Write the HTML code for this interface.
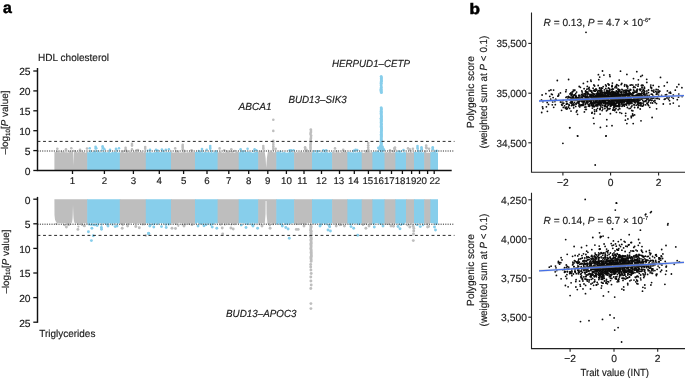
<!DOCTYPE html>
<html><head><meta charset="utf-8"><title>Figure</title>
<style>
html,body{margin:0;padding:0;background:#fff;}
svg{display:block;text-rendering:geometricPrecision;font-family:"Liberation Sans",sans-serif;font-size:10.3px;fill:#1a1a1a;}
text{stroke:#1a1a1a;stroke-width:0.16px;}
</style></head>
<body>
<svg width="685" height="378" viewBox="0 0 685 378">
<rect width="685" height="378" fill="#fff"/>
<g id="man-top">
<path d="M54.4,170.3 L54.4,151.6 L55.1,152.1 L55.8,152.2 L56.5,151.4 L57.2,151.6 L57.9,152.7 L58.6,151.5 L59.3,151.6 L60.0,152.7 L60.7,152.3 L61.4,151.9 L62.1,152.1 L62.8,152.3 L63.5,151.8 L64.2,151.6 L64.9,152.5 L65.6,152.3 L66.3,152.1 L67.0,152.5 L67.7,152.2 L68.4,152.8 L69.1,151.7 L69.8,152.2 L70.5,152.1 L71.2,151.9 L71.9,152.2 L72.6,151.7 L73.3,152.5 L74.0,152.6 L74.7,151.6 L75.4,152.1 L76.1,151.8 L76.8,151.5 L77.5,152.7 L78.2,152.0 L78.9,151.6 L79.6,152.3 L80.3,151.7 L81.0,152.7 L81.7,151.7 L82.4,151.4 L83.1,151.7 L83.8,151.9 L84.5,152.1 L85.2,152.7 L85.9,152.4 L86.6,151.9 L87.3,151.4 L87.8,152.1 L87.8,170.3Z" fill="#bebebe"/>
<path d="M87.2,170.3 L87.2,151.6 L87.9,152.8 L88.6,152.0 L89.3,152.4 L90.0,151.5 L90.7,151.4 L91.4,152.6 L92.1,152.2 L92.8,151.8 L93.5,151.8 L94.2,151.5 L94.9,151.6 L95.6,151.4 L96.3,152.6 L97.0,152.1 L97.7,151.6 L98.4,152.4 L99.1,151.7 L99.8,151.5 L100.5,152.2 L101.2,152.7 L101.9,151.4 L102.6,152.5 L103.3,151.7 L104.0,151.5 L104.7,151.4 L105.4,151.8 L106.1,152.4 L106.8,152.1 L107.5,152.6 L108.2,151.7 L108.9,151.8 L109.6,151.8 L110.3,152.8 L111.0,152.7 L111.7,151.9 L112.4,152.0 L113.1,151.8 L113.8,152.4 L114.5,151.5 L115.2,151.5 L115.9,152.0 L116.6,151.7 L117.3,152.6 L118.0,152.4 L118.7,152.2 L119.4,152.3 L120.1,152.4 L120.4,152.1 L120.4,170.3Z" fill="#87ceeb"/>
<path d="M119.8,170.3 L119.8,152.5 L120.5,152.7 L121.2,151.6 L121.9,152.3 L122.6,151.6 L123.3,152.0 L124.0,152.5 L124.7,152.7 L125.4,152.5 L126.1,151.4 L126.8,151.9 L127.5,151.6 L128.2,152.8 L128.9,151.6 L129.6,151.7 L130.3,151.9 L131.0,151.5 L131.7,152.6 L132.4,152.3 L133.1,151.6 L133.8,152.1 L134.5,151.5 L135.2,152.3 L135.9,151.7 L136.6,151.5 L137.3,151.6 L138.0,152.2 L138.7,152.3 L139.4,151.9 L140.1,152.3 L140.8,151.9 L141.5,151.6 L142.2,151.8 L142.9,152.0 L143.6,152.7 L144.3,151.6 L145.0,151.5 L145.7,152.2 L146.4,152.7 L146.4,152.1 L146.4,170.3Z" fill="#bebebe"/>
<path d="M145.8,170.3 L145.8,152.7 L146.5,152.4 L147.2,151.5 L147.9,152.5 L148.6,152.4 L149.3,151.6 L150.0,152.1 L150.7,151.5 L151.4,152.5 L152.1,152.4 L152.8,152.5 L153.5,152.5 L154.2,151.8 L154.9,152.5 L155.6,151.7 L156.3,151.6 L157.0,151.9 L157.7,152.1 L158.4,151.8 L159.1,152.2 L159.8,152.2 L160.5,151.7 L161.2,152.3 L161.9,151.9 L162.6,152.4 L163.3,151.8 L164.0,152.5 L164.7,152.0 L165.4,152.2 L166.1,152.3 L166.8,152.1 L167.5,151.8 L168.2,152.8 L168.9,151.5 L169.6,151.9 L170.3,152.2 L171.0,151.4 L171.6,152.1 L171.6,170.3Z" fill="#87ceeb"/>
<path d="M171.0,170.3 L171.0,151.6 L171.7,152.5 L172.4,152.5 L173.1,152.3 L173.8,152.7 L174.5,152.5 L175.2,151.8 L175.9,152.3 L176.6,151.9 L177.3,152.4 L178.0,151.9 L178.7,151.6 L179.4,152.6 L180.1,152.4 L180.8,152.4 L181.5,152.2 L182.2,152.5 L182.9,152.0 L183.6,152.2 L184.3,151.5 L185.0,152.2 L185.7,152.5 L186.4,152.4 L187.1,152.5 L187.8,152.1 L188.5,152.6 L189.2,151.6 L189.9,152.6 L190.6,151.9 L191.3,151.5 L192.0,152.3 L192.7,152.0 L193.4,152.0 L194.1,152.6 L194.8,151.6 L195.5,152.3 L195.6,152.1 L195.6,170.3Z" fill="#bebebe"/>
<path d="M195.0,170.3 L195.0,152.0 L195.7,152.1 L196.4,152.1 L197.1,151.6 L197.8,152.1 L198.5,152.6 L199.2,151.6 L199.9,151.4 L200.6,151.5 L201.3,152.0 L202.0,152.8 L202.7,151.5 L203.4,152.8 L204.1,152.2 L204.8,151.6 L205.5,152.0 L206.2,151.7 L206.9,152.4 L207.6,152.2 L208.3,151.8 L209.0,151.8 L209.7,152.6 L210.4,152.5 L211.1,152.0 L211.8,152.0 L212.5,152.4 L213.2,152.8 L213.9,151.5 L214.6,151.6 L215.3,151.9 L216.0,152.1 L216.7,151.5 L217.4,151.5 L218.1,151.7 L218.2,152.1 L218.2,170.3Z" fill="#87ceeb"/>
<path d="M217.6,170.3 L217.6,151.9 L218.3,152.4 L219.0,152.3 L219.7,151.4 L220.4,151.5 L221.1,152.0 L221.8,152.6 L222.5,152.7 L223.2,151.9 L223.9,152.6 L224.6,152.7 L225.3,152.0 L226.0,152.4 L226.7,151.9 L227.4,151.6 L228.1,152.2 L228.8,151.5 L229.5,152.3 L230.2,152.5 L230.9,152.7 L231.6,152.0 L232.3,151.6 L233.0,152.7 L233.7,152.6 L234.4,152.8 L235.1,152.2 L235.8,152.3 L236.5,151.9 L237.2,151.7 L237.9,151.8 L238.6,152.4 L239.3,152.1 L239.3,170.3Z" fill="#bebebe"/>
<path d="M238.7,170.3 L238.7,151.9 L239.4,152.4 L240.1,152.1 L240.8,152.0 L241.5,152.8 L242.2,151.6 L242.9,152.1 L243.6,151.6 L244.3,152.7 L245.0,152.1 L245.7,151.9 L246.4,151.6 L247.1,152.2 L247.8,152.0 L248.5,151.6 L249.2,151.4 L249.9,151.9 L250.6,152.2 L251.3,152.1 L252.0,152.7 L252.7,152.7 L253.4,152.7 L254.1,152.5 L254.8,152.1 L255.5,152.1 L256.2,152.0 L256.9,152.0 L257.6,151.5 L258.3,152.5 L258.8,152.1 L258.8,170.3Z" fill="#87ceeb"/>
<path d="M258.2,170.3 L258.2,151.7 L258.9,151.4 L259.6,152.1 L260.3,152.4 L261.0,152.0 L261.7,151.9 L262.4,152.3 L263.1,151.6 L263.8,151.4 L264.5,152.2 L265.2,152.1 L265.9,152.6 L266.6,152.0 L267.3,152.5 L268.0,151.4 L268.7,151.4 L269.4,152.2 L270.1,151.7 L270.8,151.5 L271.5,151.6 L272.2,151.9 L272.9,151.9 L273.6,152.2 L274.3,152.6 L275.0,151.9 L275.7,151.7 L276.4,152.2 L276.9,152.1 L276.9,170.3Z" fill="#bebebe"/>
<path d="M276.3,170.3 L276.3,151.4 L277.0,151.9 L277.7,151.8 L278.4,151.9 L279.1,151.5 L279.8,152.2 L280.5,152.3 L281.2,152.4 L281.9,152.7 L282.6,151.9 L283.3,152.3 L284.0,152.0 L284.7,151.7 L285.4,152.6 L286.1,152.4 L286.8,152.7 L287.5,152.6 L288.2,152.7 L288.9,151.6 L289.6,151.4 L290.3,151.7 L291.0,152.0 L291.7,152.4 L292.4,152.0 L293.1,152.1 L293.8,152.5 L294.5,151.5 L294.7,152.1 L294.7,170.3Z" fill="#87ceeb"/>
<path d="M294.1,170.3 L294.1,152.3 L294.8,151.5 L295.5,151.7 L296.2,152.4 L296.9,152.4 L297.6,152.0 L298.3,151.8 L299.0,152.6 L299.7,151.8 L300.4,151.4 L301.1,151.7 L301.8,151.4 L302.5,152.5 L303.2,151.6 L303.9,152.8 L304.6,151.7 L305.3,151.8 L306.0,152.2 L306.7,151.8 L307.4,151.9 L308.1,151.5 L308.8,151.9 L309.5,151.4 L310.2,151.7 L310.9,152.7 L311.6,151.8 L312.3,151.8 L312.6,152.1 L312.6,170.3Z" fill="#bebebe"/>
<path d="M312.0,170.3 L312.0,152.4 L312.7,152.6 L313.4,151.8 L314.1,151.9 L314.8,152.4 L315.5,152.5 L316.2,152.3 L316.9,151.7 L317.6,151.7 L318.3,152.5 L319.0,152.4 L319.7,152.7 L320.4,152.5 L321.1,152.0 L321.8,151.6 L322.5,152.6 L323.2,152.4 L323.9,152.2 L324.6,152.4 L325.3,151.9 L326.0,151.9 L326.7,152.2 L327.4,152.1 L328.1,152.4 L328.8,152.7 L329.5,152.6 L330.2,151.9 L330.9,151.9 L331.6,152.7 L332.3,152.0 L332.7,152.1 L332.7,170.3Z" fill="#87ceeb"/>
<path d="M332.1,170.3 L332.1,152.5 L332.8,151.5 L333.5,152.0 L334.2,152.1 L334.9,152.5 L335.6,152.6 L336.3,151.6 L337.0,152.3 L337.7,152.3 L338.4,151.6 L339.1,152.6 L339.8,152.2 L340.5,152.7 L341.2,151.7 L341.9,152.1 L342.6,151.9 L343.3,152.3 L344.0,152.3 L344.7,152.1 L345.4,151.9 L346.1,152.1 L346.8,151.9 L347.5,152.6 L348.0,152.1 L348.0,170.3Z" fill="#bebebe"/>
<path d="M347.4,170.3 L347.4,152.0 L348.1,152.1 L348.8,151.8 L349.5,151.8 L350.2,152.7 L350.9,151.8 L351.6,152.6 L352.3,152.2 L353.0,152.8 L353.7,151.6 L354.4,152.7 L355.1,152.5 L355.8,152.2 L356.5,152.4 L357.2,152.4 L357.9,152.0 L358.6,152.3 L359.3,151.7 L360.0,151.4 L360.7,152.3 L361.4,152.1 L362.1,152.7 L362.3,152.1 L362.3,170.3Z" fill="#87ceeb"/>
<path d="M361.7,170.3 L361.7,151.8 L362.4,152.5 L363.1,152.8 L363.8,152.7 L364.5,152.8 L365.2,151.6 L365.9,151.6 L366.6,151.7 L367.3,151.9 L368.0,151.6 L368.7,151.6 L369.4,151.4 L370.1,152.7 L370.8,151.9 L371.5,152.3 L372.2,152.0 L372.9,152.4 L373.0,152.1 L373.0,170.3Z" fill="#bebebe"/>
<path d="M372.4,170.3 L372.4,152.5 L373.1,151.9 L373.8,152.1 L374.5,151.5 L375.2,151.8 L375.9,151.7 L376.6,151.8 L377.3,151.9 L378.0,152.2 L378.7,151.9 L379.4,151.9 L380.1,152.6 L380.8,151.4 L381.5,151.4 L382.2,151.5 L382.9,152.6 L383.6,152.3 L384.3,152.4 L385.0,152.7 L385.1,152.1 L385.1,170.3Z" fill="#87ceeb"/>
<path d="M384.5,170.3 L384.5,151.7 L385.2,152.7 L385.9,151.7 L386.6,152.1 L387.3,152.4 L388.0,152.5 L388.7,151.7 L389.4,152.1 L390.1,151.5 L390.8,151.8 L391.5,152.8 L392.2,152.7 L392.9,152.2 L393.6,152.5 L394.3,152.7 L395.0,151.9 L395.7,152.8 L396.0,152.1 L396.0,170.3Z" fill="#bebebe"/>
<path d="M395.4,170.3 L395.4,152.0 L396.1,151.6 L396.8,152.1 L397.5,152.2 L398.2,152.4 L398.9,152.3 L399.6,151.5 L400.3,152.3 L401.0,152.7 L401.7,152.3 L402.4,152.8 L403.1,152.1 L403.8,152.5 L404.5,151.6 L405.2,152.7 L405.9,152.0 L406.6,152.6 L406.6,152.1 L406.6,170.3Z" fill="#87ceeb"/>
<path d="M406.0,170.3 L406.0,151.8 L406.7,152.3 L407.4,152.6 L408.1,152.4 L408.8,152.3 L409.5,152.8 L410.2,151.5 L410.9,151.5 L411.6,152.2 L412.3,152.7 L413.0,152.4 L413.7,151.8 L414.4,151.6 L414.6,152.1 L414.6,170.3Z" fill="#bebebe"/>
<path d="M414.0,170.3 L414.0,152.0 L414.7,152.1 L415.4,152.1 L416.1,152.3 L416.8,151.8 L417.5,152.6 L418.2,151.8 L418.9,151.5 L419.6,151.9 L420.3,152.7 L421.0,151.6 L421.7,151.8 L422.4,152.7 L423.1,151.9 L423.8,152.6 L424.5,151.5 L424.8,152.1 L424.8,170.3Z" fill="#87ceeb"/>
<path d="M424.2,170.3 L424.2,152.6 L424.9,151.7 L425.6,151.7 L426.3,152.4 L427.0,152.8 L427.7,152.7 L428.4,152.5 L429.1,152.7 L429.8,152.8 L430.5,152.2 L431.0,152.1 L431.0,170.3Z" fill="#bebebe"/>
<path d="M430.4,170.3 L430.4,151.6 L431.1,152.6 L431.8,152.0 L432.5,151.8 L433.2,152.1 L433.9,151.4 L434.6,151.4 L435.3,151.8 L436.0,152.2 L436.7,152.4 L437.4,152.7 L438.0,152.1 L438.0,170.3Z" fill="#87ceeb"/>
<circle cx="80.6" cy="151.1" r="1.1" fill="#bebebe"/>
<circle cx="75.0" cy="151.0" r="1.1" fill="#bebebe"/>
<circle cx="73.5" cy="150.9" r="1.1" fill="#bebebe"/>
<circle cx="57.3" cy="151.5" r="1.1" fill="#bebebe"/>
<circle cx="61.6" cy="151.5" r="1.1" fill="#bebebe"/>
<circle cx="69.7" cy="151.5" r="1.1" fill="#bebebe"/>
<circle cx="72.7" cy="151.4" r="1.1" fill="#bebebe"/>
<circle cx="90.5" cy="151.4" r="1.1" fill="#87ceeb"/>
<circle cx="97.6" cy="151.1" r="1.1" fill="#87ceeb"/>
<circle cx="109.8" cy="150.8" r="1.1" fill="#87ceeb"/>
<circle cx="101.8" cy="150.4" r="1.1" fill="#87ceeb"/>
<circle cx="117.2" cy="150.7" r="1.1" fill="#87ceeb"/>
<circle cx="90.6" cy="151.0" r="1.1" fill="#87ceeb"/>
<circle cx="94.9" cy="151.4" r="1.1" fill="#87ceeb"/>
<circle cx="122.6" cy="151.3" r="1.1" fill="#bebebe"/>
<circle cx="126.2" cy="150.0" r="1.1" fill="#bebebe"/>
<circle cx="136.3" cy="150.2" r="1.1" fill="#bebebe"/>
<circle cx="124.8" cy="151.1" r="1.1" fill="#bebebe"/>
<circle cx="127.1" cy="151.4" r="1.1" fill="#bebebe"/>
<circle cx="158.0" cy="150.6" r="1.1" fill="#87ceeb"/>
<circle cx="163.4" cy="151.3" r="1.1" fill="#87ceeb"/>
<circle cx="147.6" cy="150.7" r="1.1" fill="#87ceeb"/>
<circle cx="156.9" cy="150.4" r="1.1" fill="#87ceeb"/>
<circle cx="162.6" cy="150.6" r="1.1" fill="#87ceeb"/>
<circle cx="177.6" cy="151.5" r="1.1" fill="#bebebe"/>
<circle cx="184.5" cy="151.5" r="1.1" fill="#bebebe"/>
<circle cx="191.8" cy="150.7" r="1.1" fill="#bebebe"/>
<circle cx="176.3" cy="151.1" r="1.1" fill="#bebebe"/>
<circle cx="184.4" cy="150.7" r="1.1" fill="#bebebe"/>
<circle cx="216.1" cy="151.0" r="1.1" fill="#87ceeb"/>
<circle cx="211.6" cy="151.0" r="1.1" fill="#87ceeb"/>
<circle cx="198.7" cy="150.8" r="1.1" fill="#87ceeb"/>
<circle cx="202.3" cy="151.0" r="1.1" fill="#87ceeb"/>
<circle cx="199.2" cy="151.5" r="1.1" fill="#87ceeb"/>
<circle cx="234.9" cy="150.8" r="1.1" fill="#bebebe"/>
<circle cx="233.0" cy="151.5" r="1.1" fill="#bebebe"/>
<circle cx="226.6" cy="151.3" r="1.1" fill="#bebebe"/>
<circle cx="230.1" cy="151.5" r="1.1" fill="#bebebe"/>
<circle cx="253.3" cy="151.3" r="1.1" fill="#87ceeb"/>
<circle cx="244.3" cy="151.2" r="1.1" fill="#87ceeb"/>
<circle cx="241.9" cy="151.4" r="1.1" fill="#87ceeb"/>
<circle cx="241.6" cy="151.3" r="1.1" fill="#87ceeb"/>
<circle cx="267.9" cy="150.7" r="1.1" fill="#bebebe"/>
<circle cx="264.8" cy="150.6" r="1.1" fill="#bebebe"/>
<circle cx="266.9" cy="151.5" r="1.1" fill="#bebebe"/>
<circle cx="261.0" cy="151.4" r="1.1" fill="#bebebe"/>
<circle cx="290.7" cy="151.5" r="1.1" fill="#87ceeb"/>
<circle cx="291.1" cy="150.2" r="1.1" fill="#87ceeb"/>
<circle cx="280.7" cy="151.5" r="1.1" fill="#87ceeb"/>
<circle cx="306.2" cy="150.9" r="1.1" fill="#bebebe"/>
<circle cx="310.3" cy="150.9" r="1.1" fill="#bebebe"/>
<circle cx="306.7" cy="151.1" r="1.1" fill="#bebebe"/>
<circle cx="316.9" cy="151.1" r="1.1" fill="#87ceeb"/>
<circle cx="318.9" cy="151.1" r="1.1" fill="#87ceeb"/>
<circle cx="313.9" cy="151.1" r="1.1" fill="#87ceeb"/>
<circle cx="324.5" cy="151.3" r="1.1" fill="#87ceeb"/>
<circle cx="344.3" cy="151.5" r="1.1" fill="#bebebe"/>
<circle cx="344.4" cy="151.4" r="1.1" fill="#bebebe"/>
<circle cx="336.6" cy="151.2" r="1.1" fill="#bebebe"/>
<circle cx="353.9" cy="150.6" r="1.1" fill="#87ceeb"/>
<circle cx="353.3" cy="150.9" r="1.1" fill="#87ceeb"/>
<circle cx="355.5" cy="150.6" r="1.1" fill="#87ceeb"/>
<circle cx="366.1" cy="151.1" r="1.1" fill="#bebebe"/>
<circle cx="367.1" cy="151.2" r="1.1" fill="#bebebe"/>
<circle cx="382.6" cy="150.7" r="1.1" fill="#87ceeb"/>
<circle cx="377.8" cy="151.5" r="1.1" fill="#87ceeb"/>
<circle cx="393.6" cy="151.6" r="1.1" fill="#bebebe"/>
<circle cx="392.6" cy="151.1" r="1.1" fill="#bebebe"/>
<circle cx="400.2" cy="151.5" r="1.1" fill="#87ceeb"/>
<circle cx="398.5" cy="151.3" r="1.1" fill="#87ceeb"/>
<circle cx="410.2" cy="150.4" r="1.1" fill="#bebebe"/>
<circle cx="418.1" cy="150.9" r="1.1" fill="#87ceeb"/>
<circle cx="420.5" cy="151.1" r="1.1" fill="#87ceeb"/>
<circle cx="425.3" cy="151.4" r="1.1" fill="#bebebe"/>
<circle cx="435.7" cy="151.1" r="1.1" fill="#87ceeb"/>
<path d="M72.9,150 L73.4,166 L74.0,150Z" fill="#fff" opacity="0.8"/>
<path d="M264.4,149.5 L265.6,158 L266.2,167.8 L266.9,158 L268.2,149.5Z" fill="#fff"/>
<circle cx="57.3" cy="148.7" r="1.3" fill="#bebebe"/>
<circle cx="66.0" cy="149.3" r="1.3" fill="#bebebe"/>
<circle cx="71.3" cy="148.3" r="1.3" fill="#bebebe"/>
<circle cx="80.0" cy="149.7" r="1.3" fill="#bebebe"/>
<circle cx="87.0" cy="148.5" r="1.3" fill="#bebebe"/>
<circle cx="89.7" cy="148.3" r="1.3" fill="#87ceeb"/>
<circle cx="95.6" cy="146.7" r="1.3" fill="#87ceeb"/>
<circle cx="95.6" cy="148.4" r="1.3" fill="#87ceeb"/>
<circle cx="96.3" cy="148.3" r="1.3" fill="#87ceeb"/>
<circle cx="102.6" cy="146.3" r="1.3" fill="#87ceeb"/>
<circle cx="102.6" cy="148.0" r="1.3" fill="#87ceeb"/>
<circle cx="103.3" cy="148.0" r="1.3" fill="#87ceeb"/>
<circle cx="104.4" cy="149.3" r="1.3" fill="#87ceeb"/>
<circle cx="110.0" cy="149.9" r="1.3" fill="#87ceeb"/>
<circle cx="116.0" cy="148.9" r="1.3" fill="#87ceeb"/>
<circle cx="119.0" cy="148.3" r="1.3" fill="#87ceeb"/>
<circle cx="125.6" cy="147.7" r="1.3" fill="#bebebe"/>
<circle cx="125.6" cy="149.4" r="1.3" fill="#bebebe"/>
<circle cx="132.0" cy="143.9" r="1.3" fill="#bebebe"/>
<circle cx="132.0" cy="145.6" r="1.3" fill="#bebebe"/>
<circle cx="132.0" cy="149.4" r="1.3" fill="#bebebe"/>
<circle cx="138.0" cy="150.1" r="1.3" fill="#bebebe"/>
<circle cx="145.2" cy="147.1" r="1.3" fill="#bebebe"/>
<circle cx="145.2" cy="148.8" r="1.3" fill="#bebebe"/>
<circle cx="150.0" cy="149.9" r="1.3" fill="#87ceeb"/>
<circle cx="156.0" cy="149.7" r="1.3" fill="#87ceeb"/>
<circle cx="161.9" cy="149.6" r="1.3" fill="#87ceeb"/>
<circle cx="165.8" cy="149.7" r="1.3" fill="#87ceeb"/>
<circle cx="168.9" cy="149.2" r="1.3" fill="#87ceeb"/>
<circle cx="175.2" cy="148.4" r="1.3" fill="#bebebe"/>
<circle cx="182.7" cy="144.9" r="1.3" fill="#bebebe"/>
<circle cx="182.7" cy="146.6" r="1.3" fill="#bebebe"/>
<circle cx="182.7" cy="147.7" r="1.3" fill="#bebebe"/>
<circle cx="182.7" cy="149.4" r="1.3" fill="#bebebe"/>
<circle cx="191.5" cy="150.2" r="1.3" fill="#bebebe"/>
<circle cx="202.0" cy="149.1" r="1.3" fill="#87ceeb"/>
<circle cx="206.7" cy="149.7" r="1.3" fill="#87ceeb"/>
<circle cx="210.2" cy="146.1" r="1.3" fill="#87ceeb"/>
<circle cx="210.2" cy="147.8" r="1.3" fill="#87ceeb"/>
<circle cx="210.2" cy="148.7" r="1.3" fill="#87ceeb"/>
<circle cx="219.6" cy="148.4" r="1.3" fill="#bebebe"/>
<circle cx="224.3" cy="150.2" r="1.3" fill="#bebebe"/>
<circle cx="231.3" cy="149.2" r="1.3" fill="#bebebe"/>
<circle cx="240.6" cy="149.2" r="1.3" fill="#87ceeb"/>
<circle cx="247.6" cy="148.7" r="1.3" fill="#87ceeb"/>
<circle cx="254.6" cy="149.2" r="1.3" fill="#87ceeb"/>
<circle cx="256.3" cy="150.2" r="1.3" fill="#87ceeb"/>
<circle cx="263.3" cy="146.1" r="1.3" fill="#bebebe"/>
<circle cx="263.3" cy="147.8" r="1.3" fill="#bebebe"/>
<circle cx="263.3" cy="148.7" r="1.3" fill="#bebebe"/>
<circle cx="275.7" cy="148.7" r="1.3" fill="#bebebe"/>
<circle cx="289.7" cy="150.2" r="1.3" fill="#87ceeb"/>
<circle cx="293.5" cy="150.2" r="1.3" fill="#87ceeb"/>
<circle cx="305.1" cy="147.2" r="1.3" fill="#bebebe"/>
<circle cx="305.1" cy="148.9" r="1.3" fill="#bebebe"/>
<circle cx="306.5" cy="149.7" r="1.3" fill="#bebebe"/>
<circle cx="323.4" cy="150.2" r="1.3" fill="#87ceeb"/>
<circle cx="326.2" cy="150.2" r="1.3" fill="#87ceeb"/>
<circle cx="335.0" cy="148.4" r="1.3" fill="#bebebe"/>
<circle cx="343.2" cy="149.7" r="1.3" fill="#bebebe"/>
<circle cx="355.6" cy="149.7" r="1.3" fill="#87ceeb"/>
<circle cx="357.2" cy="150.0" r="1.3" fill="#87ceeb"/>
<circle cx="378.3" cy="147.9" r="1.3" fill="#87ceeb"/>
<circle cx="379.6" cy="149.3" r="1.3" fill="#87ceeb"/>
<circle cx="383.0" cy="148.7" r="1.3" fill="#87ceeb"/>
<circle cx="384.0" cy="150.1" r="1.3" fill="#87ceeb"/>
<circle cx="390.0" cy="150.2" r="1.3" fill="#bebebe"/>
<circle cx="394.3" cy="148.4" r="1.3" fill="#bebebe"/>
<circle cx="395.0" cy="147.5" r="1.3" fill="#bebebe"/>
<circle cx="395.0" cy="149.2" r="1.3" fill="#bebebe"/>
<circle cx="403.5" cy="150.0" r="1.3" fill="#87ceeb"/>
<circle cx="408.0" cy="148.4" r="1.3" fill="#bebebe"/>
<circle cx="409.8" cy="149.2" r="1.3" fill="#bebebe"/>
<circle cx="412.9" cy="148.7" r="1.3" fill="#bebebe"/>
<circle cx="417.5" cy="146.1" r="1.3" fill="#87ceeb"/>
<circle cx="417.5" cy="147.8" r="1.3" fill="#87ceeb"/>
<circle cx="417.7" cy="148.7" r="1.3" fill="#87ceeb"/>
<circle cx="421.5" cy="147.2" r="1.3" fill="#87ceeb"/>
<circle cx="421.5" cy="148.9" r="1.3" fill="#87ceeb"/>
<circle cx="421.8" cy="149.2" r="1.3" fill="#87ceeb"/>
<circle cx="426.2" cy="145.6" r="1.3" fill="#bebebe"/>
<circle cx="426.2" cy="147.3" r="1.3" fill="#bebebe"/>
<circle cx="426.5" cy="148.2" r="1.3" fill="#bebebe"/>
<circle cx="429.0" cy="148.7" r="1.3" fill="#bebebe"/>
<circle cx="432.7" cy="147.2" r="1.3" fill="#87ceeb"/>
<circle cx="432.7" cy="148.9" r="1.3" fill="#87ceeb"/>
<circle cx="432.9" cy="149.2" r="1.3" fill="#87ceeb"/>
<circle cx="436.7" cy="150.7" r="1.3" fill="#87ceeb"/>
<circle cx="273.3" cy="119.7" r="1.3" fill="#bebebe"/>
<circle cx="273.3" cy="130.9" r="1.3" fill="#bebebe"/>
<circle cx="273.3" cy="140.7" r="1.3" fill="#bebebe"/>
<circle cx="273.3" cy="142.6" r="1.3" fill="#bebebe"/>
<circle cx="273.3" cy="144.4" r="1.3" fill="#bebebe"/>
<circle cx="273.3" cy="146.2" r="1.3" fill="#bebebe"/>
<circle cx="273.3" cy="148.0" r="1.3" fill="#bebebe"/>
<circle cx="273.3" cy="149.6" r="1.3" fill="#bebebe"/>
<circle cx="310.8" cy="129.6" r="1.35" fill="#bebebe"/>
<circle cx="311.0" cy="131.1" r="1.35" fill="#bebebe"/>
<circle cx="310.8" cy="132.6" r="1.35" fill="#bebebe"/>
<circle cx="310.5" cy="134.1" r="1.35" fill="#bebebe"/>
<circle cx="311.1" cy="135.6" r="1.35" fill="#bebebe"/>
<circle cx="311.0" cy="137.1" r="1.35" fill="#bebebe"/>
<circle cx="310.8" cy="138.6" r="1.35" fill="#bebebe"/>
<circle cx="310.7" cy="140.1" r="1.35" fill="#bebebe"/>
<circle cx="310.9" cy="141.6" r="1.35" fill="#bebebe"/>
<circle cx="310.7" cy="143.1" r="1.35" fill="#bebebe"/>
<circle cx="310.5" cy="144.6" r="1.35" fill="#bebebe"/>
<circle cx="310.5" cy="146.1" r="1.35" fill="#bebebe"/>
<circle cx="310.5" cy="147.6" r="1.35" fill="#bebebe"/>
<circle cx="310.6" cy="149.1" r="1.35" fill="#bebebe"/>
<circle cx="368.2" cy="143.0" r="1.3" fill="#bebebe"/>
<circle cx="368.2" cy="145.3" r="1.3" fill="#bebebe"/>
<circle cx="368.2" cy="147.4" r="1.3" fill="#bebebe"/>
<circle cx="368.2" cy="149.3" r="1.3" fill="#bebebe"/>
<circle cx="381.2" cy="76.6" r="1.5" fill="#87ceeb"/>
<circle cx="381.4" cy="77.7" r="1.5" fill="#87ceeb"/>
<circle cx="381.3" cy="78.8" r="1.5" fill="#87ceeb"/>
<circle cx="381.3" cy="79.9" r="1.5" fill="#87ceeb"/>
<circle cx="381.5" cy="81.0" r="1.5" fill="#87ceeb"/>
<circle cx="381.1" cy="82.1" r="1.5" fill="#87ceeb"/>
<circle cx="381.2" cy="83.2" r="1.5" fill="#87ceeb"/>
<circle cx="381.1" cy="84.9" r="1.5" fill="#87ceeb"/>
<circle cx="381.3" cy="87.0" r="1.5" fill="#87ceeb"/>
<circle cx="381.1" cy="88.1" r="1.5" fill="#87ceeb"/>
<circle cx="381.1" cy="89.2" r="1.5" fill="#87ceeb"/>
<circle cx="381.1" cy="90.3" r="1.5" fill="#87ceeb"/>
<circle cx="381.2" cy="91.4" r="1.5" fill="#87ceeb"/>
<circle cx="381.4" cy="92.5" r="1.5" fill="#87ceeb"/>
<circle cx="381.2" cy="107.8" r="1.5" fill="#87ceeb"/>
<circle cx="381.4" cy="109.0" r="1.5" fill="#87ceeb"/>
<circle cx="381.2" cy="110.1" r="1.5" fill="#87ceeb"/>
<circle cx="381.2" cy="111.3" r="1.5" fill="#87ceeb"/>
<circle cx="381.3" cy="112.4" r="1.5" fill="#87ceeb"/>
<circle cx="381.1" cy="113.6" r="1.5" fill="#87ceeb"/>
<circle cx="381.3" cy="114.7" r="1.5" fill="#87ceeb"/>
<circle cx="381.3" cy="115.9" r="1.5" fill="#87ceeb"/>
<circle cx="381.5" cy="117.0" r="1.5" fill="#87ceeb"/>
<circle cx="381.1" cy="118.2" r="1.5" fill="#87ceeb"/>
<circle cx="381.4" cy="119.3" r="1.5" fill="#87ceeb"/>
<circle cx="381.3" cy="120.5" r="1.5" fill="#87ceeb"/>
<circle cx="381.3" cy="121.6" r="1.5" fill="#87ceeb"/>
<circle cx="381.1" cy="122.8" r="1.5" fill="#87ceeb"/>
<circle cx="381.5" cy="123.9" r="1.5" fill="#87ceeb"/>
<circle cx="381.2" cy="125.1" r="1.5" fill="#87ceeb"/>
<circle cx="381.3" cy="126.2" r="1.5" fill="#87ceeb"/>
<circle cx="381.3" cy="127.4" r="1.5" fill="#87ceeb"/>
<circle cx="381.5" cy="128.5" r="1.5" fill="#87ceeb"/>
<circle cx="381.4" cy="129.7" r="1.5" fill="#87ceeb"/>
<circle cx="381.5" cy="130.8" r="1.5" fill="#87ceeb"/>
<circle cx="381.2" cy="132.0" r="1.5" fill="#87ceeb"/>
<circle cx="381.4" cy="133.1" r="1.5" fill="#87ceeb"/>
<circle cx="381.3" cy="134.3" r="1.5" fill="#87ceeb"/>
<circle cx="381.3" cy="135.4" r="1.5" fill="#87ceeb"/>
<circle cx="381.4" cy="136.6" r="1.5" fill="#87ceeb"/>
<circle cx="381.3" cy="137.7" r="1.5" fill="#87ceeb"/>
<circle cx="381.2" cy="138.9" r="1.5" fill="#87ceeb"/>
<circle cx="381.4" cy="140.0" r="1.5" fill="#87ceeb"/>
<circle cx="381.1" cy="141.2" r="1.5" fill="#87ceeb"/>
<circle cx="381.3" cy="142.3" r="1.5" fill="#87ceeb"/>
<circle cx="381.3" cy="143.5" r="1.5" fill="#87ceeb"/>
<circle cx="381.2" cy="144.6" r="1.5" fill="#87ceeb"/>
<circle cx="381.3" cy="145.8" r="1.5" fill="#87ceeb"/>
<circle cx="381.4" cy="146.9" r="1.5" fill="#87ceeb"/>
<circle cx="381.1" cy="148.1" r="1.5" fill="#87ceeb"/>
<circle cx="381.2" cy="149.2" r="1.5" fill="#87ceeb"/>
<circle cx="381.1" cy="150.4" r="1.5" fill="#87ceeb"/>
<circle cx="380.2" cy="146.5" r="1.4" fill="#87ceeb"/>
<circle cx="382.5" cy="147.0" r="1.4" fill="#87ceeb"/>
<circle cx="379.4" cy="148.4" r="1.4" fill="#87ceeb"/>
<circle cx="383.2" cy="148.8" r="1.4" fill="#87ceeb"/>
</g>
<line x1="37.5" x2="454.5" y1="141.4" y2="141.4" stroke="#2a2a2a" stroke-width="1.0" stroke-dasharray="2.9 2.65"/>
<line x1="37.5" x2="454.5" y1="151.0" y2="151.0" stroke="#2a2a2a" stroke-width="1.0" stroke-dasharray="1.1 1.23"/>
<path d="M37.5,68 V170.5 H451.7" fill="none" stroke="#111" stroke-width="1.45"/>
<line x1="33.3" x2="37.5" y1="170.5" y2="170.5" stroke="#111" stroke-width="1.3"/>
<text x="30.6" y="174.8" text-anchor="end">0</text>
<line x1="33.3" x2="37.5" y1="150.6" y2="150.6" stroke="#111" stroke-width="1.3"/>
<text x="30.6" y="154.9" text-anchor="end">5</text>
<line x1="33.3" x2="37.5" y1="130.7" y2="130.7" stroke="#111" stroke-width="1.3"/>
<text x="30.6" y="135.0" text-anchor="end">10</text>
<line x1="33.3" x2="37.5" y1="110.8" y2="110.8" stroke="#111" stroke-width="1.3"/>
<text x="30.6" y="115.1" text-anchor="end">15</text>
<line x1="33.3" x2="37.5" y1="90.9" y2="90.9" stroke="#111" stroke-width="1.3"/>
<text x="30.6" y="95.2" text-anchor="end">20</text>
<line x1="33.3" x2="37.5" y1="71.0" y2="71.0" stroke="#111" stroke-width="1.3"/>
<text x="30.6" y="75.3" text-anchor="end">25</text>
<line x1="72.5" x2="72.5" y1="170.5" y2="174" stroke="#111" stroke-width="1.3"/>
<text x="72.5" y="184.1" text-anchor="middle" font-size="9.7">1</text>
<line x1="104.4" x2="104.4" y1="170.5" y2="174" stroke="#111" stroke-width="1.3"/>
<text x="104.4" y="184.1" text-anchor="middle" font-size="9.7">2</text>
<line x1="133.4" x2="133.4" y1="170.5" y2="174" stroke="#111" stroke-width="1.3"/>
<text x="133.4" y="184.1" text-anchor="middle" font-size="9.7">3</text>
<line x1="159.3" x2="159.3" y1="170.5" y2="174" stroke="#111" stroke-width="1.3"/>
<text x="159.3" y="184.1" text-anchor="middle" font-size="9.7">4</text>
<line x1="183.6" x2="183.6" y1="170.5" y2="174" stroke="#111" stroke-width="1.3"/>
<text x="183.6" y="184.1" text-anchor="middle" font-size="9.7">5</text>
<line x1="207.0" x2="207.0" y1="170.5" y2="174" stroke="#111" stroke-width="1.3"/>
<text x="207.0" y="184.1" text-anchor="middle" font-size="9.7">6</text>
<line x1="228.8" x2="228.8" y1="170.5" y2="174" stroke="#111" stroke-width="1.3"/>
<text x="228.8" y="184.1" text-anchor="middle" font-size="9.7">7</text>
<line x1="248.7" x2="248.7" y1="170.5" y2="174" stroke="#111" stroke-width="1.3"/>
<text x="248.7" y="184.1" text-anchor="middle" font-size="9.7">8</text>
<line x1="267.8" x2="267.8" y1="170.5" y2="174" stroke="#111" stroke-width="1.3"/>
<text x="267.8" y="184.1" text-anchor="middle" font-size="9.7">9</text>
<line x1="286.4" x2="286.4" y1="170.5" y2="174" stroke="#111" stroke-width="1.3"/>
<text x="286.4" y="184.1" text-anchor="middle" font-size="9.7">10</text>
<line x1="304.0" x2="304.0" y1="170.5" y2="174" stroke="#111" stroke-width="1.3"/>
<text x="302.4" y="184.1" text-anchor="middle" font-size="9.7">11</text>
<line x1="321.5" x2="321.5" y1="170.5" y2="174" stroke="#111" stroke-width="1.3"/>
<text x="321.5" y="184.1" text-anchor="middle" font-size="9.7">12</text>
<line x1="339.5" x2="339.5" y1="170.5" y2="174" stroke="#111" stroke-width="1.3"/>
<text x="338.8" y="184.1" text-anchor="middle" font-size="9.7">13</text>
<line x1="354.3" x2="354.3" y1="170.5" y2="174" stroke="#111" stroke-width="1.3"/>
<text x="353.4" y="184.1" text-anchor="middle" font-size="9.7">14</text>
<line x1="368.4" x2="368.4" y1="170.5" y2="174" stroke="#111" stroke-width="1.3"/>
<text x="367.8" y="184.1" text-anchor="middle" font-size="9.7">15</text>
<line x1="380.0" x2="380.0" y1="170.5" y2="174" stroke="#111" stroke-width="1.3"/>
<text x="378.6" y="184.1" text-anchor="middle" font-size="9.7">16</text>
<line x1="391.5" x2="391.5" y1="170.5" y2="174" stroke="#111" stroke-width="1.3"/>
<text x="389.3" y="184.1" text-anchor="middle" font-size="9.7">17</text>
<line x1="402.4" x2="402.4" y1="170.5" y2="174" stroke="#111" stroke-width="1.3"/>
<text x="400.1" y="184.1" text-anchor="middle" font-size="9.7">18</text>
<line x1="411.6" x2="411.6" y1="170.5" y2="174" stroke="#111" stroke-width="1.3"/>
<text x="410.9" y="184.1" text-anchor="middle" font-size="9.7">19</text>
<line x1="419.5" x2="419.5" y1="170.5" y2="174" stroke="#111" stroke-width="1.3"/>
<text x="421.6" y="184.1" text-anchor="middle" font-size="9.7">20</text>
<line x1="427.6" x2="427.6" y1="170.5" y2="174" stroke="#111" stroke-width="1.3"/>
<line x1="434.2" x2="434.2" y1="170.5" y2="174" stroke="#111" stroke-width="1.3"/>
<text x="434.8" y="184.1" text-anchor="middle" font-size="9.7">22</text>
<g id="man-bot">
<path d="M54.4,199.2 L54.5,215.2 L55.0,219.7 L56.2,222.2 L57.8,223.4 L57.9,223.5 L58.6,222.8 L59.3,223.0 L60.0,223.3 L60.7,223.3 L61.4,222.7 L62.1,224.0 L62.8,223.0 L63.5,223.6 L64.2,223.0 L64.9,223.5 L65.6,223.2 L66.3,223.1 L67.0,223.4 L67.7,223.5 L68.4,223.5 L69.1,223.7 L69.8,223.1 L70.5,222.8 L71.2,223.1 L71.9,223.2 L72.6,223.6 L73.3,223.3 L74.0,223.1 L74.7,222.8 L75.4,223.5 L76.1,222.9 L76.8,223.4 L77.5,223.7 L78.2,223.6 L78.9,222.9 L79.6,223.2 L80.3,224.0 L81.0,222.8 L81.7,223.7 L82.4,223.3 L83.1,223.6 L83.8,223.3 L84.5,222.9 L85.2,223.5 L85.9,222.7 L86.6,223.9 L87.3,223.8 L87.8,223.4 L87.8,199.2Z" fill="#bebebe"/>
<path d="M87.2,199.2 L87.2,223.2 L87.9,223.5 L88.6,223.4 L89.3,224.1 L90.0,222.8 L90.7,223.1 L91.4,223.3 L92.1,223.8 L92.8,223.7 L93.5,223.3 L94.2,222.7 L94.9,223.6 L95.6,223.3 L96.3,222.9 L97.0,223.6 L97.7,223.3 L98.4,223.1 L99.1,223.1 L99.8,223.4 L100.5,223.0 L101.2,223.3 L101.9,224.0 L102.6,223.4 L103.3,223.1 L104.0,223.4 L104.7,224.0 L105.4,223.9 L106.1,223.6 L106.8,224.0 L107.5,223.8 L108.2,223.7 L108.9,223.3 L109.6,222.9 L110.3,223.7 L111.0,223.6 L111.7,224.1 L112.4,223.1 L113.1,223.9 L113.8,223.0 L114.5,224.0 L115.2,224.1 L115.9,222.8 L116.6,223.2 L117.3,224.1 L118.0,224.1 L118.7,223.6 L119.4,222.9 L120.1,222.7 L120.4,223.4 L120.4,199.2Z" fill="#87ceeb"/>
<path d="M119.8,199.2 L119.8,223.0 L120.5,224.0 L121.2,223.8 L121.9,223.3 L122.6,223.8 L123.3,224.0 L124.0,223.1 L124.7,223.9 L125.4,223.1 L126.1,223.2 L126.8,222.8 L127.5,222.9 L128.2,223.5 L128.9,222.7 L129.6,223.5 L130.3,222.9 L131.0,223.7 L131.7,222.9 L132.4,223.0 L133.1,223.1 L133.8,223.5 L134.5,223.8 L135.2,223.8 L135.9,223.7 L136.6,223.7 L137.3,223.5 L138.0,223.2 L138.7,223.0 L139.4,223.9 L140.1,223.3 L140.8,223.6 L141.5,222.8 L142.2,223.2 L142.9,222.8 L143.6,223.2 L144.3,223.7 L145.0,223.2 L145.7,223.7 L146.4,222.9 L146.4,223.4 L146.4,199.2Z" fill="#bebebe"/>
<path d="M145.8,199.2 L145.8,223.2 L146.5,223.3 L147.2,223.4 L147.9,223.0 L148.6,223.7 L149.3,223.9 L150.0,223.8 L150.7,222.7 L151.4,223.4 L152.1,223.2 L152.8,223.5 L153.5,222.8 L154.2,223.7 L154.9,223.3 L155.6,224.0 L156.3,222.7 L157.0,223.3 L157.7,223.4 L158.4,223.9 L159.1,223.8 L159.8,223.0 L160.5,223.1 L161.2,223.7 L161.9,223.3 L162.6,223.1 L163.3,224.0 L164.0,223.9 L164.7,223.2 L165.4,223.5 L166.1,224.0 L166.8,223.0 L167.5,224.0 L168.2,223.9 L168.9,223.7 L169.6,223.7 L170.3,223.7 L171.0,223.5 L171.6,223.4 L171.6,199.2Z" fill="#87ceeb"/>
<path d="M171.0,199.2 L171.0,223.5 L171.7,223.0 L172.4,223.5 L173.1,223.6 L173.8,223.4 L174.5,223.7 L175.2,223.3 L175.9,223.8 L176.6,223.7 L177.3,222.8 L178.0,223.8 L178.7,223.1 L179.4,222.8 L180.1,222.9 L180.8,223.2 L181.5,223.4 L182.2,223.2 L182.9,223.0 L183.6,223.8 L184.3,223.2 L185.0,223.9 L185.7,223.0 L186.4,223.7 L187.1,223.2 L187.8,223.9 L188.5,223.6 L189.2,223.7 L189.9,222.8 L190.6,223.8 L191.3,223.2 L192.0,223.7 L192.7,223.9 L193.4,222.9 L194.1,222.7 L194.8,223.8 L195.5,224.1 L195.6,223.4 L195.6,199.2Z" fill="#bebebe"/>
<path d="M195.0,199.2 L195.0,224.0 L195.7,223.3 L196.4,223.9 L197.1,222.7 L197.8,222.8 L198.5,223.5 L199.2,223.4 L199.9,223.9 L200.6,223.0 L201.3,223.3 L202.0,224.1 L202.7,223.1 L203.4,223.3 L204.1,223.6 L204.8,224.1 L205.5,223.0 L206.2,223.7 L206.9,223.3 L207.6,223.3 L208.3,223.1 L209.0,223.4 L209.7,223.5 L210.4,223.2 L211.1,223.4 L211.8,223.6 L212.5,223.9 L213.2,223.5 L213.9,223.2 L214.6,224.0 L215.3,222.9 L216.0,222.8 L216.7,224.0 L217.4,223.1 L218.1,222.9 L218.2,223.4 L218.2,199.2Z" fill="#87ceeb"/>
<path d="M217.6,199.2 L217.6,223.2 L218.3,223.2 L219.0,223.2 L219.7,223.9 L220.4,223.1 L221.1,222.9 L221.8,223.0 L222.5,224.0 L223.2,223.3 L223.9,223.2 L224.6,223.8 L225.3,224.0 L226.0,223.4 L226.7,223.8 L227.4,223.1 L228.1,223.2 L228.8,223.5 L229.5,223.0 L230.2,223.1 L230.9,223.0 L231.6,223.1 L232.3,223.9 L233.0,223.8 L233.7,222.9 L234.4,223.2 L235.1,223.7 L235.8,223.9 L236.5,223.5 L237.2,223.7 L237.9,223.0 L238.6,223.8 L239.3,223.4 L239.3,199.2Z" fill="#bebebe"/>
<path d="M238.7,199.2 L238.7,223.8 L239.4,223.3 L240.1,223.0 L240.8,222.7 L241.5,223.6 L242.2,223.6 L242.9,222.7 L243.6,223.4 L244.3,224.0 L245.0,222.7 L245.7,222.9 L246.4,222.8 L247.1,223.3 L247.8,223.2 L248.5,223.9 L249.2,222.8 L249.9,223.0 L250.6,224.0 L251.3,222.7 L252.0,223.1 L252.7,223.3 L253.4,222.7 L254.1,223.1 L254.8,223.5 L255.5,223.6 L256.2,223.6 L256.9,223.6 L257.6,223.6 L258.3,222.7 L258.8,223.4 L258.8,199.2Z" fill="#87ceeb"/>
<path d="M258.2,199.2 L258.2,223.6 L258.9,223.5 L259.6,223.0 L260.3,223.3 L261.0,223.0 L261.7,223.9 L262.4,223.1 L263.1,222.9 L263.8,223.8 L264.5,223.8 L265.2,223.9 L265.9,223.6 L266.6,223.3 L267.3,223.4 L268.0,223.5 L268.7,223.5 L269.4,224.0 L270.1,223.1 L270.8,223.8 L271.5,222.7 L272.2,223.0 L272.9,224.0 L273.6,223.1 L274.3,223.4 L275.0,224.0 L275.7,223.6 L276.4,223.4 L276.9,223.4 L276.9,199.2Z" fill="#bebebe"/>
<path d="M276.3,199.2 L276.3,223.7 L277.0,224.1 L277.7,224.0 L278.4,223.0 L279.1,222.9 L279.8,223.1 L280.5,222.9 L281.2,223.8 L281.9,223.9 L282.6,222.9 L283.3,222.8 L284.0,223.2 L284.7,223.7 L285.4,223.8 L286.1,223.3 L286.8,223.6 L287.5,224.0 L288.2,223.9 L288.9,222.9 L289.6,223.7 L290.3,223.8 L291.0,224.0 L291.7,223.3 L292.4,222.9 L293.1,223.4 L293.8,223.2 L294.5,223.3 L294.7,223.4 L294.7,199.2Z" fill="#87ceeb"/>
<path d="M294.1,199.2 L294.1,223.8 L294.8,223.6 L295.5,223.7 L296.2,223.6 L296.9,222.9 L297.6,222.8 L298.3,223.3 L299.0,223.9 L299.7,223.6 L300.4,223.8 L301.1,223.6 L301.8,223.8 L302.5,224.1 L303.2,223.7 L303.9,223.9 L304.6,224.1 L305.3,223.7 L306.0,223.8 L306.7,222.8 L307.4,222.8 L308.1,224.0 L308.8,223.0 L309.5,223.1 L310.2,222.9 L310.9,223.6 L311.6,222.7 L312.3,223.8 L312.6,223.4 L312.6,199.2Z" fill="#bebebe"/>
<path d="M312.0,199.2 L312.0,223.1 L312.7,223.7 L313.4,224.0 L314.1,223.7 L314.8,223.3 L315.5,223.6 L316.2,223.9 L316.9,223.7 L317.6,223.1 L318.3,222.7 L319.0,223.9 L319.7,223.6 L320.4,222.8 L321.1,223.5 L321.8,223.5 L322.5,223.1 L323.2,223.9 L323.9,223.0 L324.6,222.9 L325.3,223.1 L326.0,223.2 L326.7,223.9 L327.4,223.6 L328.1,222.9 L328.8,223.3 L329.5,222.8 L330.2,223.7 L330.9,223.9 L331.6,222.8 L332.3,223.4 L332.7,223.4 L332.7,199.2Z" fill="#87ceeb"/>
<path d="M332.1,199.2 L332.1,223.0 L332.8,223.1 L333.5,223.7 L334.2,224.1 L334.9,223.1 L335.6,223.5 L336.3,223.1 L337.0,222.8 L337.7,223.5 L338.4,222.9 L339.1,223.7 L339.8,223.7 L340.5,222.9 L341.2,223.5 L341.9,223.0 L342.6,223.8 L343.3,223.1 L344.0,223.7 L344.7,223.6 L345.4,223.5 L346.1,223.0 L346.8,223.9 L347.5,223.2 L348.0,223.4 L348.0,199.2Z" fill="#bebebe"/>
<path d="M347.4,199.2 L347.4,223.8 L348.1,223.4 L348.8,223.3 L349.5,223.7 L350.2,223.2 L350.9,223.8 L351.6,223.3 L352.3,223.7 L353.0,223.7 L353.7,224.0 L354.4,223.3 L355.1,223.2 L355.8,224.1 L356.5,223.4 L357.2,223.3 L357.9,223.7 L358.6,223.1 L359.3,224.0 L360.0,223.8 L360.7,223.6 L361.4,223.1 L362.1,223.8 L362.3,223.4 L362.3,199.2Z" fill="#87ceeb"/>
<path d="M361.7,199.2 L361.7,224.0 L362.4,223.8 L363.1,224.0 L363.8,222.8 L364.5,223.7 L365.2,223.9 L365.9,223.4 L366.6,222.8 L367.3,223.5 L368.0,223.0 L368.7,222.7 L369.4,224.0 L370.1,223.9 L370.8,223.6 L371.5,223.7 L372.2,223.6 L372.9,223.3 L373.0,223.4 L373.0,199.2Z" fill="#bebebe"/>
<path d="M372.4,199.2 L372.4,222.9 L373.1,223.1 L373.8,223.4 L374.5,223.5 L375.2,223.1 L375.9,222.9 L376.6,223.2 L377.3,223.0 L378.0,224.0 L378.7,223.0 L379.4,223.3 L380.1,223.5 L380.8,223.1 L381.5,223.4 L382.2,223.5 L382.9,222.8 L383.6,224.0 L384.3,223.5 L385.0,222.9 L385.1,223.4 L385.1,199.2Z" fill="#87ceeb"/>
<path d="M384.5,199.2 L384.5,224.1 L385.2,222.9 L385.9,223.7 L386.6,223.4 L387.3,223.1 L388.0,223.2 L388.7,223.4 L389.4,223.2 L390.1,223.0 L390.8,223.3 L391.5,223.3 L392.2,223.7 L392.9,223.0 L393.6,222.8 L394.3,223.9 L395.0,222.8 L395.7,223.6 L396.0,223.4 L396.0,199.2Z" fill="#bebebe"/>
<path d="M395.4,199.2 L395.4,223.5 L396.1,224.1 L396.8,223.0 L397.5,223.9 L398.2,222.9 L398.9,222.9 L399.6,223.6 L400.3,222.9 L401.0,223.5 L401.7,223.6 L402.4,222.9 L403.1,223.8 L403.8,223.3 L404.5,224.1 L405.2,222.7 L405.9,222.8 L406.6,223.6 L406.6,223.4 L406.6,199.2Z" fill="#87ceeb"/>
<path d="M406.0,199.2 L406.0,223.1 L406.7,223.3 L407.4,224.0 L408.1,223.2 L408.8,222.8 L409.5,222.9 L410.2,223.5 L410.9,223.8 L411.6,223.8 L412.3,223.4 L413.0,223.0 L413.7,222.9 L414.4,223.0 L414.6,223.4 L414.6,199.2Z" fill="#bebebe"/>
<path d="M414.0,199.2 L414.0,223.0 L414.7,224.0 L415.4,223.3 L416.1,222.9 L416.8,223.6 L417.5,223.3 L418.2,222.7 L418.9,224.1 L419.6,224.0 L420.3,223.1 L421.0,223.9 L421.7,223.3 L422.4,223.6 L423.1,223.6 L423.8,223.7 L424.5,223.3 L424.8,223.4 L424.8,199.2Z" fill="#87ceeb"/>
<path d="M424.2,199.2 L424.2,222.9 L424.9,223.8 L425.6,223.3 L426.3,223.3 L427.0,223.8 L427.7,223.7 L428.4,224.1 L429.1,223.2 L429.8,223.6 L430.5,222.8 L431.0,223.4 L431.0,199.2Z" fill="#bebebe"/>
<path d="M430.4,199.2 L430.4,222.9 L431.1,223.1 L431.8,223.1 L432.5,223.3 L433.2,223.0 L433.9,224.0 L434.6,223.3 L435.3,223.2 L436.0,224.0 L436.7,223.8 L437.4,223.8 L438.0,223.4 L438.0,199.2Z" fill="#87ceeb"/>
<circle cx="83.6" cy="225.5" r="1.1" fill="#bebebe"/>
<circle cx="64.8" cy="225.0" r="1.1" fill="#bebebe"/>
<circle cx="56.2" cy="223.8" r="1.1" fill="#bebebe"/>
<circle cx="68.3" cy="225.1" r="1.1" fill="#bebebe"/>
<circle cx="70.0" cy="224.1" r="1.1" fill="#bebebe"/>
<circle cx="81.9" cy="224.7" r="1.1" fill="#bebebe"/>
<circle cx="78.4" cy="226.6" r="1.1" fill="#bebebe"/>
<circle cx="68.9" cy="224.8" r="1.1" fill="#bebebe"/>
<circle cx="78.3" cy="224.0" r="1.1" fill="#bebebe"/>
<circle cx="67.6" cy="223.8" r="1.1" fill="#bebebe"/>
<circle cx="81.6" cy="224.2" r="1.1" fill="#bebebe"/>
<circle cx="64.3" cy="225.1" r="1.1" fill="#bebebe"/>
<circle cx="93.6" cy="225.0" r="1.1" fill="#87ceeb"/>
<circle cx="95.9" cy="225.2" r="1.1" fill="#87ceeb"/>
<circle cx="106.9" cy="224.5" r="1.1" fill="#87ceeb"/>
<circle cx="94.3" cy="225.2" r="1.1" fill="#87ceeb"/>
<circle cx="112.5" cy="224.7" r="1.1" fill="#87ceeb"/>
<circle cx="98.1" cy="223.6" r="1.1" fill="#87ceeb"/>
<circle cx="90.5" cy="224.6" r="1.1" fill="#87ceeb"/>
<circle cx="89.0" cy="224.4" r="1.1" fill="#87ceeb"/>
<circle cx="108.0" cy="224.1" r="1.1" fill="#87ceeb"/>
<circle cx="95.2" cy="224.7" r="1.1" fill="#87ceeb"/>
<circle cx="101.5" cy="224.7" r="1.1" fill="#87ceeb"/>
<circle cx="91.8" cy="224.7" r="1.1" fill="#87ceeb"/>
<circle cx="142.5" cy="223.6" r="1.1" fill="#bebebe"/>
<circle cx="122.7" cy="225.1" r="1.1" fill="#bebebe"/>
<circle cx="128.4" cy="223.5" r="1.1" fill="#bebebe"/>
<circle cx="144.5" cy="224.3" r="1.1" fill="#bebebe"/>
<circle cx="142.9" cy="224.2" r="1.1" fill="#bebebe"/>
<circle cx="121.5" cy="223.6" r="1.1" fill="#bebebe"/>
<circle cx="122.6" cy="223.8" r="1.1" fill="#bebebe"/>
<circle cx="142.6" cy="224.5" r="1.1" fill="#bebebe"/>
<circle cx="121.5" cy="223.6" r="1.1" fill="#bebebe"/>
<circle cx="127.4" cy="224.0" r="1.1" fill="#bebebe"/>
<circle cx="169.3" cy="223.8" r="1.1" fill="#87ceeb"/>
<circle cx="168.6" cy="224.5" r="1.1" fill="#87ceeb"/>
<circle cx="165.8" cy="224.7" r="1.1" fill="#87ceeb"/>
<circle cx="153.6" cy="224.0" r="1.1" fill="#87ceeb"/>
<circle cx="153.5" cy="224.0" r="1.1" fill="#87ceeb"/>
<circle cx="165.9" cy="224.5" r="1.1" fill="#87ceeb"/>
<circle cx="150.9" cy="224.7" r="1.1" fill="#87ceeb"/>
<circle cx="157.5" cy="224.0" r="1.1" fill="#87ceeb"/>
<circle cx="154.2" cy="223.9" r="1.1" fill="#87ceeb"/>
<circle cx="191.7" cy="224.9" r="1.1" fill="#bebebe"/>
<circle cx="192.2" cy="224.9" r="1.1" fill="#bebebe"/>
<circle cx="192.7" cy="223.9" r="1.1" fill="#bebebe"/>
<circle cx="184.5" cy="224.3" r="1.1" fill="#bebebe"/>
<circle cx="178.3" cy="225.8" r="1.1" fill="#bebebe"/>
<circle cx="185.3" cy="224.3" r="1.1" fill="#bebebe"/>
<circle cx="182.3" cy="224.5" r="1.1" fill="#bebebe"/>
<circle cx="188.9" cy="223.8" r="1.1" fill="#bebebe"/>
<circle cx="176.5" cy="224.1" r="1.1" fill="#bebebe"/>
<circle cx="206.2" cy="224.9" r="1.1" fill="#87ceeb"/>
<circle cx="205.5" cy="224.3" r="1.1" fill="#87ceeb"/>
<circle cx="202.2" cy="223.8" r="1.1" fill="#87ceeb"/>
<circle cx="213.1" cy="223.7" r="1.1" fill="#87ceeb"/>
<circle cx="210.8" cy="224.9" r="1.1" fill="#87ceeb"/>
<circle cx="200.2" cy="223.5" r="1.1" fill="#87ceeb"/>
<circle cx="211.4" cy="224.0" r="1.1" fill="#87ceeb"/>
<circle cx="208.3" cy="223.7" r="1.1" fill="#87ceeb"/>
<circle cx="221.4" cy="223.9" r="1.1" fill="#bebebe"/>
<circle cx="224.9" cy="224.6" r="1.1" fill="#bebebe"/>
<circle cx="228.5" cy="223.9" r="1.1" fill="#bebebe"/>
<circle cx="231.9" cy="224.0" r="1.1" fill="#bebebe"/>
<circle cx="235.0" cy="224.0" r="1.1" fill="#bebebe"/>
<circle cx="231.4" cy="224.5" r="1.1" fill="#bebebe"/>
<circle cx="220.5" cy="224.7" r="1.1" fill="#bebebe"/>
<circle cx="234.7" cy="224.2" r="1.1" fill="#bebebe"/>
<circle cx="241.6" cy="225.0" r="1.1" fill="#87ceeb"/>
<circle cx="251.9" cy="224.3" r="1.1" fill="#87ceeb"/>
<circle cx="241.1" cy="225.3" r="1.1" fill="#87ceeb"/>
<circle cx="251.9" cy="224.6" r="1.1" fill="#87ceeb"/>
<circle cx="253.9" cy="224.3" r="1.1" fill="#87ceeb"/>
<circle cx="248.3" cy="223.9" r="1.1" fill="#87ceeb"/>
<circle cx="246.4" cy="223.8" r="1.1" fill="#87ceeb"/>
<circle cx="259.7" cy="224.2" r="1.1" fill="#bebebe"/>
<circle cx="266.4" cy="223.5" r="1.1" fill="#bebebe"/>
<circle cx="269.8" cy="225.3" r="1.1" fill="#bebebe"/>
<circle cx="273.1" cy="224.2" r="1.1" fill="#bebebe"/>
<circle cx="269.0" cy="223.7" r="1.1" fill="#bebebe"/>
<circle cx="272.7" cy="223.9" r="1.1" fill="#bebebe"/>
<circle cx="287.8" cy="224.0" r="1.1" fill="#87ceeb"/>
<circle cx="285.4" cy="224.0" r="1.1" fill="#87ceeb"/>
<circle cx="279.9" cy="223.8" r="1.1" fill="#87ceeb"/>
<circle cx="281.9" cy="224.3" r="1.1" fill="#87ceeb"/>
<circle cx="277.3" cy="223.6" r="1.1" fill="#87ceeb"/>
<circle cx="287.0" cy="223.5" r="1.1" fill="#87ceeb"/>
<circle cx="304.1" cy="223.6" r="1.1" fill="#bebebe"/>
<circle cx="305.5" cy="223.9" r="1.1" fill="#bebebe"/>
<circle cx="304.5" cy="223.5" r="1.1" fill="#bebebe"/>
<circle cx="297.5" cy="223.9" r="1.1" fill="#bebebe"/>
<circle cx="295.9" cy="223.6" r="1.1" fill="#bebebe"/>
<circle cx="300.7" cy="223.8" r="1.1" fill="#bebebe"/>
<circle cx="321.2" cy="224.1" r="1.1" fill="#87ceeb"/>
<circle cx="329.0" cy="226.1" r="1.1" fill="#87ceeb"/>
<circle cx="327.9" cy="224.5" r="1.1" fill="#87ceeb"/>
<circle cx="330.0" cy="224.3" r="1.1" fill="#87ceeb"/>
<circle cx="321.4" cy="224.3" r="1.1" fill="#87ceeb"/>
<circle cx="320.7" cy="224.3" r="1.1" fill="#87ceeb"/>
<circle cx="325.0" cy="223.7" r="1.1" fill="#87ceeb"/>
<circle cx="340.2" cy="223.7" r="1.1" fill="#bebebe"/>
<circle cx="341.2" cy="224.9" r="1.1" fill="#bebebe"/>
<circle cx="339.9" cy="225.2" r="1.1" fill="#bebebe"/>
<circle cx="339.0" cy="224.2" r="1.1" fill="#bebebe"/>
<circle cx="336.1" cy="223.7" r="1.1" fill="#bebebe"/>
<circle cx="358.3" cy="223.6" r="1.1" fill="#87ceeb"/>
<circle cx="350.8" cy="224.2" r="1.1" fill="#87ceeb"/>
<circle cx="349.9" cy="224.1" r="1.1" fill="#87ceeb"/>
<circle cx="359.6" cy="224.0" r="1.1" fill="#87ceeb"/>
<circle cx="358.5" cy="223.7" r="1.1" fill="#87ceeb"/>
<circle cx="362.9" cy="225.0" r="1.1" fill="#bebebe"/>
<circle cx="370.6" cy="223.9" r="1.1" fill="#bebebe"/>
<circle cx="366.2" cy="223.8" r="1.1" fill="#bebebe"/>
<circle cx="363.7" cy="224.2" r="1.1" fill="#bebebe"/>
<circle cx="379.9" cy="223.5" r="1.1" fill="#87ceeb"/>
<circle cx="373.4" cy="223.5" r="1.1" fill="#87ceeb"/>
<circle cx="381.7" cy="223.8" r="1.1" fill="#87ceeb"/>
<circle cx="374.1" cy="223.6" r="1.1" fill="#87ceeb"/>
<circle cx="386.2" cy="223.9" r="1.1" fill="#bebebe"/>
<circle cx="392.8" cy="223.8" r="1.1" fill="#bebebe"/>
<circle cx="389.1" cy="224.0" r="1.1" fill="#bebebe"/>
<circle cx="389.0" cy="223.9" r="1.1" fill="#bebebe"/>
<circle cx="401.0" cy="224.9" r="1.1" fill="#87ceeb"/>
<circle cx="403.2" cy="223.9" r="1.1" fill="#87ceeb"/>
<circle cx="399.4" cy="224.1" r="1.1" fill="#87ceeb"/>
<circle cx="402.5" cy="223.9" r="1.1" fill="#87ceeb"/>
<circle cx="412.8" cy="225.4" r="1.1" fill="#bebebe"/>
<circle cx="409.0" cy="224.6" r="1.1" fill="#bebebe"/>
<circle cx="407.4" cy="225.3" r="1.1" fill="#bebebe"/>
<circle cx="417.4" cy="224.9" r="1.1" fill="#87ceeb"/>
<circle cx="423.1" cy="225.2" r="1.1" fill="#87ceeb"/>
<circle cx="416.6" cy="224.7" r="1.1" fill="#87ceeb"/>
<circle cx="427.0" cy="224.2" r="1.1" fill="#bebebe"/>
<circle cx="427.2" cy="223.6" r="1.1" fill="#bebebe"/>
<circle cx="436.5" cy="223.9" r="1.1" fill="#87ceeb"/>
<circle cx="435.3" cy="224.1" r="1.1" fill="#87ceeb"/>
<path d="M71.0,224.8 Q72.5,222 72.7,215 L73,205 L73.4,215 Q73.7,222 75.2,224.8 Z" fill="#fff" opacity="0.9"/>
<path d="M264.6,225 L265.5,214 L265.6,201 L266.5,201 L266.6,214 L267.6,225Z" fill="#fff" opacity="0.9"/>
<circle cx="66.4" cy="227.0" r="1.45" fill="#bebebe"/>
<circle cx="77.9" cy="229.4" r="1.45" fill="#bebebe"/>
<circle cx="84.4" cy="225.9" r="1.45" fill="#bebebe"/>
<circle cx="88.4" cy="231.7" r="1.45" fill="#87ceeb"/>
<circle cx="91.9" cy="228.2" r="1.45" fill="#87ceeb"/>
<circle cx="93.3" cy="235.7" r="1.45" fill="#87ceeb"/>
<circle cx="91.4" cy="240.6" r="1.45" fill="#87ceeb"/>
<circle cx="97.2" cy="225.6" r="1.45" fill="#87ceeb"/>
<circle cx="101.4" cy="227.5" r="1.45" fill="#87ceeb"/>
<circle cx="101.5" cy="229.2" r="1.45" fill="#87ceeb"/>
<circle cx="108.0" cy="226.0" r="1.45" fill="#87ceeb"/>
<circle cx="115.2" cy="226.6" r="1.45" fill="#87ceeb"/>
<circle cx="117.0" cy="226.0" r="1.45" fill="#87ceeb"/>
<circle cx="122.2" cy="228.2" r="1.45" fill="#bebebe"/>
<circle cx="127.6" cy="226.0" r="1.45" fill="#bebebe"/>
<circle cx="135.8" cy="226.5" r="1.45" fill="#bebebe"/>
<circle cx="139.3" cy="227.7" r="1.45" fill="#bebebe"/>
<circle cx="148.6" cy="233.4" r="1.45" fill="#87ceeb"/>
<circle cx="149.8" cy="226.0" r="1.45" fill="#87ceeb"/>
<circle cx="153.8" cy="227.0" r="1.45" fill="#87ceeb"/>
<circle cx="161.5" cy="226.6" r="1.45" fill="#87ceeb"/>
<circle cx="166.2" cy="227.5" r="1.45" fill="#87ceeb"/>
<circle cx="172.0" cy="228.2" r="1.45" fill="#bebebe"/>
<circle cx="175.5" cy="228.5" r="1.45" fill="#bebebe"/>
<circle cx="184.0" cy="226.0" r="1.45" fill="#bebebe"/>
<circle cx="198.0" cy="226.0" r="1.45" fill="#87ceeb"/>
<circle cx="204.0" cy="225.8" r="1.45" fill="#87ceeb"/>
<circle cx="212.2" cy="227.0" r="1.45" fill="#87ceeb"/>
<circle cx="216.8" cy="228.2" r="1.45" fill="#87ceeb"/>
<circle cx="222.2" cy="228.0" r="1.45" fill="#bebebe"/>
<circle cx="222.7" cy="234.0" r="1.45" fill="#bebebe"/>
<circle cx="230.9" cy="228.0" r="1.45" fill="#bebebe"/>
<circle cx="233.2" cy="229.0" r="1.45" fill="#bebebe"/>
<circle cx="246.0" cy="227.5" r="1.45" fill="#87ceeb"/>
<circle cx="253.0" cy="226.0" r="1.45" fill="#87ceeb"/>
<circle cx="257.6" cy="228.2" r="1.45" fill="#87ceeb"/>
<circle cx="270.1" cy="228.2" r="1.45" fill="#bebebe"/>
<circle cx="262.0" cy="226.0" r="1.45" fill="#bebebe"/>
<circle cx="282.3" cy="226.0" r="1.45" fill="#87ceeb"/>
<circle cx="285.8" cy="227.5" r="1.45" fill="#87ceeb"/>
<circle cx="288.1" cy="229.0" r="1.45" fill="#87ceeb"/>
<circle cx="289.3" cy="238.3" r="1.45" fill="#87ceeb"/>
<circle cx="296.3" cy="229.4" r="1.45" fill="#bebebe"/>
<circle cx="298.2" cy="229.4" r="1.45" fill="#bebebe"/>
<circle cx="304.0" cy="226.0" r="1.45" fill="#bebebe"/>
<circle cx="328.0" cy="230.0" r="1.45" fill="#87ceeb"/>
<circle cx="330.4" cy="231.0" r="1.45" fill="#87ceeb"/>
<circle cx="329.7" cy="226.8" r="1.45" fill="#87ceeb"/>
<circle cx="320.0" cy="226.0" r="1.45" fill="#87ceeb"/>
<circle cx="336.2" cy="226.0" r="1.45" fill="#bebebe"/>
<circle cx="344.4" cy="226.0" r="1.45" fill="#bebebe"/>
<circle cx="351.0" cy="226.6" r="1.45" fill="#87ceeb"/>
<circle cx="353.7" cy="228.2" r="1.45" fill="#87ceeb"/>
<circle cx="357.7" cy="235.2" r="1.45" fill="#87ceeb"/>
<circle cx="365.9" cy="228.2" r="1.45" fill="#bebebe"/>
<circle cx="369.0" cy="226.0" r="1.45" fill="#bebebe"/>
<circle cx="374.3" cy="227.0" r="1.45" fill="#87ceeb"/>
<circle cx="383.0" cy="226.0" r="1.45" fill="#87ceeb"/>
<circle cx="391.0" cy="226.0" r="1.45" fill="#bebebe"/>
<circle cx="393.5" cy="226.3" r="1.45" fill="#bebebe"/>
<circle cx="398.0" cy="226.5" r="1.45" fill="#87ceeb"/>
<circle cx="400.0" cy="228.7" r="1.45" fill="#87ceeb"/>
<circle cx="409.8" cy="227.0" r="1.45" fill="#bebebe"/>
<circle cx="413.3" cy="240.6" r="1.45" fill="#bebebe"/>
<circle cx="413.5" cy="234.0" r="1.45" fill="#bebebe"/>
<circle cx="413.7" cy="231.0" r="1.45" fill="#bebebe"/>
<circle cx="413.8" cy="228.5" r="1.45" fill="#bebebe"/>
<circle cx="413.2" cy="226.5" r="1.45" fill="#bebebe"/>
<circle cx="420.3" cy="226.6" r="1.45" fill="#87ceeb"/>
<circle cx="427.6" cy="227.0" r="1.45" fill="#bebebe"/>
<circle cx="428.6" cy="226.4" r="1.45" fill="#bebebe"/>
<circle cx="435.5" cy="230.0" r="1.45" fill="#87ceeb"/>
<circle cx="434.5" cy="227.0" r="1.45" fill="#87ceeb"/>
<circle cx="145.8" cy="235.5" r="1.25" fill="#bebebe"/>
<circle cx="148.6" cy="233.4" r="1.6" fill="#87ceeb"/>
<circle cx="310.8" cy="225.0" r="1.45" fill="#bebebe"/>
<circle cx="311.0" cy="226.3" r="1.45" fill="#bebebe"/>
<circle cx="311.0" cy="227.6" r="1.45" fill="#bebebe"/>
<circle cx="310.8" cy="228.9" r="1.45" fill="#bebebe"/>
<circle cx="310.7" cy="230.2" r="1.45" fill="#bebebe"/>
<circle cx="311.3" cy="231.5" r="1.45" fill="#bebebe"/>
<circle cx="310.8" cy="232.8" r="1.45" fill="#bebebe"/>
<circle cx="311.2" cy="234.1" r="1.45" fill="#bebebe"/>
<circle cx="310.9" cy="235.4" r="1.45" fill="#bebebe"/>
<circle cx="310.7" cy="236.7" r="1.45" fill="#bebebe"/>
<circle cx="311.3" cy="238.0" r="1.45" fill="#bebebe"/>
<circle cx="311.1" cy="239.3" r="1.45" fill="#bebebe"/>
<circle cx="310.9" cy="240.6" r="1.45" fill="#bebebe"/>
<circle cx="311.2" cy="241.9" r="1.45" fill="#bebebe"/>
<circle cx="311.1" cy="243.2" r="1.45" fill="#bebebe"/>
<circle cx="310.9" cy="244.5" r="1.45" fill="#bebebe"/>
<circle cx="311.1" cy="245.8" r="1.45" fill="#bebebe"/>
<circle cx="311.1" cy="247.1" r="1.45" fill="#bebebe"/>
<circle cx="310.8" cy="248.4" r="1.45" fill="#bebebe"/>
<circle cx="311.1" cy="249.7" r="1.45" fill="#bebebe"/>
<circle cx="311.2" cy="251.0" r="1.45" fill="#bebebe"/>
<circle cx="311.1" cy="252.3" r="1.45" fill="#bebebe"/>
<circle cx="311.2" cy="253.6" r="1.45" fill="#bebebe"/>
<circle cx="311.3" cy="254.9" r="1.45" fill="#bebebe"/>
<circle cx="311.2" cy="256.2" r="1.45" fill="#bebebe"/>
<circle cx="311.0" cy="257.5" r="1.45" fill="#bebebe"/>
<circle cx="311.0" cy="258.8" r="1.45" fill="#bebebe"/>
<circle cx="311.2" cy="260.1" r="1.45" fill="#bebebe"/>
<circle cx="311.1" cy="261.4" r="1.45" fill="#bebebe"/>
<circle cx="310.7" cy="264.5" r="1.45" fill="#bebebe"/>
<circle cx="310.7" cy="267.0" r="1.45" fill="#bebebe"/>
<circle cx="310.9" cy="270.0" r="1.45" fill="#bebebe"/>
<circle cx="311.2" cy="273.5" r="1.45" fill="#bebebe"/>
<circle cx="310.8" cy="277.0" r="1.45" fill="#bebebe"/>
<circle cx="310.9" cy="281.0" r="1.45" fill="#bebebe"/>
<circle cx="311.2" cy="285.0" r="1.45" fill="#bebebe"/>
<circle cx="310.8" cy="288.5" r="1.45" fill="#bebebe"/>
<circle cx="310.9" cy="303.6" r="1.45" fill="#bebebe"/>
<circle cx="310.9" cy="308.6" r="1.45" fill="#bebebe"/>
</g>
<line x1="37.5" x2="454.5" y1="235.4" y2="235.4" stroke="#2a2a2a" stroke-width="1.0" stroke-dasharray="2.9 2.65"/>
<line x1="37.5" x2="454.5" y1="224.2" y2="224.2" stroke="#2a2a2a" stroke-width="1.0" stroke-dasharray="1.1 1.23"/>
<path d="M37.5,196.9 V322.8" fill="none" stroke="#111" stroke-width="1.45"/>
<line x1="33.3" x2="37.5" y1="199.2" y2="199.2" stroke="#111" stroke-width="1.3"/>
<text x="30.6" y="203.5" text-anchor="end">0</text>
<line x1="33.3" x2="37.5" y1="223.8" y2="223.8" stroke="#111" stroke-width="1.3"/>
<text x="30.6" y="228.1" text-anchor="end">5</text>
<line x1="33.3" x2="37.5" y1="248.4" y2="248.4" stroke="#111" stroke-width="1.3"/>
<text x="30.6" y="252.7" text-anchor="end">10</text>
<line x1="33.3" x2="37.5" y1="273.0" y2="273.0" stroke="#111" stroke-width="1.3"/>
<text x="30.6" y="277.3" text-anchor="end">15</text>
<line x1="33.3" x2="37.5" y1="297.6" y2="297.6" stroke="#111" stroke-width="1.3"/>
<text x="30.6" y="301.9" text-anchor="end">20</text>
<line x1="33.3" x2="37.5" y1="322.2" y2="322.2" stroke="#111" stroke-width="1.3"/>
<text x="30.6" y="326.5" text-anchor="end">25</text>
<text transform="translate(3.1,13.3) scale(0.99,1)" font-weight="bold" font-size="16" style="stroke:#000;stroke-width:0.5px;fill:#000">a</text>
<text x="38.1" y="61.4" textLength="71" lengthAdjust="spacingAndGlyphs">HDL cholesterol</text>
<text x="39.2" y="337.4" textLength="56.2" lengthAdjust="spacingAndGlyphs">Triglycerides</text>
<text x="238.6" y="110.1" font-style="italic" textLength="33" lengthAdjust="spacingAndGlyphs">ABCA1</text>
<text x="288.4" y="103.2" font-style="italic" textLength="58.4" lengthAdjust="spacingAndGlyphs">BUD13–SIK3</text>
<text x="332" y="66.5" font-style="italic" textLength="78" lengthAdjust="spacingAndGlyphs">HERPUD1–CETP</text>
<text x="226" y="317.4" font-style="italic" textLength="70.6" lengthAdjust="spacingAndGlyphs">BUD13–APOC3</text>
<text transform="translate(8.1,122.6) rotate(-90)" text-anchor="middle" font-size="9.9">–log<tspan font-size="6.2" dy="1.8">10</tspan><tspan dy="-1.8">[</tspan><tspan font-style="italic">P</tspan> value]</text>
<text transform="translate(8.6,261.6) rotate(-90)" text-anchor="middle" font-size="9.9">–log<tspan font-size="6.2" dy="1.8">10</tspan><tspan dy="-1.8">[</tspan><tspan font-style="italic">P</tspan> value]</text>
<text transform="translate(469.5,13.6) scale(1.13,1)" font-weight="bold" font-size="15.2" style="stroke:#000;stroke-width:0.5px;fill:#000">b</text>
<g fill="#0c0c0c">
<circle cx="585.7" cy="94.3" r="0.9"/>
<circle cx="679.0" cy="106.1" r="0.9"/>
<circle cx="585.5" cy="96.1" r="0.9"/>
<circle cx="598.6" cy="99.8" r="0.9"/>
<circle cx="575.0" cy="98.6" r="0.9"/>
<circle cx="599.1" cy="103.6" r="0.9"/>
<circle cx="645.7" cy="104.8" r="0.9"/>
<circle cx="609.5" cy="103.6" r="0.9"/>
<circle cx="623.4" cy="101.9" r="0.9"/>
<circle cx="597.5" cy="108.3" r="0.9"/>
<circle cx="652.6" cy="103.0" r="0.9"/>
<circle cx="613.0" cy="102.7" r="0.9"/>
<circle cx="579.1" cy="98.5" r="0.9"/>
<circle cx="627.6" cy="90.4" r="0.9"/>
<circle cx="600.2" cy="108.5" r="0.9"/>
<circle cx="623.6" cy="98.6" r="0.9"/>
<circle cx="612.4" cy="83.1" r="0.9"/>
<circle cx="615.4" cy="95.3" r="0.9"/>
<circle cx="612.4" cy="92.9" r="0.9"/>
<circle cx="587.3" cy="101.3" r="0.9"/>
<circle cx="573.0" cy="91.6" r="0.9"/>
<circle cx="632.5" cy="97.2" r="0.9"/>
<circle cx="605.8" cy="88.5" r="0.9"/>
<circle cx="615.9" cy="100.8" r="0.9"/>
<circle cx="597.9" cy="105.8" r="0.9"/>
<circle cx="560.5" cy="102.0" r="0.9"/>
<circle cx="578.4" cy="102.8" r="0.9"/>
<circle cx="642.6" cy="97.4" r="0.9"/>
<circle cx="590.2" cy="103.7" r="0.9"/>
<circle cx="599.9" cy="99.3" r="0.9"/>
<circle cx="573.8" cy="99.4" r="0.9"/>
<circle cx="596.4" cy="100.2" r="0.9"/>
<circle cx="600.1" cy="101.1" r="0.9"/>
<circle cx="603.7" cy="97.8" r="0.9"/>
<circle cx="607.3" cy="96.0" r="0.9"/>
<circle cx="593.9" cy="85.0" r="0.9"/>
<circle cx="595.2" cy="100.8" r="0.9"/>
<circle cx="608.7" cy="96.3" r="0.9"/>
<circle cx="616.7" cy="97.4" r="0.9"/>
<circle cx="605.6" cy="84.9" r="0.9"/>
<circle cx="650.8" cy="97.3" r="0.9"/>
<circle cx="613.9" cy="107.3" r="0.9"/>
<circle cx="612.8" cy="99.2" r="0.9"/>
<circle cx="593.2" cy="98.3" r="0.9"/>
<circle cx="633.6" cy="93.0" r="0.9"/>
<circle cx="584.4" cy="101.6" r="0.9"/>
<circle cx="570.1" cy="97.5" r="0.9"/>
<circle cx="585.5" cy="91.2" r="0.9"/>
<circle cx="623.8" cy="105.1" r="0.9"/>
<circle cx="581.5" cy="100.4" r="0.9"/>
<circle cx="640.0" cy="98.8" r="0.9"/>
<circle cx="608.4" cy="97.4" r="0.9"/>
<circle cx="572.5" cy="102.7" r="0.9"/>
<circle cx="603.4" cy="96.9" r="0.9"/>
<circle cx="651.7" cy="90.3" r="0.9"/>
<circle cx="588.3" cy="88.7" r="0.9"/>
<circle cx="577.5" cy="100.9" r="0.9"/>
<circle cx="621.2" cy="84.5" r="0.9"/>
<circle cx="640.2" cy="109.0" r="0.9"/>
<circle cx="633.3" cy="99.6" r="0.9"/>
<circle cx="601.0" cy="101.8" r="0.9"/>
<circle cx="613.4" cy="89.1" r="0.9"/>
<circle cx="616.7" cy="98.5" r="0.9"/>
<circle cx="637.1" cy="99.4" r="0.9"/>
<circle cx="660.5" cy="77.4" r="0.9"/>
<circle cx="606.3" cy="97.1" r="0.9"/>
<circle cx="640.1" cy="96.8" r="0.9"/>
<circle cx="600.6" cy="95.3" r="0.9"/>
<circle cx="623.0" cy="91.9" r="0.9"/>
<circle cx="586.5" cy="98.2" r="0.9"/>
<circle cx="590.5" cy="90.7" r="0.9"/>
<circle cx="618.8" cy="97.6" r="0.9"/>
<circle cx="587.4" cy="92.4" r="0.9"/>
<circle cx="630.2" cy="85.2" r="0.9"/>
<circle cx="595.7" cy="96.9" r="0.9"/>
<circle cx="610.7" cy="101.9" r="0.9"/>
<circle cx="606.9" cy="97.2" r="0.9"/>
<circle cx="600.9" cy="106.9" r="0.9"/>
<circle cx="612.0" cy="98.9" r="0.9"/>
<circle cx="634.8" cy="96.7" r="0.9"/>
<circle cx="580.4" cy="105.6" r="0.9"/>
<circle cx="616.1" cy="101.9" r="0.9"/>
<circle cx="604.7" cy="105.6" r="0.9"/>
<circle cx="587.0" cy="101.0" r="0.9"/>
<circle cx="615.8" cy="95.3" r="0.9"/>
<circle cx="587.8" cy="98.4" r="0.9"/>
<circle cx="607.0" cy="92.0" r="0.9"/>
<circle cx="638.6" cy="105.6" r="0.9"/>
<circle cx="560.4" cy="92.9" r="0.9"/>
<circle cx="614.8" cy="99.2" r="0.9"/>
<circle cx="619.6" cy="91.3" r="0.9"/>
<circle cx="585.9" cy="98.5" r="0.9"/>
<circle cx="621.5" cy="92.7" r="0.9"/>
<circle cx="617.3" cy="97.2" r="0.9"/>
<circle cx="600.5" cy="95.3" r="0.9"/>
<circle cx="638.0" cy="107.2" r="0.9"/>
<circle cx="577.5" cy="114.3" r="0.9"/>
<circle cx="624.3" cy="97.9" r="0.9"/>
<circle cx="603.3" cy="100.9" r="0.9"/>
<circle cx="583.5" cy="96.5" r="0.9"/>
<circle cx="604.6" cy="97.1" r="0.9"/>
<circle cx="600.5" cy="92.5" r="0.9"/>
<circle cx="628.5" cy="90.8" r="0.9"/>
<circle cx="573.0" cy="97.2" r="0.9"/>
<circle cx="604.2" cy="93.3" r="0.9"/>
<circle cx="597.9" cy="93.4" r="0.9"/>
<circle cx="646.6" cy="98.3" r="0.9"/>
<circle cx="582.0" cy="101.6" r="0.9"/>
<circle cx="634.3" cy="97.8" r="0.9"/>
<circle cx="566.7" cy="101.7" r="0.9"/>
<circle cx="617.1" cy="95.6" r="0.9"/>
<circle cx="605.6" cy="93.0" r="0.9"/>
<circle cx="617.9" cy="96.4" r="0.9"/>
<circle cx="591.9" cy="92.7" r="0.9"/>
<circle cx="562.0" cy="102.1" r="0.9"/>
<circle cx="571.7" cy="100.4" r="0.9"/>
<circle cx="640.2" cy="90.6" r="0.9"/>
<circle cx="613.8" cy="95.5" r="0.9"/>
<circle cx="587.9" cy="97.0" r="0.9"/>
<circle cx="630.3" cy="93.2" r="0.9"/>
<circle cx="590.8" cy="100.9" r="0.9"/>
<circle cx="590.9" cy="97.0" r="0.9"/>
<circle cx="579.5" cy="101.0" r="0.9"/>
<circle cx="636.8" cy="91.7" r="0.9"/>
<circle cx="655.7" cy="91.5" r="0.9"/>
<circle cx="585.4" cy="103.1" r="0.9"/>
<circle cx="615.5" cy="96.1" r="0.9"/>
<circle cx="632.0" cy="103.6" r="0.9"/>
<circle cx="659.3" cy="99.1" r="0.9"/>
<circle cx="550.9" cy="90.0" r="0.9"/>
<circle cx="611.8" cy="99.1" r="0.9"/>
<circle cx="623.9" cy="97.7" r="0.9"/>
<circle cx="572.9" cy="99.2" r="0.9"/>
<circle cx="618.2" cy="109.7" r="0.9"/>
<circle cx="613.1" cy="99.6" r="0.9"/>
<circle cx="625.7" cy="104.5" r="0.9"/>
<circle cx="594.4" cy="94.6" r="0.9"/>
<circle cx="618.4" cy="103.2" r="0.9"/>
<circle cx="593.8" cy="101.6" r="0.9"/>
<circle cx="622.9" cy="105.2" r="0.9"/>
<circle cx="612.1" cy="103.5" r="0.9"/>
<circle cx="599.3" cy="96.5" r="0.9"/>
<circle cx="574.4" cy="99.8" r="0.9"/>
<circle cx="647.9" cy="98.8" r="0.9"/>
<circle cx="634.9" cy="91.0" r="0.9"/>
<circle cx="629.4" cy="103.3" r="0.9"/>
<circle cx="592.4" cy="98.5" r="0.9"/>
<circle cx="599.9" cy="90.8" r="0.9"/>
<circle cx="648.4" cy="102.0" r="0.9"/>
<circle cx="626.2" cy="93.7" r="0.9"/>
<circle cx="587.9" cy="97.7" r="0.9"/>
<circle cx="609.4" cy="91.8" r="0.9"/>
<circle cx="611.7" cy="100.6" r="0.9"/>
<circle cx="603.6" cy="102.8" r="0.9"/>
<circle cx="585.7" cy="98.1" r="0.9"/>
<circle cx="638.5" cy="101.0" r="0.9"/>
<circle cx="622.5" cy="95.0" r="0.9"/>
<circle cx="603.7" cy="99.1" r="0.9"/>
<circle cx="570.7" cy="93.5" r="0.9"/>
<circle cx="594.4" cy="90.9" r="0.9"/>
<circle cx="608.3" cy="103.7" r="0.9"/>
<circle cx="629.3" cy="93.2" r="0.9"/>
<circle cx="599.6" cy="94.2" r="0.9"/>
<circle cx="635.1" cy="96.0" r="0.9"/>
<circle cx="611.9" cy="86.5" r="0.9"/>
<circle cx="590.7" cy="101.2" r="0.9"/>
<circle cx="580.4" cy="87.3" r="0.9"/>
<circle cx="572.8" cy="104.9" r="0.9"/>
<circle cx="605.0" cy="93.5" r="0.9"/>
<circle cx="616.6" cy="97.7" r="0.9"/>
<circle cx="642.0" cy="91.6" r="0.9"/>
<circle cx="608.4" cy="88.2" r="0.9"/>
<circle cx="580.9" cy="98.0" r="0.9"/>
<circle cx="665.2" cy="98.9" r="0.9"/>
<circle cx="616.2" cy="103.6" r="0.9"/>
<circle cx="602.4" cy="107.3" r="0.9"/>
<circle cx="602.5" cy="98.0" r="0.9"/>
<circle cx="576.3" cy="100.1" r="0.9"/>
<circle cx="624.1" cy="102.4" r="0.9"/>
<circle cx="617.8" cy="101.7" r="0.9"/>
<circle cx="647.0" cy="103.2" r="0.9"/>
<circle cx="635.3" cy="96.5" r="0.9"/>
<circle cx="629.7" cy="99.3" r="0.9"/>
<circle cx="639.1" cy="95.2" r="0.9"/>
<circle cx="602.1" cy="100.7" r="0.9"/>
<circle cx="598.3" cy="95.2" r="0.9"/>
<circle cx="607.8" cy="96.3" r="0.9"/>
<circle cx="579.1" cy="96.9" r="0.9"/>
<circle cx="605.6" cy="96.4" r="0.9"/>
<circle cx="601.1" cy="104.0" r="0.9"/>
<circle cx="625.1" cy="95.2" r="0.9"/>
<circle cx="608.7" cy="100.7" r="0.9"/>
<circle cx="563.3" cy="107.4" r="0.9"/>
<circle cx="609.9" cy="94.4" r="0.9"/>
<circle cx="643.1" cy="85.4" r="0.9"/>
<circle cx="565.1" cy="107.8" r="0.9"/>
<circle cx="591.0" cy="95.4" r="0.9"/>
<circle cx="609.6" cy="88.9" r="0.9"/>
<circle cx="577.4" cy="99.6" r="0.9"/>
<circle cx="596.1" cy="98.6" r="0.9"/>
<circle cx="610.6" cy="99.5" r="0.9"/>
<circle cx="577.6" cy="98.0" r="0.9"/>
<circle cx="616.4" cy="96.6" r="0.9"/>
<circle cx="619.2" cy="80.1" r="0.9"/>
<circle cx="578.9" cy="105.9" r="0.9"/>
<circle cx="610.0" cy="101.5" r="0.9"/>
<circle cx="635.3" cy="100.0" r="0.9"/>
<circle cx="605.2" cy="102.4" r="0.9"/>
<circle cx="619.9" cy="99.0" r="0.9"/>
<circle cx="624.9" cy="93.0" r="0.9"/>
<circle cx="603.9" cy="103.4" r="0.9"/>
<circle cx="633.1" cy="101.0" r="0.9"/>
<circle cx="618.8" cy="97.3" r="0.9"/>
<circle cx="585.8" cy="94.8" r="0.9"/>
<circle cx="622.1" cy="99.7" r="0.9"/>
<circle cx="630.4" cy="108.3" r="0.9"/>
<circle cx="629.0" cy="104.8" r="0.9"/>
<circle cx="594.2" cy="96.9" r="0.9"/>
<circle cx="620.7" cy="94.6" r="0.9"/>
<circle cx="642.7" cy="95.8" r="0.9"/>
<circle cx="615.3" cy="104.2" r="0.9"/>
<circle cx="638.2" cy="103.0" r="0.9"/>
<circle cx="641.0" cy="96.2" r="0.9"/>
<circle cx="608.9" cy="96.7" r="0.9"/>
<circle cx="625.7" cy="96.3" r="0.9"/>
<circle cx="602.9" cy="102.0" r="0.9"/>
<circle cx="635.5" cy="92.1" r="0.9"/>
<circle cx="607.7" cy="98.5" r="0.9"/>
<circle cx="596.7" cy="90.0" r="0.9"/>
<circle cx="609.3" cy="100.7" r="0.9"/>
<circle cx="608.2" cy="93.9" r="0.9"/>
<circle cx="619.1" cy="99.0" r="0.9"/>
<circle cx="621.2" cy="94.7" r="0.9"/>
<circle cx="582.0" cy="97.0" r="0.9"/>
<circle cx="594.4" cy="106.6" r="0.9"/>
<circle cx="618.7" cy="95.7" r="0.9"/>
<circle cx="621.6" cy="113.3" r="0.9"/>
<circle cx="612.1" cy="96.1" r="0.9"/>
<circle cx="673.3" cy="98.3" r="0.9"/>
<circle cx="637.0" cy="90.2" r="0.9"/>
<circle cx="608.3" cy="93.8" r="0.9"/>
<circle cx="627.7" cy="101.9" r="0.9"/>
<circle cx="642.3" cy="75.4" r="0.9"/>
<circle cx="619.0" cy="103.2" r="0.9"/>
<circle cx="568.4" cy="107.0" r="0.9"/>
<circle cx="612.7" cy="104.6" r="0.9"/>
<circle cx="611.6" cy="102.5" r="0.9"/>
<circle cx="661.6" cy="95.5" r="0.9"/>
<circle cx="566.3" cy="107.1" r="0.9"/>
<circle cx="647.6" cy="95.5" r="0.9"/>
<circle cx="606.8" cy="119.7" r="0.9"/>
<circle cx="632.9" cy="99.7" r="0.9"/>
<circle cx="603.6" cy="99.3" r="0.9"/>
<circle cx="614.8" cy="104.3" r="0.9"/>
<circle cx="637.8" cy="101.0" r="0.9"/>
<circle cx="612.7" cy="101.5" r="0.9"/>
<circle cx="636.0" cy="98.1" r="0.9"/>
<circle cx="608.8" cy="102.2" r="0.9"/>
<circle cx="600.9" cy="90.1" r="0.9"/>
<circle cx="605.5" cy="96.8" r="0.9"/>
<circle cx="598.7" cy="98.6" r="0.9"/>
<circle cx="607.9" cy="95.2" r="0.9"/>
<circle cx="643.5" cy="101.8" r="0.9"/>
<circle cx="582.7" cy="95.1" r="0.9"/>
<circle cx="571.0" cy="102.5" r="0.9"/>
<circle cx="610.4" cy="95.9" r="0.9"/>
<circle cx="651.3" cy="97.7" r="0.9"/>
<circle cx="636.0" cy="84.9" r="0.9"/>
<circle cx="642.7" cy="100.4" r="0.9"/>
<circle cx="641.0" cy="120.8" r="0.9"/>
<circle cx="593.5" cy="95.5" r="0.9"/>
<circle cx="613.8" cy="99.7" r="0.9"/>
<circle cx="547.2" cy="102.5" r="0.9"/>
<circle cx="596.4" cy="97.7" r="0.9"/>
<circle cx="625.6" cy="115.8" r="0.9"/>
<circle cx="573.7" cy="97.9" r="0.9"/>
<circle cx="561.6" cy="110.3" r="0.9"/>
<circle cx="579.9" cy="104.8" r="0.9"/>
<circle cx="616.4" cy="97.1" r="0.9"/>
<circle cx="639.2" cy="100.3" r="0.9"/>
<circle cx="673.3" cy="103.1" r="0.9"/>
<circle cx="645.6" cy="100.6" r="0.9"/>
<circle cx="574.9" cy="90.1" r="0.9"/>
<circle cx="555.6" cy="99.5" r="0.9"/>
<circle cx="615.0" cy="87.7" r="0.9"/>
<circle cx="636.8" cy="96.4" r="0.9"/>
<circle cx="572.6" cy="99.1" r="0.9"/>
<circle cx="599.0" cy="98.0" r="0.9"/>
<circle cx="600.8" cy="98.3" r="0.9"/>
<circle cx="612.4" cy="89.8" r="0.9"/>
<circle cx="607.4" cy="106.3" r="0.9"/>
<circle cx="624.1" cy="95.5" r="0.9"/>
<circle cx="637.2" cy="89.2" r="0.9"/>
<circle cx="613.6" cy="95.0" r="0.9"/>
<circle cx="629.9" cy="92.8" r="0.9"/>
<circle cx="659.8" cy="91.2" r="0.9"/>
<circle cx="587.4" cy="100.1" r="0.9"/>
<circle cx="586.9" cy="89.2" r="0.9"/>
<circle cx="624.3" cy="104.4" r="0.9"/>
<circle cx="656.5" cy="103.6" r="0.9"/>
<circle cx="616.1" cy="96.0" r="0.9"/>
<circle cx="638.4" cy="79.8" r="0.9"/>
<circle cx="604.8" cy="101.7" r="0.9"/>
<circle cx="634.2" cy="100.4" r="0.9"/>
<circle cx="597.2" cy="99.6" r="0.9"/>
<circle cx="628.5" cy="103.0" r="0.9"/>
<circle cx="621.9" cy="89.3" r="0.9"/>
<circle cx="621.9" cy="103.0" r="0.9"/>
<circle cx="645.5" cy="95.3" r="0.9"/>
<circle cx="638.2" cy="97.7" r="0.9"/>
<circle cx="598.2" cy="94.1" r="0.9"/>
<circle cx="633.9" cy="95.6" r="0.9"/>
<circle cx="571.9" cy="101.5" r="0.9"/>
<circle cx="636.5" cy="92.4" r="0.9"/>
<circle cx="678.8" cy="94.1" r="0.9"/>
<circle cx="625.6" cy="94.3" r="0.9"/>
<circle cx="625.1" cy="100.0" r="0.9"/>
<circle cx="614.5" cy="92.3" r="0.9"/>
<circle cx="633.0" cy="97.1" r="0.9"/>
<circle cx="602.3" cy="92.3" r="0.9"/>
<circle cx="629.3" cy="101.2" r="0.9"/>
<circle cx="606.7" cy="92.5" r="0.9"/>
<circle cx="603.1" cy="98.7" r="0.9"/>
<circle cx="616.3" cy="106.0" r="0.9"/>
<circle cx="612.0" cy="102.0" r="0.9"/>
<circle cx="571.8" cy="95.8" r="0.9"/>
<circle cx="663.3" cy="104.0" r="0.9"/>
<circle cx="616.9" cy="101.4" r="0.9"/>
<circle cx="572.8" cy="97.2" r="0.9"/>
<circle cx="639.4" cy="103.5" r="0.9"/>
<circle cx="612.9" cy="97.7" r="0.9"/>
<circle cx="618.5" cy="97.3" r="0.9"/>
<circle cx="630.6" cy="89.9" r="0.9"/>
<circle cx="592.1" cy="112.3" r="0.9"/>
<circle cx="542.9" cy="108.5" r="0.9"/>
<circle cx="611.2" cy="100.2" r="0.9"/>
<circle cx="619.4" cy="100.9" r="0.9"/>
<circle cx="637.7" cy="95.1" r="0.9"/>
<circle cx="595.4" cy="105.5" r="0.9"/>
<circle cx="607.2" cy="95.1" r="0.9"/>
<circle cx="623.2" cy="94.0" r="0.9"/>
<circle cx="606.0" cy="96.0" r="0.9"/>
<circle cx="607.6" cy="99.7" r="0.9"/>
<circle cx="619.7" cy="106.1" r="0.9"/>
<circle cx="589.7" cy="100.8" r="0.9"/>
<circle cx="651.6" cy="88.0" r="0.9"/>
<circle cx="591.5" cy="102.1" r="0.9"/>
<circle cx="614.5" cy="101.0" r="0.9"/>
<circle cx="605.7" cy="101.3" r="0.9"/>
<circle cx="596.6" cy="105.9" r="0.9"/>
<circle cx="626.4" cy="94.9" r="0.9"/>
<circle cx="637.8" cy="98.0" r="0.9"/>
<circle cx="648.5" cy="90.0" r="0.9"/>
<circle cx="627.5" cy="98.6" r="0.9"/>
<circle cx="602.8" cy="105.2" r="0.9"/>
<circle cx="634.2" cy="101.5" r="0.9"/>
<circle cx="578.9" cy="103.8" r="0.9"/>
<circle cx="614.7" cy="103.7" r="0.9"/>
<circle cx="626.0" cy="95.4" r="0.9"/>
<circle cx="627.0" cy="101.9" r="0.9"/>
<circle cx="585.8" cy="96.8" r="0.9"/>
<circle cx="577.5" cy="99.6" r="0.9"/>
<circle cx="653.2" cy="91.3" r="0.9"/>
<circle cx="601.0" cy="96.7" r="0.9"/>
<circle cx="573.7" cy="107.8" r="0.9"/>
<circle cx="583.5" cy="103.9" r="0.9"/>
<circle cx="613.5" cy="100.1" r="0.9"/>
<circle cx="641.5" cy="97.4" r="0.9"/>
<circle cx="613.1" cy="96.9" r="0.9"/>
<circle cx="641.9" cy="93.9" r="0.9"/>
<circle cx="618.5" cy="85.7" r="0.9"/>
<circle cx="624.3" cy="95.2" r="0.9"/>
<circle cx="636.6" cy="95.7" r="0.9"/>
<circle cx="603.9" cy="96.0" r="0.9"/>
<circle cx="620.0" cy="95.0" r="0.9"/>
<circle cx="603.5" cy="101.9" r="0.9"/>
<circle cx="597.5" cy="105.2" r="0.9"/>
<circle cx="628.5" cy="102.2" r="0.9"/>
<circle cx="593.0" cy="102.4" r="0.9"/>
<circle cx="614.6" cy="92.9" r="0.9"/>
<circle cx="593.7" cy="99.2" r="0.9"/>
<circle cx="610.5" cy="98.4" r="0.9"/>
<circle cx="600.0" cy="95.6" r="0.9"/>
<circle cx="638.8" cy="95.4" r="0.9"/>
<circle cx="614.4" cy="106.4" r="0.9"/>
<circle cx="614.3" cy="102.9" r="0.9"/>
<circle cx="652.0" cy="100.2" r="0.9"/>
<circle cx="542.9" cy="101.7" r="0.9"/>
<circle cx="585.5" cy="94.9" r="0.9"/>
<circle cx="546.4" cy="106.8" r="0.9"/>
<circle cx="611.9" cy="100.9" r="0.9"/>
<circle cx="622.5" cy="100.3" r="0.9"/>
<circle cx="627.4" cy="100.4" r="0.9"/>
<circle cx="618.3" cy="98.2" r="0.9"/>
<circle cx="590.9" cy="94.3" r="0.9"/>
<circle cx="653.9" cy="92.2" r="0.9"/>
<circle cx="619.1" cy="94.9" r="0.9"/>
<circle cx="605.4" cy="101.9" r="0.9"/>
<circle cx="584.8" cy="96.7" r="0.9"/>
<circle cx="621.7" cy="102.2" r="0.9"/>
<circle cx="599.8" cy="109.4" r="0.9"/>
<circle cx="600.7" cy="93.9" r="0.9"/>
<circle cx="616.5" cy="99.6" r="0.9"/>
<circle cx="616.7" cy="87.8" r="0.9"/>
<circle cx="591.7" cy="98.1" r="0.9"/>
<circle cx="641.5" cy="95.5" r="0.9"/>
<circle cx="587.3" cy="86.4" r="0.9"/>
<circle cx="584.5" cy="93.6" r="0.9"/>
<circle cx="618.7" cy="90.8" r="0.9"/>
<circle cx="614.3" cy="99.4" r="0.9"/>
<circle cx="612.9" cy="94.5" r="0.9"/>
<circle cx="601.4" cy="97.5" r="0.9"/>
<circle cx="612.2" cy="86.5" r="0.9"/>
<circle cx="597.7" cy="92.0" r="0.9"/>
<circle cx="571.6" cy="101.1" r="0.9"/>
<circle cx="628.8" cy="94.6" r="0.9"/>
<circle cx="586.8" cy="100.3" r="0.9"/>
<circle cx="605.6" cy="98.4" r="0.9"/>
<circle cx="628.7" cy="100.0" r="0.9"/>
<circle cx="611.7" cy="105.0" r="0.9"/>
<circle cx="676.9" cy="86.9" r="0.9"/>
<circle cx="577.5" cy="97.9" r="0.9"/>
<circle cx="593.1" cy="105.0" r="0.9"/>
<circle cx="613.2" cy="93.3" r="0.9"/>
<circle cx="643.6" cy="104.5" r="0.9"/>
<circle cx="605.0" cy="93.9" r="0.9"/>
<circle cx="576.6" cy="92.1" r="0.9"/>
<circle cx="638.4" cy="98.6" r="0.9"/>
<circle cx="588.9" cy="104.7" r="0.9"/>
<circle cx="606.2" cy="93.0" r="0.9"/>
<circle cx="632.1" cy="95.4" r="0.9"/>
<circle cx="594.9" cy="91.1" r="0.9"/>
<circle cx="600.1" cy="109.4" r="0.9"/>
<circle cx="622.6" cy="89.8" r="0.9"/>
<circle cx="606.0" cy="103.3" r="0.9"/>
<circle cx="617.7" cy="106.0" r="0.9"/>
<circle cx="588.1" cy="102.0" r="0.9"/>
<circle cx="608.0" cy="83.8" r="0.9"/>
<circle cx="584.6" cy="101.0" r="0.9"/>
<circle cx="573.4" cy="100.4" r="0.9"/>
<circle cx="652.9" cy="95.6" r="0.9"/>
<circle cx="621.7" cy="100.4" r="0.9"/>
<circle cx="632.8" cy="95.4" r="0.9"/>
<circle cx="587.5" cy="97.8" r="0.9"/>
<circle cx="610.1" cy="96.8" r="0.9"/>
<circle cx="605.8" cy="104.1" r="0.9"/>
<circle cx="576.6" cy="97.4" r="0.9"/>
<circle cx="623.8" cy="104.2" r="0.9"/>
<circle cx="593.4" cy="98.9" r="0.9"/>
<circle cx="605.8" cy="98.2" r="0.9"/>
<circle cx="634.5" cy="101.7" r="0.9"/>
<circle cx="628.9" cy="91.7" r="0.9"/>
<circle cx="620.1" cy="101.6" r="0.9"/>
<circle cx="588.9" cy="97.5" r="0.9"/>
<circle cx="597.8" cy="96.7" r="0.9"/>
<circle cx="640.0" cy="94.2" r="0.9"/>
<circle cx="604.1" cy="95.7" r="0.9"/>
<circle cx="617.1" cy="100.8" r="0.9"/>
<circle cx="614.1" cy="106.9" r="0.9"/>
<circle cx="583.9" cy="101.4" r="0.9"/>
<circle cx="647.3" cy="96.4" r="0.9"/>
<circle cx="563.1" cy="100.5" r="0.9"/>
<circle cx="616.1" cy="100.3" r="0.9"/>
<circle cx="608.6" cy="101.1" r="0.9"/>
<circle cx="571.9" cy="98.9" r="0.9"/>
<circle cx="618.7" cy="103.2" r="0.9"/>
<circle cx="623.2" cy="95.9" r="0.9"/>
<circle cx="611.9" cy="99.1" r="0.9"/>
<circle cx="590.8" cy="102.8" r="0.9"/>
<circle cx="621.5" cy="97.2" r="0.9"/>
<circle cx="637.5" cy="96.0" r="0.9"/>
<circle cx="616.0" cy="100.5" r="0.9"/>
<circle cx="652.1" cy="117.5" r="0.9"/>
<circle cx="631.3" cy="98.1" r="0.9"/>
<circle cx="629.2" cy="97.7" r="0.9"/>
<circle cx="644.1" cy="90.5" r="0.9"/>
<circle cx="594.8" cy="102.7" r="0.9"/>
<circle cx="598.2" cy="97.9" r="0.9"/>
<circle cx="623.1" cy="97.5" r="0.9"/>
<circle cx="623.2" cy="97.7" r="0.9"/>
<circle cx="646.9" cy="91.0" r="0.9"/>
<circle cx="638.2" cy="84.5" r="0.9"/>
<circle cx="615.0" cy="109.5" r="0.9"/>
<circle cx="616.0" cy="108.6" r="0.9"/>
<circle cx="604.2" cy="96.9" r="0.9"/>
<circle cx="602.1" cy="96.3" r="0.9"/>
<circle cx="600.0" cy="92.0" r="0.9"/>
<circle cx="632.6" cy="114.0" r="0.9"/>
<circle cx="599.6" cy="102.7" r="0.9"/>
<circle cx="602.4" cy="97.6" r="0.9"/>
<circle cx="614.8" cy="96.7" r="0.9"/>
<circle cx="598.7" cy="97.8" r="0.9"/>
<circle cx="605.5" cy="105.2" r="0.9"/>
<circle cx="558.7" cy="94.1" r="0.9"/>
<circle cx="620.1" cy="96.3" r="0.9"/>
<circle cx="603.8" cy="101.7" r="0.9"/>
<circle cx="615.8" cy="95.1" r="0.9"/>
<circle cx="620.1" cy="99.0" r="0.9"/>
<circle cx="566.8" cy="104.0" r="0.9"/>
<circle cx="669.1" cy="97.5" r="0.9"/>
<circle cx="615.4" cy="96.7" r="0.9"/>
<circle cx="616.1" cy="97.3" r="0.9"/>
<circle cx="569.2" cy="105.3" r="0.9"/>
<circle cx="627.2" cy="103.2" r="0.9"/>
<circle cx="622.4" cy="105.5" r="0.9"/>
<circle cx="604.1" cy="102.3" r="0.9"/>
<circle cx="618.9" cy="91.7" r="0.9"/>
<circle cx="643.9" cy="97.9" r="0.9"/>
<circle cx="605.3" cy="98.4" r="0.9"/>
<circle cx="591.8" cy="92.0" r="0.9"/>
<circle cx="645.7" cy="98.2" r="0.9"/>
<circle cx="620.2" cy="96.7" r="0.9"/>
<circle cx="609.7" cy="74.8" r="0.9"/>
<circle cx="669.2" cy="92.8" r="0.9"/>
<circle cx="617.9" cy="102.2" r="0.9"/>
<circle cx="609.9" cy="101.6" r="0.9"/>
<circle cx="620.5" cy="101.0" r="0.9"/>
<circle cx="604.5" cy="101.4" r="0.9"/>
<circle cx="619.3" cy="101.5" r="0.9"/>
<circle cx="617.7" cy="97.9" r="0.9"/>
<circle cx="598.3" cy="104.2" r="0.9"/>
<circle cx="607.8" cy="108.5" r="0.9"/>
<circle cx="621.4" cy="97.5" r="0.9"/>
<circle cx="623.1" cy="95.4" r="0.9"/>
<circle cx="627.9" cy="102.8" r="0.9"/>
<circle cx="632.7" cy="92.6" r="0.9"/>
<circle cx="619.8" cy="108.8" r="0.9"/>
<circle cx="626.2" cy="100.0" r="0.9"/>
<circle cx="604.6" cy="102.1" r="0.9"/>
<circle cx="607.6" cy="97.9" r="0.9"/>
<circle cx="638.6" cy="98.6" r="0.9"/>
<circle cx="566.2" cy="89.8" r="0.9"/>
<circle cx="622.4" cy="94.6" r="0.9"/>
<circle cx="569.0" cy="104.7" r="0.9"/>
<circle cx="649.3" cy="100.3" r="0.9"/>
<circle cx="571.0" cy="92.9" r="0.9"/>
<circle cx="621.8" cy="98.4" r="0.9"/>
<circle cx="651.9" cy="90.6" r="0.9"/>
<circle cx="648.5" cy="92.6" r="0.9"/>
<circle cx="590.9" cy="102.7" r="0.9"/>
<circle cx="581.3" cy="100.9" r="0.9"/>
<circle cx="577.9" cy="98.9" r="0.9"/>
<circle cx="629.5" cy="94.9" r="0.9"/>
<circle cx="602.8" cy="100.2" r="0.9"/>
<circle cx="612.3" cy="101.2" r="0.9"/>
<circle cx="618.3" cy="95.8" r="0.9"/>
<circle cx="621.9" cy="102.2" r="0.9"/>
<circle cx="624.8" cy="95.1" r="0.9"/>
<circle cx="614.9" cy="105.3" r="0.9"/>
<circle cx="573.3" cy="90.1" r="0.9"/>
<circle cx="646.7" cy="100.0" r="0.9"/>
<circle cx="545.9" cy="93.7" r="0.9"/>
<circle cx="641.4" cy="85.5" r="0.9"/>
<circle cx="597.2" cy="105.4" r="0.9"/>
<circle cx="606.9" cy="98.9" r="0.9"/>
<circle cx="599.1" cy="102.1" r="0.9"/>
<circle cx="602.8" cy="109.1" r="0.9"/>
<circle cx="611.1" cy="102.9" r="0.9"/>
<circle cx="604.9" cy="96.3" r="0.9"/>
<circle cx="585.2" cy="96.4" r="0.9"/>
<circle cx="597.6" cy="95.0" r="0.9"/>
<circle cx="643.8" cy="94.6" r="0.9"/>
<circle cx="607.9" cy="91.5" r="0.9"/>
<circle cx="594.6" cy="86.0" r="0.9"/>
<circle cx="622.0" cy="99.5" r="0.9"/>
<circle cx="632.8" cy="115.7" r="0.9"/>
<circle cx="589.3" cy="89.1" r="0.9"/>
<circle cx="604.7" cy="95.8" r="0.9"/>
<circle cx="645.7" cy="95.4" r="0.9"/>
<circle cx="587.5" cy="93.9" r="0.9"/>
<circle cx="591.1" cy="96.9" r="0.9"/>
<circle cx="615.5" cy="86.3" r="0.9"/>
<circle cx="582.3" cy="101.7" r="0.9"/>
<circle cx="552.3" cy="94.6" r="0.9"/>
<circle cx="571.5" cy="103.2" r="0.9"/>
<circle cx="620.5" cy="92.3" r="0.9"/>
<circle cx="627.2" cy="97.8" r="0.9"/>
<circle cx="625.7" cy="91.6" r="0.9"/>
<circle cx="620.9" cy="101.9" r="0.9"/>
<circle cx="581.9" cy="105.1" r="0.9"/>
<circle cx="627.7" cy="88.1" r="0.9"/>
<circle cx="639.1" cy="98.2" r="0.9"/>
<circle cx="594.7" cy="111.6" r="0.9"/>
<circle cx="634.1" cy="104.5" r="0.9"/>
<circle cx="602.7" cy="96.8" r="0.9"/>
<circle cx="616.1" cy="96.9" r="0.9"/>
<circle cx="620.3" cy="97.3" r="0.9"/>
<circle cx="575.9" cy="97.0" r="0.9"/>
<circle cx="646.7" cy="79.3" r="0.9"/>
<circle cx="591.0" cy="91.0" r="0.9"/>
<circle cx="609.1" cy="92.4" r="0.9"/>
<circle cx="599.7" cy="77.1" r="0.9"/>
<circle cx="622.5" cy="96.8" r="0.9"/>
<circle cx="612.1" cy="91.6" r="0.9"/>
<circle cx="645.5" cy="95.6" r="0.9"/>
<circle cx="618.3" cy="100.6" r="0.9"/>
<circle cx="602.0" cy="94.8" r="0.9"/>
<circle cx="542.5" cy="106.9" r="0.9"/>
<circle cx="604.8" cy="106.4" r="0.9"/>
<circle cx="604.6" cy="99.7" r="0.9"/>
<circle cx="590.7" cy="101.0" r="0.9"/>
<circle cx="590.9" cy="101.8" r="0.9"/>
<circle cx="625.8" cy="98.9" r="0.9"/>
<circle cx="636.7" cy="95.1" r="0.9"/>
<circle cx="657.1" cy="93.1" r="0.9"/>
<circle cx="639.0" cy="102.3" r="0.9"/>
<circle cx="594.6" cy="99.1" r="0.9"/>
<circle cx="617.7" cy="92.3" r="0.9"/>
<circle cx="578.9" cy="95.7" r="0.9"/>
<circle cx="629.1" cy="96.7" r="0.9"/>
<circle cx="620.2" cy="97.3" r="0.9"/>
<circle cx="596.9" cy="102.9" r="0.9"/>
<circle cx="609.1" cy="98.2" r="0.9"/>
<circle cx="605.6" cy="95.8" r="0.9"/>
<circle cx="596.3" cy="96.9" r="0.9"/>
<circle cx="643.3" cy="89.5" r="0.9"/>
<circle cx="631.4" cy="84.8" r="0.9"/>
<circle cx="637.0" cy="96.8" r="0.9"/>
<circle cx="615.5" cy="98.0" r="0.9"/>
<circle cx="603.2" cy="95.4" r="0.9"/>
<circle cx="664.3" cy="85.9" r="0.9"/>
<circle cx="602.8" cy="100.4" r="0.9"/>
<circle cx="621.1" cy="100.9" r="0.9"/>
<circle cx="608.8" cy="95.4" r="0.9"/>
<circle cx="625.8" cy="92.0" r="0.9"/>
<circle cx="610.4" cy="104.4" r="0.9"/>
<circle cx="625.9" cy="94.3" r="0.9"/>
<circle cx="581.2" cy="105.6" r="0.9"/>
<circle cx="609.2" cy="100.4" r="0.9"/>
<circle cx="644.5" cy="94.2" r="0.9"/>
<circle cx="586.8" cy="102.6" r="0.9"/>
<circle cx="595.6" cy="102.2" r="0.9"/>
<circle cx="644.5" cy="95.1" r="0.9"/>
<circle cx="621.3" cy="98.5" r="0.9"/>
<circle cx="637.3" cy="97.7" r="0.9"/>
<circle cx="557.9" cy="96.2" r="0.9"/>
<circle cx="615.1" cy="104.7" r="0.9"/>
<circle cx="581.0" cy="96.0" r="0.9"/>
<circle cx="578.2" cy="102.5" r="0.9"/>
<circle cx="621.5" cy="98.5" r="0.9"/>
<circle cx="640.0" cy="100.1" r="0.9"/>
<circle cx="575.6" cy="96.4" r="0.9"/>
<circle cx="585.0" cy="93.9" r="0.9"/>
<circle cx="597.5" cy="102.6" r="0.9"/>
<circle cx="608.5" cy="93.2" r="0.9"/>
<circle cx="579.6" cy="104.4" r="0.9"/>
<circle cx="665.8" cy="96.0" r="0.9"/>
<circle cx="625.7" cy="113.3" r="0.9"/>
<circle cx="602.9" cy="99.6" r="0.9"/>
<circle cx="599.0" cy="97.2" r="0.9"/>
<circle cx="667.4" cy="90.9" r="0.9"/>
<circle cx="665.4" cy="94.9" r="0.9"/>
<circle cx="599.7" cy="98.8" r="0.9"/>
<circle cx="619.8" cy="104.0" r="0.9"/>
<circle cx="641.7" cy="93.3" r="0.9"/>
<circle cx="582.9" cy="99.5" r="0.9"/>
<circle cx="597.3" cy="97.6" r="0.9"/>
<circle cx="643.9" cy="92.5" r="0.9"/>
<circle cx="594.6" cy="94.1" r="0.9"/>
<circle cx="600.9" cy="105.5" r="0.9"/>
<circle cx="578.9" cy="99.3" r="0.9"/>
<circle cx="593.0" cy="96.2" r="0.9"/>
<circle cx="627.8" cy="96.6" r="0.9"/>
<circle cx="591.4" cy="97.0" r="0.9"/>
<circle cx="579.7" cy="101.2" r="0.9"/>
<circle cx="596.0" cy="96.5" r="0.9"/>
<circle cx="653.9" cy="98.1" r="0.9"/>
<circle cx="615.4" cy="96.0" r="0.9"/>
<circle cx="597.6" cy="104.8" r="0.9"/>
<circle cx="614.8" cy="94.1" r="0.9"/>
<circle cx="621.7" cy="99.2" r="0.9"/>
<circle cx="614.0" cy="104.0" r="0.9"/>
<circle cx="567.4" cy="103.6" r="0.9"/>
<circle cx="618.2" cy="89.5" r="0.9"/>
<circle cx="605.8" cy="96.5" r="0.9"/>
<circle cx="631.3" cy="102.3" r="0.9"/>
<circle cx="578.3" cy="99.1" r="0.9"/>
<circle cx="636.2" cy="97.2" r="0.9"/>
<circle cx="598.9" cy="103.1" r="0.9"/>
<circle cx="569.6" cy="108.4" r="0.9"/>
<circle cx="643.0" cy="103.2" r="0.9"/>
<circle cx="598.4" cy="102.2" r="0.9"/>
<circle cx="619.8" cy="95.4" r="0.9"/>
<circle cx="606.9" cy="97.6" r="0.9"/>
<circle cx="637.2" cy="94.4" r="0.9"/>
<circle cx="637.4" cy="98.8" r="0.9"/>
<circle cx="637.7" cy="97.6" r="0.9"/>
<circle cx="628.0" cy="90.4" r="0.9"/>
<circle cx="571.7" cy="94.7" r="0.9"/>
<circle cx="570.0" cy="94.0" r="0.9"/>
<circle cx="615.5" cy="94.8" r="0.9"/>
<circle cx="587.6" cy="100.5" r="0.9"/>
<circle cx="621.9" cy="98.7" r="0.9"/>
<circle cx="614.6" cy="97.5" r="0.9"/>
<circle cx="576.4" cy="98.5" r="0.9"/>
<circle cx="585.5" cy="97.3" r="0.9"/>
<circle cx="583.2" cy="102.1" r="0.9"/>
<circle cx="589.1" cy="90.8" r="0.9"/>
<circle cx="605.6" cy="97.5" r="0.9"/>
<circle cx="627.0" cy="98.6" r="0.9"/>
<circle cx="643.0" cy="90.5" r="0.9"/>
<circle cx="587.1" cy="102.0" r="0.9"/>
<circle cx="596.9" cy="98.8" r="0.9"/>
<circle cx="648.2" cy="97.9" r="0.9"/>
<circle cx="632.2" cy="94.4" r="0.9"/>
<circle cx="616.2" cy="98.5" r="0.9"/>
<circle cx="553.7" cy="107.3" r="0.9"/>
<circle cx="586.2" cy="97.6" r="0.9"/>
<circle cx="614.4" cy="97.0" r="0.9"/>
<circle cx="596.2" cy="100.7" r="0.9"/>
<circle cx="658.7" cy="92.7" r="0.9"/>
<circle cx="612.7" cy="94.2" r="0.9"/>
<circle cx="617.4" cy="98.7" r="0.9"/>
<circle cx="583.9" cy="95.2" r="0.9"/>
<circle cx="585.2" cy="100.0" r="0.9"/>
<circle cx="594.4" cy="109.8" r="0.9"/>
<circle cx="595.4" cy="97.7" r="0.9"/>
<circle cx="604.9" cy="92.1" r="0.9"/>
<circle cx="619.6" cy="89.9" r="0.9"/>
<circle cx="616.3" cy="91.0" r="0.9"/>
<circle cx="634.8" cy="101.1" r="0.9"/>
<circle cx="577.7" cy="99.8" r="0.9"/>
<circle cx="615.6" cy="98.2" r="0.9"/>
<circle cx="616.3" cy="93.2" r="0.9"/>
<circle cx="649.0" cy="100.5" r="0.9"/>
<circle cx="605.2" cy="94.9" r="0.9"/>
<circle cx="618.4" cy="92.0" r="0.9"/>
<circle cx="590.7" cy="102.1" r="0.9"/>
<circle cx="620.8" cy="97.8" r="0.9"/>
<circle cx="620.1" cy="95.0" r="0.9"/>
<circle cx="595.3" cy="96.0" r="0.9"/>
<circle cx="599.9" cy="101.0" r="0.9"/>
<circle cx="609.7" cy="91.9" r="0.9"/>
<circle cx="624.6" cy="97.6" r="0.9"/>
<circle cx="582.6" cy="104.4" r="0.9"/>
<circle cx="632.0" cy="102.0" r="0.9"/>
<circle cx="602.5" cy="88.1" r="0.9"/>
<circle cx="656.6" cy="108.8" r="0.9"/>
<circle cx="645.9" cy="101.4" r="0.9"/>
<circle cx="600.7" cy="93.5" r="0.9"/>
<circle cx="595.3" cy="96.4" r="0.9"/>
<circle cx="670.1" cy="103.9" r="0.9"/>
<circle cx="625.8" cy="91.9" r="0.9"/>
<circle cx="624.3" cy="106.2" r="0.9"/>
<circle cx="600.3" cy="102.7" r="0.9"/>
<circle cx="607.4" cy="109.9" r="0.9"/>
<circle cx="630.1" cy="94.1" r="0.9"/>
<circle cx="625.5" cy="90.9" r="0.9"/>
<circle cx="590.5" cy="95.6" r="0.9"/>
<circle cx="640.7" cy="96.8" r="0.9"/>
<circle cx="618.0" cy="97.9" r="0.9"/>
<circle cx="587.5" cy="81.6" r="0.9"/>
<circle cx="634.7" cy="98.5" r="0.9"/>
<circle cx="606.3" cy="95.9" r="0.9"/>
<circle cx="629.5" cy="90.9" r="0.9"/>
<circle cx="597.1" cy="97.6" r="0.9"/>
<circle cx="619.3" cy="103.7" r="0.9"/>
<circle cx="571.2" cy="95.2" r="0.9"/>
<circle cx="619.6" cy="100.0" r="0.9"/>
<circle cx="573.7" cy="95.4" r="0.9"/>
<circle cx="614.5" cy="103.3" r="0.9"/>
<circle cx="549.1" cy="90.7" r="0.9"/>
<circle cx="609.0" cy="101.1" r="0.9"/>
<circle cx="628.1" cy="103.4" r="0.9"/>
<circle cx="622.3" cy="97.0" r="0.9"/>
<circle cx="639.6" cy="93.6" r="0.9"/>
<circle cx="584.5" cy="101.7" r="0.9"/>
<circle cx="648.6" cy="105.6" r="0.9"/>
<circle cx="649.5" cy="97.0" r="0.9"/>
<circle cx="581.5" cy="94.5" r="0.9"/>
<circle cx="591.3" cy="95.5" r="0.9"/>
<circle cx="596.7" cy="97.1" r="0.9"/>
<circle cx="610.0" cy="94.1" r="0.9"/>
<circle cx="615.0" cy="99.8" r="0.9"/>
<circle cx="550.7" cy="99.2" r="0.9"/>
<circle cx="624.9" cy="98.3" r="0.9"/>
<circle cx="604.4" cy="89.9" r="0.9"/>
<circle cx="585.9" cy="107.0" r="0.9"/>
<circle cx="633.5" cy="92.1" r="0.9"/>
<circle cx="602.2" cy="94.1" r="0.9"/>
<circle cx="638.0" cy="86.2" r="0.9"/>
<circle cx="623.4" cy="97.9" r="0.9"/>
<circle cx="602.8" cy="93.1" r="0.9"/>
<circle cx="638.9" cy="95.2" r="0.9"/>
<circle cx="630.0" cy="101.5" r="0.9"/>
<circle cx="598.3" cy="103.8" r="0.9"/>
<circle cx="571.5" cy="105.6" r="0.9"/>
<circle cx="597.3" cy="93.3" r="0.9"/>
<circle cx="625.4" cy="98.0" r="0.9"/>
<circle cx="604.7" cy="92.3" r="0.9"/>
<circle cx="653.2" cy="85.4" r="0.9"/>
<circle cx="616.8" cy="106.4" r="0.9"/>
<circle cx="615.2" cy="99.7" r="0.9"/>
<circle cx="620.2" cy="102.2" r="0.9"/>
<circle cx="589.1" cy="87.5" r="0.9"/>
<circle cx="607.5" cy="103.7" r="0.9"/>
<circle cx="594.5" cy="113.8" r="0.9"/>
<circle cx="553.6" cy="90.1" r="0.9"/>
<circle cx="567.4" cy="108.5" r="0.9"/>
<circle cx="628.3" cy="100.1" r="0.9"/>
<circle cx="599.7" cy="95.9" r="0.9"/>
<circle cx="607.5" cy="102.6" r="0.9"/>
<circle cx="574.7" cy="100.4" r="0.9"/>
<circle cx="596.2" cy="93.8" r="0.9"/>
<circle cx="629.4" cy="100.1" r="0.9"/>
<circle cx="612.8" cy="91.6" r="0.9"/>
<circle cx="597.9" cy="92.9" r="0.9"/>
<circle cx="647.5" cy="98.8" r="0.9"/>
<circle cx="609.0" cy="109.0" r="0.9"/>
<circle cx="602.0" cy="92.7" r="0.9"/>
<circle cx="638.2" cy="93.7" r="0.9"/>
<circle cx="568.5" cy="96.5" r="0.9"/>
<circle cx="623.8" cy="95.7" r="0.9"/>
<circle cx="583.5" cy="102.8" r="0.9"/>
<circle cx="591.4" cy="103.4" r="0.9"/>
<circle cx="593.9" cy="96.6" r="0.9"/>
<circle cx="613.6" cy="98.3" r="0.9"/>
<circle cx="613.1" cy="95.6" r="0.9"/>
<circle cx="617.8" cy="93.9" r="0.9"/>
<circle cx="615.5" cy="93.5" r="0.9"/>
<circle cx="644.4" cy="87.2" r="0.9"/>
<circle cx="651.4" cy="100.6" r="0.9"/>
<circle cx="627.6" cy="97.9" r="0.9"/>
<circle cx="628.8" cy="91.6" r="0.9"/>
<circle cx="601.4" cy="89.1" r="0.9"/>
<circle cx="583.9" cy="101.4" r="0.9"/>
<circle cx="624.8" cy="94.8" r="0.9"/>
<circle cx="611.3" cy="89.6" r="0.9"/>
<circle cx="631.2" cy="116.2" r="0.9"/>
<circle cx="566.3" cy="104.2" r="0.9"/>
<circle cx="675.3" cy="90.2" r="0.9"/>
<circle cx="579.7" cy="99.4" r="0.9"/>
<circle cx="611.3" cy="98.4" r="0.9"/>
<circle cx="634.5" cy="101.4" r="0.9"/>
<circle cx="577.0" cy="110.6" r="0.9"/>
<circle cx="597.1" cy="104.9" r="0.9"/>
<circle cx="561.7" cy="104.5" r="0.9"/>
<circle cx="575.9" cy="103.9" r="0.9"/>
<circle cx="563.7" cy="103.2" r="0.9"/>
<circle cx="613.0" cy="92.7" r="0.9"/>
<circle cx="617.6" cy="94.6" r="0.9"/>
<circle cx="602.9" cy="101.7" r="0.9"/>
<circle cx="641.1" cy="105.9" r="0.9"/>
<circle cx="644.1" cy="98.4" r="0.9"/>
<circle cx="610.4" cy="92.8" r="0.9"/>
<circle cx="605.2" cy="100.9" r="0.9"/>
<circle cx="603.9" cy="96.3" r="0.9"/>
<circle cx="642.1" cy="98.7" r="0.9"/>
<circle cx="616.3" cy="93.3" r="0.9"/>
<circle cx="602.5" cy="100.8" r="0.9"/>
<circle cx="605.1" cy="103.3" r="0.9"/>
<circle cx="623.8" cy="97.5" r="0.9"/>
<circle cx="600.9" cy="96.5" r="0.9"/>
<circle cx="618.2" cy="97.6" r="0.9"/>
<circle cx="609.7" cy="103.1" r="0.9"/>
<circle cx="643.4" cy="97.3" r="0.9"/>
<circle cx="638.6" cy="96.1" r="0.9"/>
<circle cx="576.4" cy="100.1" r="0.9"/>
<circle cx="606.7" cy="90.5" r="0.9"/>
<circle cx="627.8" cy="86.5" r="0.9"/>
<circle cx="599.8" cy="104.2" r="0.9"/>
<circle cx="630.2" cy="103.6" r="0.9"/>
<circle cx="618.7" cy="94.6" r="0.9"/>
<circle cx="625.0" cy="101.2" r="0.9"/>
<circle cx="609.1" cy="91.6" r="0.9"/>
<circle cx="618.0" cy="103.1" r="0.9"/>
<circle cx="623.3" cy="99.7" r="0.9"/>
<circle cx="575.1" cy="95.3" r="0.9"/>
<circle cx="588.5" cy="93.7" r="0.9"/>
<circle cx="586.0" cy="92.8" r="0.9"/>
<circle cx="651.3" cy="88.1" r="0.9"/>
<circle cx="618.0" cy="97.5" r="0.9"/>
<circle cx="619.7" cy="105.0" r="0.9"/>
<circle cx="614.9" cy="105.5" r="0.9"/>
<circle cx="598.1" cy="97.7" r="0.9"/>
<circle cx="592.7" cy="105.9" r="0.9"/>
<circle cx="631.2" cy="101.0" r="0.9"/>
<circle cx="601.7" cy="102.2" r="0.9"/>
<circle cx="648.8" cy="98.8" r="0.9"/>
<circle cx="615.4" cy="99.3" r="0.9"/>
<circle cx="612.9" cy="92.8" r="0.9"/>
<circle cx="605.4" cy="93.5" r="0.9"/>
<circle cx="608.9" cy="103.4" r="0.9"/>
<circle cx="611.5" cy="95.4" r="0.9"/>
<circle cx="647.5" cy="103.5" r="0.9"/>
<circle cx="667.1" cy="97.7" r="0.9"/>
<circle cx="582.9" cy="100.5" r="0.9"/>
<circle cx="616.9" cy="100.1" r="0.9"/>
<circle cx="627.8" cy="95.8" r="0.9"/>
<circle cx="589.0" cy="98.5" r="0.9"/>
<circle cx="595.5" cy="101.3" r="0.9"/>
<circle cx="599.7" cy="88.5" r="0.9"/>
<circle cx="552.7" cy="101.9" r="0.9"/>
<circle cx="626.4" cy="104.3" r="0.9"/>
<circle cx="609.7" cy="98.1" r="0.9"/>
<circle cx="608.5" cy="100.2" r="0.9"/>
<circle cx="612.8" cy="99.0" r="0.9"/>
<circle cx="616.8" cy="84.9" r="0.9"/>
<circle cx="666.6" cy="94.7" r="0.9"/>
<circle cx="615.2" cy="99.6" r="0.9"/>
<circle cx="630.9" cy="96.2" r="0.9"/>
<circle cx="598.3" cy="102.5" r="0.9"/>
<circle cx="619.3" cy="108.1" r="0.9"/>
<circle cx="603.2" cy="95.1" r="0.9"/>
<circle cx="607.2" cy="91.2" r="0.9"/>
<circle cx="591.2" cy="102.3" r="0.9"/>
<circle cx="621.8" cy="83.5" r="0.9"/>
<circle cx="628.8" cy="98.9" r="0.9"/>
<circle cx="622.0" cy="106.3" r="0.9"/>
<circle cx="594.7" cy="97.9" r="0.9"/>
<circle cx="618.5" cy="96.7" r="0.9"/>
<circle cx="549.8" cy="96.4" r="0.9"/>
<circle cx="633.6" cy="90.0" r="0.9"/>
<circle cx="610.0" cy="108.5" r="0.9"/>
<circle cx="617.5" cy="101.7" r="0.9"/>
<circle cx="639.0" cy="97.4" r="0.9"/>
<circle cx="600.8" cy="97.8" r="0.9"/>
<circle cx="634.1" cy="96.7" r="0.9"/>
<circle cx="600.4" cy="99.2" r="0.9"/>
<circle cx="624.1" cy="92.2" r="0.9"/>
<circle cx="601.2" cy="97.7" r="0.9"/>
<circle cx="618.4" cy="102.3" r="0.9"/>
<circle cx="646.0" cy="97.2" r="0.9"/>
<circle cx="595.4" cy="99.2" r="0.9"/>
<circle cx="596.4" cy="97.7" r="0.9"/>
<circle cx="603.2" cy="97.9" r="0.9"/>
<circle cx="618.4" cy="96.5" r="0.9"/>
<circle cx="677.3" cy="99.7" r="0.9"/>
<circle cx="597.2" cy="96.1" r="0.9"/>
<circle cx="595.5" cy="105.3" r="0.9"/>
<circle cx="573.1" cy="96.3" r="0.9"/>
<circle cx="597.8" cy="93.9" r="0.9"/>
<circle cx="611.7" cy="98.1" r="0.9"/>
<circle cx="588.2" cy="97.8" r="0.9"/>
<circle cx="594.9" cy="102.9" r="0.9"/>
<circle cx="566.3" cy="101.3" r="0.9"/>
<circle cx="615.6" cy="104.6" r="0.9"/>
<circle cx="593.3" cy="90.6" r="0.9"/>
<circle cx="637.4" cy="102.3" r="0.9"/>
<circle cx="636.6" cy="91.8" r="0.9"/>
<circle cx="602.4" cy="95.7" r="0.9"/>
<circle cx="612.7" cy="93.4" r="0.9"/>
<circle cx="629.6" cy="97.6" r="0.9"/>
<circle cx="571.1" cy="97.3" r="0.9"/>
<circle cx="609.7" cy="90.3" r="0.9"/>
<circle cx="656.3" cy="94.2" r="0.9"/>
<circle cx="616.8" cy="91.2" r="0.9"/>
<circle cx="611.5" cy="92.1" r="0.9"/>
<circle cx="582.8" cy="99.8" r="0.9"/>
<circle cx="634.4" cy="92.3" r="0.9"/>
<circle cx="618.0" cy="97.8" r="0.9"/>
<circle cx="615.5" cy="95.9" r="0.9"/>
<circle cx="629.0" cy="99.6" r="0.9"/>
<circle cx="630.5" cy="94.0" r="0.9"/>
<circle cx="566.0" cy="97.4" r="0.9"/>
<circle cx="623.2" cy="104.3" r="0.9"/>
<circle cx="597.6" cy="96.9" r="0.9"/>
<circle cx="615.5" cy="98.9" r="0.9"/>
<circle cx="594.5" cy="97.5" r="0.9"/>
<circle cx="590.8" cy="90.6" r="0.9"/>
<circle cx="634.6" cy="107.5" r="0.9"/>
<circle cx="611.5" cy="94.7" r="0.9"/>
<circle cx="604.9" cy="108.5" r="0.9"/>
<circle cx="604.8" cy="97.6" r="0.9"/>
<circle cx="613.7" cy="104.2" r="0.9"/>
<circle cx="611.4" cy="96.8" r="0.9"/>
<circle cx="554.9" cy="101.6" r="0.9"/>
<circle cx="590.9" cy="101.8" r="0.9"/>
<circle cx="606.2" cy="86.0" r="0.9"/>
<circle cx="629.8" cy="103.2" r="0.9"/>
<circle cx="644.7" cy="91.2" r="0.9"/>
<circle cx="589.5" cy="106.3" r="0.9"/>
<circle cx="658.6" cy="95.1" r="0.9"/>
<circle cx="614.3" cy="97.0" r="0.9"/>
<circle cx="623.9" cy="104.9" r="0.9"/>
<circle cx="599.3" cy="100.6" r="0.9"/>
<circle cx="597.6" cy="91.6" r="0.9"/>
<circle cx="646.8" cy="82.4" r="0.9"/>
<circle cx="607.0" cy="102.7" r="0.9"/>
<circle cx="609.8" cy="97.7" r="0.9"/>
<circle cx="640.2" cy="94.9" r="0.9"/>
<circle cx="653.8" cy="101.2" r="0.9"/>
<circle cx="576.4" cy="111.9" r="0.9"/>
<circle cx="607.9" cy="94.4" r="0.9"/>
<circle cx="612.2" cy="92.8" r="0.9"/>
<circle cx="656.1" cy="98.4" r="0.9"/>
<circle cx="671.9" cy="97.2" r="0.9"/>
<circle cx="611.4" cy="103.4" r="0.9"/>
<circle cx="621.6" cy="94.9" r="0.9"/>
<circle cx="633.5" cy="78.6" r="0.9"/>
<circle cx="640.4" cy="97.8" r="0.9"/>
<circle cx="605.1" cy="95.7" r="0.9"/>
<circle cx="633.4" cy="96.3" r="0.9"/>
<circle cx="596.0" cy="88.8" r="0.9"/>
<circle cx="548.5" cy="104.4" r="0.9"/>
<circle cx="579.7" cy="106.9" r="0.9"/>
<circle cx="618.1" cy="89.1" r="0.9"/>
<circle cx="631.8" cy="94.1" r="0.9"/>
<circle cx="558.6" cy="95.5" r="0.9"/>
<circle cx="569.6" cy="97.4" r="0.9"/>
<circle cx="612.3" cy="100.4" r="0.9"/>
<circle cx="626.6" cy="105.1" r="0.9"/>
<circle cx="638.1" cy="103.3" r="0.9"/>
<circle cx="541.5" cy="99.9" r="0.9"/>
<circle cx="631.8" cy="110.5" r="0.9"/>
<circle cx="608.7" cy="97.6" r="0.9"/>
<circle cx="647.5" cy="96.3" r="0.9"/>
<circle cx="620.2" cy="99.4" r="0.9"/>
<circle cx="607.8" cy="98.8" r="0.9"/>
<circle cx="616.4" cy="112.3" r="0.9"/>
<circle cx="636.2" cy="105.2" r="0.9"/>
<circle cx="618.2" cy="100.4" r="0.9"/>
<circle cx="614.7" cy="100.1" r="0.9"/>
<circle cx="579.0" cy="95.3" r="0.9"/>
<circle cx="625.4" cy="120.2" r="0.9"/>
<circle cx="614.5" cy="95.6" r="0.9"/>
<circle cx="658.1" cy="91.1" r="0.9"/>
<circle cx="613.5" cy="91.9" r="0.9"/>
<circle cx="611.8" cy="103.5" r="0.9"/>
<circle cx="598.8" cy="79.7" r="0.9"/>
<circle cx="631.3" cy="106.9" r="0.9"/>
<circle cx="609.0" cy="96.3" r="0.9"/>
<circle cx="597.0" cy="102.7" r="0.9"/>
<circle cx="652.6" cy="98.3" r="0.9"/>
<circle cx="656.9" cy="94.3" r="0.9"/>
<circle cx="603.1" cy="101.2" r="0.9"/>
<circle cx="589.4" cy="94.7" r="0.9"/>
<circle cx="641.2" cy="99.1" r="0.9"/>
<circle cx="594.0" cy="102.9" r="0.9"/>
<circle cx="682.1" cy="96.6" r="0.9"/>
<circle cx="610.8" cy="104.2" r="0.9"/>
<circle cx="637.3" cy="99.1" r="0.9"/>
<circle cx="582.9" cy="105.4" r="0.9"/>
<circle cx="613.3" cy="94.2" r="0.9"/>
<circle cx="640.5" cy="103.7" r="0.9"/>
<circle cx="624.8" cy="101.5" r="0.9"/>
<circle cx="601.3" cy="88.0" r="0.9"/>
<circle cx="673.3" cy="95.0" r="0.9"/>
<circle cx="632.0" cy="105.8" r="0.9"/>
<circle cx="608.7" cy="84.5" r="0.9"/>
<circle cx="599.7" cy="97.3" r="0.9"/>
<circle cx="607.7" cy="98.4" r="0.9"/>
<circle cx="646.8" cy="93.2" r="0.9"/>
<circle cx="595.7" cy="89.7" r="0.9"/>
<circle cx="615.1" cy="97.1" r="0.9"/>
<circle cx="594.5" cy="98.5" r="0.9"/>
<circle cx="644.5" cy="96.7" r="0.9"/>
<circle cx="610.4" cy="113.7" r="0.9"/>
<circle cx="635.1" cy="87.4" r="0.9"/>
<circle cx="628.0" cy="101.3" r="0.9"/>
<circle cx="631.2" cy="94.1" r="0.9"/>
<circle cx="637.0" cy="99.7" r="0.9"/>
<circle cx="586.6" cy="102.8" r="0.9"/>
<circle cx="631.3" cy="117.7" r="0.9"/>
<circle cx="607.2" cy="93.3" r="0.9"/>
<circle cx="629.7" cy="97.7" r="0.9"/>
<circle cx="582.1" cy="97.6" r="0.9"/>
<circle cx="625.4" cy="98.9" r="0.9"/>
<circle cx="600.1" cy="114.1" r="0.9"/>
<circle cx="632.9" cy="110.8" r="0.9"/>
<circle cx="613.1" cy="93.5" r="0.9"/>
<circle cx="585.9" cy="92.9" r="0.9"/>
<circle cx="640.9" cy="93.8" r="0.9"/>
<circle cx="609.1" cy="91.4" r="0.9"/>
<circle cx="589.8" cy="105.6" r="0.9"/>
<circle cx="615.9" cy="97.3" r="0.9"/>
<circle cx="591.0" cy="101.0" r="0.9"/>
<circle cx="623.9" cy="95.8" r="0.9"/>
<circle cx="612.8" cy="104.0" r="0.9"/>
<circle cx="605.4" cy="106.2" r="0.9"/>
<circle cx="630.5" cy="99.0" r="0.9"/>
<circle cx="583.4" cy="83.4" r="0.9"/>
<circle cx="637.9" cy="107.7" r="0.9"/>
<circle cx="565.8" cy="91.7" r="0.9"/>
<circle cx="653.2" cy="97.9" r="0.9"/>
<circle cx="618.7" cy="100.7" r="0.9"/>
<circle cx="608.0" cy="105.1" r="0.9"/>
<circle cx="596.5" cy="111.0" r="0.9"/>
<circle cx="627.6" cy="99.2" r="0.9"/>
<circle cx="610.5" cy="98.2" r="0.9"/>
<circle cx="610.0" cy="104.2" r="0.9"/>
<circle cx="639.4" cy="89.4" r="0.9"/>
<circle cx="603.8" cy="102.1" r="0.9"/>
<circle cx="608.6" cy="100.0" r="0.9"/>
<circle cx="624.8" cy="90.4" r="0.9"/>
<circle cx="640.3" cy="89.2" r="0.9"/>
<circle cx="610.7" cy="104.1" r="0.9"/>
<circle cx="618.2" cy="100.1" r="0.9"/>
<circle cx="615.5" cy="93.1" r="0.9"/>
<circle cx="632.4" cy="100.8" r="0.9"/>
<circle cx="650.5" cy="99.9" r="0.9"/>
<circle cx="591.7" cy="104.6" r="0.9"/>
<circle cx="611.1" cy="105.8" r="0.9"/>
<circle cx="613.2" cy="110.1" r="0.9"/>
<circle cx="628.7" cy="102.3" r="0.9"/>
<circle cx="650.8" cy="102.9" r="0.9"/>
<circle cx="613.9" cy="102.1" r="0.9"/>
<circle cx="619.5" cy="89.6" r="0.9"/>
<circle cx="641.8" cy="93.1" r="0.9"/>
<circle cx="584.1" cy="99.0" r="0.9"/>
<circle cx="595.7" cy="96.4" r="0.9"/>
<circle cx="603.4" cy="101.1" r="0.9"/>
<circle cx="614.1" cy="92.9" r="0.9"/>
<circle cx="619.9" cy="112.6" r="0.9"/>
<circle cx="601.7" cy="95.6" r="0.9"/>
<circle cx="656.9" cy="92.1" r="0.9"/>
<circle cx="597.1" cy="100.4" r="0.9"/>
<circle cx="609.4" cy="92.3" r="0.9"/>
<circle cx="640.7" cy="102.7" r="0.9"/>
<circle cx="633.0" cy="97.3" r="0.9"/>
<circle cx="613.9" cy="94.5" r="0.9"/>
<circle cx="623.4" cy="101.0" r="0.9"/>
<circle cx="634.1" cy="104.9" r="0.9"/>
<circle cx="613.9" cy="105.2" r="0.9"/>
<circle cx="630.0" cy="98.7" r="0.9"/>
<circle cx="591.9" cy="113.2" r="0.9"/>
<circle cx="574.2" cy="90.5" r="0.9"/>
<circle cx="592.4" cy="108.1" r="0.9"/>
<circle cx="586.3" cy="109.4" r="0.9"/>
<circle cx="644.5" cy="88.4" r="0.9"/>
<circle cx="602.8" cy="100.6" r="0.9"/>
<circle cx="621.3" cy="93.1" r="0.9"/>
<circle cx="591.5" cy="95.1" r="0.9"/>
<circle cx="609.0" cy="85.0" r="0.9"/>
<circle cx="607.1" cy="107.6" r="0.9"/>
<circle cx="593.1" cy="95.1" r="0.9"/>
<circle cx="634.8" cy="100.8" r="0.9"/>
<circle cx="573.4" cy="105.6" r="0.9"/>
<circle cx="629.1" cy="108.6" r="0.9"/>
<circle cx="678.5" cy="97.2" r="0.9"/>
<circle cx="593.8" cy="99.7" r="0.9"/>
<circle cx="614.4" cy="106.5" r="0.9"/>
<circle cx="575.7" cy="106.4" r="0.9"/>
<circle cx="612.9" cy="109.9" r="0.9"/>
<circle cx="571.2" cy="101.3" r="0.9"/>
<circle cx="628.7" cy="102.2" r="0.9"/>
<circle cx="601.4" cy="91.7" r="0.9"/>
<circle cx="568.3" cy="97.2" r="0.9"/>
<circle cx="581.6" cy="105.1" r="0.9"/>
<circle cx="574.4" cy="94.8" r="0.9"/>
<circle cx="606.1" cy="99.9" r="0.9"/>
<circle cx="633.8" cy="97.7" r="0.9"/>
<circle cx="603.2" cy="86.6" r="0.9"/>
<circle cx="584.1" cy="88.7" r="0.9"/>
<circle cx="592.3" cy="97.5" r="0.9"/>
<circle cx="615.5" cy="93.4" r="0.9"/>
<circle cx="553.1" cy="97.6" r="0.9"/>
<circle cx="626.8" cy="99.6" r="0.9"/>
<circle cx="622.3" cy="102.4" r="0.9"/>
<circle cx="552.3" cy="104.8" r="0.9"/>
<circle cx="641.1" cy="103.9" r="0.9"/>
<circle cx="572.2" cy="92.0" r="0.9"/>
<circle cx="606.8" cy="98.8" r="0.9"/>
<circle cx="640.8" cy="76.4" r="0.9"/>
<circle cx="571.9" cy="99.7" r="0.9"/>
<circle cx="566.7" cy="109.1" r="0.9"/>
<circle cx="584.4" cy="111.9" r="0.9"/>
<circle cx="585.3" cy="109.3" r="0.9"/>
<circle cx="608.3" cy="98.6" r="0.9"/>
<circle cx="598.8" cy="93.4" r="0.9"/>
<circle cx="599.5" cy="100.8" r="0.9"/>
<circle cx="599.8" cy="90.4" r="0.9"/>
<circle cx="607.1" cy="100.2" r="0.9"/>
<circle cx="590.6" cy="99.7" r="0.9"/>
<circle cx="619.6" cy="90.3" r="0.9"/>
<circle cx="611.5" cy="105.1" r="0.9"/>
<circle cx="586.6" cy="92.0" r="0.9"/>
<circle cx="656.2" cy="89.5" r="0.9"/>
<circle cx="580.4" cy="98.6" r="0.9"/>
<circle cx="629.6" cy="97.0" r="0.9"/>
<circle cx="593.3" cy="93.6" r="0.9"/>
<circle cx="620.4" cy="97.9" r="0.9"/>
<circle cx="624.4" cy="95.2" r="0.9"/>
<circle cx="632.8" cy="85.1" r="0.9"/>
<circle cx="646.5" cy="93.9" r="0.9"/>
<circle cx="591.1" cy="81.3" r="0.9"/>
<circle cx="681.9" cy="87.7" r="0.9"/>
<circle cx="621.8" cy="102.8" r="0.9"/>
<circle cx="592.0" cy="105.5" r="0.9"/>
<circle cx="578.7" cy="101.2" r="0.9"/>
<circle cx="669.5" cy="100.7" r="0.9"/>
<circle cx="652.4" cy="94.3" r="0.9"/>
<circle cx="611.7" cy="97.6" r="0.9"/>
<circle cx="630.9" cy="98.6" r="0.9"/>
<circle cx="644.5" cy="91.9" r="0.9"/>
<circle cx="614.7" cy="110.5" r="0.9"/>
<circle cx="601.9" cy="99.2" r="0.9"/>
<circle cx="611.5" cy="100.1" r="0.9"/>
<circle cx="633.0" cy="100.0" r="0.9"/>
<circle cx="612.9" cy="99.4" r="0.9"/>
<circle cx="582.3" cy="98.1" r="0.9"/>
<circle cx="630.9" cy="102.6" r="0.9"/>
<circle cx="570.1" cy="100.0" r="0.9"/>
<circle cx="594.0" cy="97.8" r="0.9"/>
<circle cx="642.8" cy="96.9" r="0.9"/>
<circle cx="618.3" cy="99.4" r="0.9"/>
<circle cx="618.2" cy="93.6" r="0.9"/>
<circle cx="615.1" cy="100.0" r="0.9"/>
<circle cx="637.8" cy="104.6" r="0.9"/>
<circle cx="611.2" cy="94.3" r="0.9"/>
<circle cx="564.6" cy="105.8" r="0.9"/>
<circle cx="618.4" cy="105.3" r="0.9"/>
<circle cx="562.1" cy="105.3" r="0.9"/>
<circle cx="651.3" cy="94.2" r="0.9"/>
<circle cx="637.9" cy="104.3" r="0.9"/>
<circle cx="601.0" cy="99.5" r="0.9"/>
<circle cx="610.5" cy="103.0" r="0.9"/>
<circle cx="614.5" cy="99.3" r="0.9"/>
<circle cx="637.0" cy="100.4" r="0.9"/>
<circle cx="593.4" cy="118.1" r="0.9"/>
<circle cx="590.7" cy="101.6" r="0.9"/>
<circle cx="596.9" cy="96.9" r="0.9"/>
<circle cx="615.7" cy="96.5" r="0.9"/>
<circle cx="618.8" cy="93.7" r="0.9"/>
<circle cx="602.6" cy="96.9" r="0.9"/>
<circle cx="631.0" cy="99.3" r="0.9"/>
<circle cx="587.2" cy="99.4" r="0.9"/>
<circle cx="610.4" cy="92.9" r="0.9"/>
<circle cx="595.3" cy="99.1" r="0.9"/>
<circle cx="587.6" cy="97.3" r="0.9"/>
<circle cx="642.4" cy="96.3" r="0.9"/>
<circle cx="604.5" cy="98.5" r="0.9"/>
<circle cx="587.6" cy="101.0" r="0.9"/>
<circle cx="613.3" cy="94.2" r="0.9"/>
<circle cx="587.7" cy="93.9" r="0.9"/>
<circle cx="626.9" cy="86.7" r="0.9"/>
<circle cx="633.2" cy="93.7" r="0.9"/>
<circle cx="637.5" cy="98.0" r="0.9"/>
<circle cx="586.3" cy="97.1" r="0.9"/>
<circle cx="608.7" cy="88.2" r="0.9"/>
<circle cx="657.6" cy="98.4" r="0.9"/>
<circle cx="607.1" cy="99.1" r="0.9"/>
<circle cx="643.4" cy="105.3" r="0.9"/>
<circle cx="649.8" cy="107.3" r="0.9"/>
<circle cx="578.5" cy="97.9" r="0.9"/>
<circle cx="642.1" cy="98.3" r="0.9"/>
<circle cx="630.9" cy="101.0" r="0.9"/>
<circle cx="633.9" cy="86.7" r="0.9"/>
<circle cx="653.9" cy="90.1" r="0.9"/>
<circle cx="623.7" cy="99.0" r="0.9"/>
<circle cx="614.3" cy="110.2" r="0.9"/>
<circle cx="627.4" cy="107.5" r="0.9"/>
<circle cx="604.0" cy="95.8" r="0.9"/>
<circle cx="624.6" cy="100.4" r="0.9"/>
<circle cx="563.0" cy="103.7" r="0.9"/>
<circle cx="654.9" cy="100.5" r="0.9"/>
<circle cx="599.4" cy="103.8" r="0.9"/>
<circle cx="625.7" cy="94.4" r="0.9"/>
<circle cx="620.1" cy="101.4" r="0.9"/>
<circle cx="615.0" cy="93.7" r="0.9"/>
<circle cx="615.1" cy="97.1" r="0.9"/>
<circle cx="614.0" cy="96.0" r="0.9"/>
<circle cx="572.2" cy="102.1" r="0.9"/>
<circle cx="599.0" cy="97.1" r="0.9"/>
<circle cx="641.7" cy="98.3" r="0.9"/>
<circle cx="587.3" cy="99.8" r="0.9"/>
<circle cx="586.5" cy="99.5" r="0.9"/>
<circle cx="664.3" cy="99.3" r="0.9"/>
<circle cx="642.0" cy="87.9" r="0.9"/>
<circle cx="650.7" cy="87.0" r="0.9"/>
<circle cx="612.0" cy="92.0" r="0.9"/>
<circle cx="618.9" cy="95.0" r="0.9"/>
<circle cx="631.0" cy="102.9" r="0.9"/>
<circle cx="626.1" cy="95.1" r="0.9"/>
<circle cx="610.2" cy="94.0" r="0.9"/>
<circle cx="576.4" cy="96.1" r="0.9"/>
<circle cx="594.3" cy="89.9" r="0.9"/>
<circle cx="575.3" cy="100.3" r="0.9"/>
<circle cx="650.8" cy="85.1" r="0.9"/>
<circle cx="602.3" cy="100.2" r="0.9"/>
<circle cx="607.7" cy="92.4" r="0.9"/>
<circle cx="619.0" cy="104.6" r="0.9"/>
<circle cx="612.4" cy="104.0" r="0.9"/>
<circle cx="624.9" cy="98.7" r="0.9"/>
<circle cx="596.7" cy="101.6" r="0.9"/>
<circle cx="574.6" cy="94.9" r="0.9"/>
<circle cx="654.8" cy="96.7" r="0.9"/>
<circle cx="594.4" cy="96.8" r="0.9"/>
<circle cx="600.2" cy="96.1" r="0.9"/>
<circle cx="592.3" cy="103.4" r="0.9"/>
<circle cx="598.3" cy="90.7" r="0.9"/>
<circle cx="612.2" cy="103.3" r="0.9"/>
<circle cx="630.0" cy="101.6" r="0.9"/>
<circle cx="585.9" cy="97.9" r="0.9"/>
<circle cx="618.7" cy="104.8" r="0.9"/>
<circle cx="595.1" cy="91.2" r="0.9"/>
<circle cx="640.9" cy="89.6" r="0.9"/>
<circle cx="581.5" cy="105.0" r="0.9"/>
<circle cx="614.0" cy="103.6" r="0.9"/>
<circle cx="628.9" cy="95.7" r="0.9"/>
<circle cx="578.3" cy="103.0" r="0.9"/>
<circle cx="614.1" cy="98.2" r="0.9"/>
<circle cx="615.0" cy="103.5" r="0.9"/>
<circle cx="591.9" cy="100.5" r="0.9"/>
<circle cx="606.1" cy="106.6" r="0.9"/>
<circle cx="635.5" cy="95.7" r="0.9"/>
<circle cx="617.3" cy="95.0" r="0.9"/>
<circle cx="601.2" cy="95.6" r="0.9"/>
<circle cx="606.2" cy="93.6" r="0.9"/>
<circle cx="622.2" cy="101.5" r="0.9"/>
<circle cx="642.1" cy="87.1" r="0.9"/>
<circle cx="630.6" cy="89.8" r="0.9"/>
<circle cx="629.0" cy="96.4" r="0.9"/>
<circle cx="649.2" cy="95.5" r="0.9"/>
<circle cx="573.6" cy="103.9" r="0.9"/>
<circle cx="555.9" cy="99.5" r="0.9"/>
<circle cx="631.3" cy="99.8" r="0.9"/>
<circle cx="555.5" cy="100.0" r="0.9"/>
<circle cx="610.0" cy="97.3" r="0.9"/>
<circle cx="629.3" cy="99.9" r="0.9"/>
<circle cx="577.1" cy="102.6" r="0.9"/>
<circle cx="595.0" cy="103.8" r="0.9"/>
<circle cx="604.6" cy="96.8" r="0.9"/>
<circle cx="628.6" cy="95.2" r="0.9"/>
<circle cx="574.1" cy="104.8" r="0.9"/>
<circle cx="618.6" cy="106.4" r="0.9"/>
<circle cx="627.8" cy="94.6" r="0.9"/>
<circle cx="614.3" cy="103.5" r="0.9"/>
<circle cx="614.7" cy="104.0" r="0.9"/>
<circle cx="641.0" cy="103.1" r="0.9"/>
<circle cx="616.2" cy="94.3" r="0.9"/>
<circle cx="610.3" cy="105.0" r="0.9"/>
<circle cx="602.7" cy="96.6" r="0.9"/>
<circle cx="626.5" cy="92.0" r="0.9"/>
<circle cx="603.8" cy="102.0" r="0.9"/>
<circle cx="626.6" cy="85.2" r="0.9"/>
<circle cx="613.2" cy="96.3" r="0.9"/>
<circle cx="638.0" cy="96.4" r="0.9"/>
<circle cx="591.7" cy="95.4" r="0.9"/>
<circle cx="612.5" cy="102.4" r="0.9"/>
<circle cx="619.2" cy="100.2" r="0.9"/>
<circle cx="620.7" cy="100.5" r="0.9"/>
<circle cx="638.0" cy="99.3" r="0.9"/>
<circle cx="620.2" cy="95.7" r="0.9"/>
<circle cx="632.5" cy="100.3" r="0.9"/>
<circle cx="658.0" cy="89.6" r="0.9"/>
<circle cx="631.0" cy="99.0" r="0.9"/>
<circle cx="585.2" cy="99.5" r="0.9"/>
<circle cx="576.3" cy="103.9" r="0.9"/>
<circle cx="626.8" cy="85.9" r="0.9"/>
<circle cx="601.6" cy="94.9" r="0.9"/>
<circle cx="617.7" cy="92.0" r="0.9"/>
<circle cx="606.5" cy="110.8" r="0.9"/>
<circle cx="642.2" cy="85.1" r="0.9"/>
<circle cx="639.6" cy="96.2" r="0.9"/>
<circle cx="583.6" cy="99.7" r="0.9"/>
<circle cx="617.3" cy="96.5" r="0.9"/>
<circle cx="603.4" cy="101.0" r="0.9"/>
<circle cx="579.2" cy="95.4" r="0.9"/>
<circle cx="626.3" cy="104.0" r="0.9"/>
<circle cx="607.2" cy="96.0" r="0.9"/>
<circle cx="621.3" cy="99.6" r="0.9"/>
<circle cx="670.3" cy="92.2" r="0.9"/>
<circle cx="642.6" cy="106.2" r="0.9"/>
<circle cx="637.2" cy="96.1" r="0.9"/>
<circle cx="600.9" cy="90.4" r="0.9"/>
<circle cx="582.2" cy="104.7" r="0.9"/>
<circle cx="640.7" cy="105.2" r="0.9"/>
<circle cx="603.4" cy="101.0" r="0.9"/>
<circle cx="611.7" cy="95.2" r="0.9"/>
<circle cx="601.6" cy="94.1" r="0.9"/>
<circle cx="613.1" cy="95.3" r="0.9"/>
<circle cx="668.5" cy="99.1" r="0.9"/>
<circle cx="603.1" cy="99.2" r="0.9"/>
<circle cx="603.9" cy="75.1" r="0.9"/>
<circle cx="615.5" cy="106.6" r="0.9"/>
<circle cx="617.5" cy="98.9" r="0.9"/>
<circle cx="581.8" cy="90.9" r="0.9"/>
<circle cx="567.9" cy="98.9" r="0.9"/>
<circle cx="596.6" cy="104.8" r="0.9"/>
<circle cx="605.4" cy="95.8" r="0.9"/>
<circle cx="591.6" cy="98.5" r="0.9"/>
<circle cx="586.4" cy="96.8" r="0.9"/>
<circle cx="587.8" cy="92.1" r="0.9"/>
<circle cx="600.8" cy="103.1" r="0.9"/>
<circle cx="607.4" cy="90.9" r="0.9"/>
<circle cx="571.1" cy="99.0" r="0.9"/>
<circle cx="597.0" cy="95.5" r="0.9"/>
<circle cx="618.7" cy="97.1" r="0.9"/>
<circle cx="607.1" cy="90.5" r="0.9"/>
<circle cx="577.4" cy="98.2" r="0.9"/>
<circle cx="601.5" cy="96.8" r="0.9"/>
<circle cx="609.6" cy="90.0" r="0.9"/>
<circle cx="628.5" cy="93.7" r="0.9"/>
<circle cx="571.0" cy="111.1" r="0.9"/>
<circle cx="626.4" cy="101.7" r="0.9"/>
<circle cx="598.9" cy="95.8" r="0.9"/>
<circle cx="614.8" cy="103.7" r="0.9"/>
<circle cx="626.3" cy="99.4" r="0.9"/>
<circle cx="589.0" cy="100.2" r="0.9"/>
<circle cx="590.5" cy="103.4" r="0.9"/>
<circle cx="607.2" cy="95.9" r="0.9"/>
<circle cx="627.3" cy="93.3" r="0.9"/>
<circle cx="596.8" cy="101.4" r="0.9"/>
<circle cx="575.9" cy="96.3" r="0.9"/>
<circle cx="593.1" cy="103.5" r="0.9"/>
<circle cx="619.0" cy="90.5" r="0.9"/>
<circle cx="637.6" cy="102.0" r="0.9"/>
<circle cx="597.6" cy="97.0" r="0.9"/>
<circle cx="601.9" cy="90.8" r="0.9"/>
<circle cx="605.4" cy="104.6" r="0.9"/>
<circle cx="606.4" cy="99.4" r="0.9"/>
<circle cx="587.0" cy="101.4" r="0.9"/>
<circle cx="599.0" cy="95.0" r="0.9"/>
<circle cx="614.7" cy="94.9" r="0.9"/>
<circle cx="612.0" cy="99.6" r="0.9"/>
<circle cx="610.1" cy="93.4" r="0.9"/>
<circle cx="585.5" cy="104.5" r="0.9"/>
<circle cx="596.4" cy="109.8" r="0.9"/>
<circle cx="592.5" cy="106.1" r="0.9"/>
<circle cx="634.7" cy="99.8" r="0.9"/>
<circle cx="644.3" cy="101.4" r="0.9"/>
<circle cx="617.7" cy="95.3" r="0.9"/>
<circle cx="647.7" cy="97.8" r="0.9"/>
<circle cx="602.6" cy="100.8" r="0.9"/>
<circle cx="602.7" cy="95.0" r="0.9"/>
<circle cx="578.6" cy="97.8" r="0.9"/>
<circle cx="615.1" cy="94.8" r="0.9"/>
<circle cx="598.8" cy="98.3" r="0.9"/>
<circle cx="611.8" cy="93.1" r="0.9"/>
<circle cx="621.3" cy="102.8" r="0.9"/>
<circle cx="603.9" cy="92.5" r="0.9"/>
<circle cx="582.9" cy="94.0" r="0.9"/>
<circle cx="608.6" cy="97.9" r="0.9"/>
<circle cx="608.0" cy="91.0" r="0.9"/>
<circle cx="610.4" cy="106.2" r="0.9"/>
<circle cx="625.8" cy="94.7" r="0.9"/>
<circle cx="604.6" cy="99.7" r="0.9"/>
<circle cx="603.4" cy="96.7" r="0.9"/>
<circle cx="651.1" cy="98.2" r="0.9"/>
<circle cx="635.4" cy="95.5" r="0.9"/>
<circle cx="607.7" cy="102.3" r="0.9"/>
<circle cx="587.6" cy="99.6" r="0.9"/>
<circle cx="599.3" cy="93.8" r="0.9"/>
<circle cx="619.0" cy="95.7" r="0.9"/>
<circle cx="630.0" cy="99.6" r="0.9"/>
<circle cx="667.2" cy="82.4" r="0.9"/>
<circle cx="604.2" cy="100.5" r="0.9"/>
<circle cx="613.7" cy="95.6" r="0.9"/>
<circle cx="601.7" cy="96.9" r="0.9"/>
<circle cx="612.1" cy="97.5" r="0.9"/>
<circle cx="601.1" cy="90.9" r="0.9"/>
<circle cx="584.8" cy="107.1" r="0.9"/>
<circle cx="634.6" cy="114.9" r="0.9"/>
<circle cx="613.4" cy="108.0" r="0.9"/>
<circle cx="640.9" cy="94.4" r="0.9"/>
<circle cx="598.4" cy="74.7" r="0.9"/>
<circle cx="616.7" cy="102.2" r="0.9"/>
<circle cx="626.1" cy="90.0" r="0.9"/>
<circle cx="565.9" cy="108.5" r="0.9"/>
<circle cx="579.2" cy="86.5" r="0.9"/>
<circle cx="628.4" cy="90.6" r="0.9"/>
<circle cx="612.9" cy="101.2" r="0.9"/>
<circle cx="567.0" cy="96.8" r="0.9"/>
<circle cx="593.1" cy="88.2" r="0.9"/>
<circle cx="585.7" cy="90.9" r="0.9"/>
<circle cx="599.2" cy="101.9" r="0.9"/>
<circle cx="647.4" cy="98.3" r="0.9"/>
<circle cx="597.1" cy="105.1" r="0.9"/>
<circle cx="658.8" cy="86.7" r="0.9"/>
<circle cx="604.8" cy="100.6" r="0.9"/>
<circle cx="593.4" cy="105.0" r="0.9"/>
<circle cx="648.0" cy="104.6" r="0.9"/>
<circle cx="633.4" cy="87.6" r="0.9"/>
<circle cx="643.6" cy="92.9" r="0.9"/>
<circle cx="657.1" cy="98.3" r="0.9"/>
<circle cx="636.2" cy="101.4" r="0.9"/>
<circle cx="640.0" cy="105.3" r="0.9"/>
<circle cx="570.3" cy="102.7" r="0.9"/>
<circle cx="591.6" cy="105.2" r="0.9"/>
<circle cx="621.7" cy="104.0" r="0.9"/>
<circle cx="616.1" cy="94.6" r="0.9"/>
<circle cx="628.4" cy="98.4" r="0.9"/>
<circle cx="600.0" cy="105.3" r="0.9"/>
<circle cx="637.7" cy="101.2" r="0.9"/>
<circle cx="659.3" cy="91.5" r="0.9"/>
<circle cx="625.3" cy="95.6" r="0.9"/>
<circle cx="631.4" cy="94.2" r="0.9"/>
<circle cx="623.6" cy="90.8" r="0.9"/>
<circle cx="633.6" cy="98.3" r="0.9"/>
<circle cx="616.7" cy="84.7" r="0.9"/>
<circle cx="599.7" cy="96.1" r="0.9"/>
<circle cx="616.4" cy="100.0" r="0.9"/>
<circle cx="614.3" cy="93.5" r="0.9"/>
<circle cx="575.5" cy="97.3" r="0.9"/>
<circle cx="617.3" cy="105.9" r="0.9"/>
<circle cx="612.4" cy="88.9" r="0.9"/>
<circle cx="616.7" cy="100.9" r="0.9"/>
<circle cx="598.7" cy="99.1" r="0.9"/>
<circle cx="623.2" cy="98.2" r="0.9"/>
<circle cx="626.6" cy="90.9" r="0.9"/>
<circle cx="595.0" cy="98.0" r="0.9"/>
<circle cx="619.4" cy="98.8" r="0.9"/>
<circle cx="630.2" cy="89.3" r="0.9"/>
<circle cx="629.3" cy="94.5" r="0.9"/>
<circle cx="589.8" cy="96.2" r="0.9"/>
<circle cx="587.3" cy="95.9" r="0.9"/>
<circle cx="612.1" cy="85.4" r="0.9"/>
<circle cx="586.6" cy="99.4" r="0.9"/>
<circle cx="670.7" cy="93.2" r="0.9"/>
<circle cx="592.1" cy="97.3" r="0.9"/>
<circle cx="592.3" cy="95.2" r="0.9"/>
<circle cx="626.5" cy="95.3" r="0.9"/>
<circle cx="599.9" cy="101.4" r="0.9"/>
<circle cx="555.3" cy="104.7" r="0.9"/>
<circle cx="607.4" cy="99.3" r="0.9"/>
<circle cx="587.3" cy="101.3" r="0.9"/>
<circle cx="598.2" cy="85.5" r="0.9"/>
<circle cx="572.2" cy="94.0" r="0.9"/>
<circle cx="589.0" cy="104.9" r="0.9"/>
<circle cx="606.4" cy="103.3" r="0.9"/>
<circle cx="608.4" cy="105.1" r="0.9"/>
<circle cx="583.7" cy="104.9" r="0.9"/>
<circle cx="593.0" cy="99.6" r="0.9"/>
<circle cx="589.7" cy="101.3" r="0.9"/>
<circle cx="613.1" cy="101.4" r="0.9"/>
<circle cx="606.2" cy="92.8" r="0.9"/>
<circle cx="580.0" cy="99.9" r="0.9"/>
<circle cx="624.8" cy="84.6" r="0.9"/>
<circle cx="593.0" cy="93.7" r="0.9"/>
<circle cx="618.7" cy="94.6" r="0.9"/>
<circle cx="587.7" cy="103.8" r="0.9"/>
<circle cx="616.4" cy="86.1" r="0.9"/>
<circle cx="606.5" cy="93.7" r="0.9"/>
<circle cx="610.6" cy="102.3" r="0.9"/>
<circle cx="621.2" cy="91.3" r="0.9"/>
<circle cx="619.6" cy="106.1" r="0.9"/>
<circle cx="613.2" cy="100.0" r="0.9"/>
<circle cx="613.1" cy="104.9" r="0.9"/>
<circle cx="579.1" cy="102.1" r="0.9"/>
<circle cx="607.6" cy="100.4" r="0.9"/>
<circle cx="557.3" cy="80.5" r="0.9"/>
<circle cx="556.1" cy="100.0" r="0.9"/>
<circle cx="601.8" cy="103.6" r="0.9"/>
<circle cx="603.9" cy="94.9" r="0.9"/>
<circle cx="644.6" cy="93.6" r="0.9"/>
<circle cx="625.0" cy="96.2" r="0.9"/>
<circle cx="635.5" cy="97.9" r="0.9"/>
<circle cx="601.9" cy="97.0" r="0.9"/>
<circle cx="619.8" cy="102.0" r="0.9"/>
<circle cx="636.9" cy="90.7" r="0.9"/>
<circle cx="621.9" cy="98.9" r="0.9"/>
<circle cx="617.8" cy="93.7" r="0.9"/>
<circle cx="611.9" cy="96.2" r="0.9"/>
<circle cx="587.7" cy="97.7" r="0.9"/>
<circle cx="588.4" cy="106.1" r="0.9"/>
<circle cx="575.7" cy="93.7" r="0.9"/>
<circle cx="603.3" cy="98.0" r="0.9"/>
<circle cx="593.7" cy="100.0" r="0.9"/>
<circle cx="618.2" cy="93.9" r="0.9"/>
<circle cx="596.2" cy="101.1" r="0.9"/>
<circle cx="634.6" cy="102.0" r="0.9"/>
<circle cx="655.1" cy="102.5" r="0.9"/>
<circle cx="620.6" cy="102.0" r="0.9"/>
<circle cx="593.6" cy="106.7" r="0.9"/>
<circle cx="574.5" cy="102.6" r="0.9"/>
<circle cx="657.7" cy="98.2" r="0.9"/>
<circle cx="620.7" cy="94.9" r="0.9"/>
<circle cx="582.2" cy="92.1" r="0.9"/>
<circle cx="635.5" cy="102.9" r="0.9"/>
<circle cx="570.5" cy="99.7" r="0.9"/>
<circle cx="599.6" cy="88.0" r="0.9"/>
<circle cx="604.4" cy="105.9" r="0.9"/>
<circle cx="601.5" cy="99.0" r="0.9"/>
<circle cx="583.0" cy="96.0" r="0.9"/>
<circle cx="666.9" cy="97.8" r="0.9"/>
<circle cx="600.6" cy="99.2" r="0.9"/>
<circle cx="619.2" cy="100.6" r="0.9"/>
<circle cx="610.9" cy="99.0" r="0.9"/>
<circle cx="572.1" cy="104.3" r="0.9"/>
<circle cx="597.1" cy="93.5" r="0.9"/>
<circle cx="615.1" cy="92.2" r="0.9"/>
<circle cx="632.3" cy="100.2" r="0.9"/>
<circle cx="601.9" cy="102.2" r="0.9"/>
<circle cx="618.9" cy="94.5" r="0.9"/>
<circle cx="602.1" cy="110.6" r="0.9"/>
<circle cx="624.2" cy="96.5" r="0.9"/>
<circle cx="551.4" cy="94.1" r="0.9"/>
<circle cx="624.5" cy="86.0" r="0.9"/>
<circle cx="595.4" cy="97.4" r="0.9"/>
<circle cx="596.4" cy="95.0" r="0.9"/>
<circle cx="586.0" cy="32.3" r="0.9"/>
<circle cx="562.9" cy="143.3" r="0.9"/>
<circle cx="577.7" cy="136.1" r="0.9"/>
<circle cx="605.9" cy="136.1" r="0.9"/>
<circle cx="595.2" cy="165.0" r="0.9"/>
<circle cx="569.8" cy="127.6" r="0.9"/>
<circle cx="602.5" cy="71.0" r="0.9"/>
<circle cx="620.5" cy="71.2" r="0.9"/>
<circle cx="636.8" cy="71.7" r="0.9"/>
<circle cx="568.6" cy="79.5" r="0.9"/>
<circle cx="678.8" cy="84.4" r="0.9"/>
<circle cx="610.0" cy="76.5" r="0.9"/>
<circle cx="626.9" cy="74.4" r="0.9"/>
<circle cx="590.8" cy="80.1" r="0.9"/>
<circle cx="569.7" cy="127.8" r="0.9"/>
<circle cx="577.5" cy="135.8" r="0.9"/>
<circle cx="606.1" cy="135.8" r="0.9"/>
<circle cx="594.0" cy="123.6" r="0.9"/>
<circle cx="600.4" cy="127.4" r="0.9"/>
<circle cx="606.7" cy="126.1" r="0.9"/>
<circle cx="612.0" cy="125.7" r="0.9"/>
<circle cx="626.9" cy="123.6" r="0.9"/>
<circle cx="633.2" cy="123.6" r="0.9"/>
<circle cx="627.9" cy="118.9" r="0.9"/>
<circle cx="633.2" cy="115.5" r="0.9"/>
<circle cx="542.1" cy="95.0" r="0.9"/>
<circle cx="547.4" cy="111.3" r="0.9"/>
<circle cx="541.7" cy="112.5" r="0.9"/>
</g>
<line x1="539" y1="101.0" x2="684" y2="95.6" stroke="#cfcfcf" stroke-opacity="0.5" stroke-width="2.6"/>
<line x1="539" y1="101.0" x2="684" y2="95.6" stroke="#4670e6" stroke-width="1.35"/>
<path d="M531.5,12.6 V172.3 H685" fill="none" stroke="#222" stroke-width="1.1"/>
<line x1="528.3" x2="531.5" y1="43.4" y2="43.4" stroke="#222" stroke-width="1.1"/>
<text x="526.9" y="47.2" text-anchor="end" textLength="30.4" lengthAdjust="spacingAndGlyphs">35,500</text>
<line x1="528.3" x2="531.5" y1="93.2" y2="93.2" stroke="#222" stroke-width="1.1"/>
<text x="526.9" y="97.0" text-anchor="end" textLength="30.4" lengthAdjust="spacingAndGlyphs">35,000</text>
<line x1="528.3" x2="531.5" y1="142.8" y2="142.8" stroke="#222" stroke-width="1.1"/>
<text x="526.9" y="146.6" text-anchor="end" textLength="30.4" lengthAdjust="spacingAndGlyphs">34,500</text>
<line x1="562.9" x2="562.9" y1="172.3" y2="175.4" stroke="#222" stroke-width="1.1"/>
<text x="562.9" y="185.6" text-anchor="middle">−2</text>
<line x1="610.6" x2="610.6" y1="172.3" y2="175.4" stroke="#222" stroke-width="1.1"/>
<text x="610.6" y="185.6" text-anchor="middle">0</text>
<line x1="658.6" x2="658.6" y1="172.3" y2="175.4" stroke="#222" stroke-width="1.1"/>
<text x="658.6" y="185.6" text-anchor="middle">2</text>
<text x="543.5" y="26.2" textLength="106.9" lengthAdjust="spacingAndGlyphs"><tspan font-style="italic">R</tspan> = 0.13, <tspan font-style="italic">P</tspan> = 4.7 × 10<tspan font-size="5.8" dy="-3.8">-6*</tspan></text>
<g fill="#0c0c0c">
<circle cx="621.5" cy="267.0" r="0.9"/>
<circle cx="605.8" cy="262.4" r="0.9"/>
<circle cx="649.5" cy="268.3" r="0.9"/>
<circle cx="638.0" cy="272.1" r="0.9"/>
<circle cx="581.2" cy="273.7" r="0.9"/>
<circle cx="593.1" cy="267.2" r="0.9"/>
<circle cx="620.8" cy="275.6" r="0.9"/>
<circle cx="601.1" cy="272.9" r="0.9"/>
<circle cx="624.6" cy="270.1" r="0.9"/>
<circle cx="616.5" cy="266.1" r="0.9"/>
<circle cx="591.0" cy="265.4" r="0.9"/>
<circle cx="608.1" cy="273.5" r="0.9"/>
<circle cx="625.2" cy="264.7" r="0.9"/>
<circle cx="613.1" cy="260.8" r="0.9"/>
<circle cx="617.8" cy="259.8" r="0.9"/>
<circle cx="622.9" cy="260.2" r="0.9"/>
<circle cx="612.1" cy="245.6" r="0.9"/>
<circle cx="644.4" cy="276.1" r="0.9"/>
<circle cx="586.9" cy="257.9" r="0.9"/>
<circle cx="625.1" cy="242.1" r="0.9"/>
<circle cx="603.3" cy="267.4" r="0.9"/>
<circle cx="623.6" cy="266.8" r="0.9"/>
<circle cx="633.3" cy="264.9" r="0.9"/>
<circle cx="628.8" cy="267.4" r="0.9"/>
<circle cx="629.6" cy="276.9" r="0.9"/>
<circle cx="631.5" cy="271.6" r="0.9"/>
<circle cx="626.5" cy="278.3" r="0.9"/>
<circle cx="609.7" cy="261.6" r="0.9"/>
<circle cx="630.9" cy="261.8" r="0.9"/>
<circle cx="636.2" cy="260.1" r="0.9"/>
<circle cx="633.8" cy="256.2" r="0.9"/>
<circle cx="620.9" cy="256.1" r="0.9"/>
<circle cx="621.0" cy="264.8" r="0.9"/>
<circle cx="571.1" cy="282.8" r="0.9"/>
<circle cx="596.8" cy="269.0" r="0.9"/>
<circle cx="610.3" cy="263.8" r="0.9"/>
<circle cx="636.7" cy="265.8" r="0.9"/>
<circle cx="641.0" cy="258.8" r="0.9"/>
<circle cx="617.8" cy="265.7" r="0.9"/>
<circle cx="590.0" cy="261.7" r="0.9"/>
<circle cx="625.3" cy="271.6" r="0.9"/>
<circle cx="636.3" cy="269.4" r="0.9"/>
<circle cx="631.4" cy="257.1" r="0.9"/>
<circle cx="599.3" cy="274.1" r="0.9"/>
<circle cx="590.9" cy="269.8" r="0.9"/>
<circle cx="594.8" cy="281.5" r="0.9"/>
<circle cx="590.9" cy="270.6" r="0.9"/>
<circle cx="636.6" cy="262.2" r="0.9"/>
<circle cx="621.4" cy="258.8" r="0.9"/>
<circle cx="662.0" cy="264.9" r="0.9"/>
<circle cx="650.8" cy="253.5" r="0.9"/>
<circle cx="636.8" cy="263.0" r="0.9"/>
<circle cx="599.5" cy="249.3" r="0.9"/>
<circle cx="629.1" cy="264.7" r="0.9"/>
<circle cx="624.5" cy="261.3" r="0.9"/>
<circle cx="586.6" cy="279.7" r="0.9"/>
<circle cx="598.3" cy="254.9" r="0.9"/>
<circle cx="642.2" cy="270.8" r="0.9"/>
<circle cx="605.9" cy="272.1" r="0.9"/>
<circle cx="584.0" cy="284.0" r="0.9"/>
<circle cx="616.4" cy="260.4" r="0.9"/>
<circle cx="627.7" cy="265.9" r="0.9"/>
<circle cx="587.8" cy="268.2" r="0.9"/>
<circle cx="656.5" cy="262.4" r="0.9"/>
<circle cx="597.9" cy="265.3" r="0.9"/>
<circle cx="637.7" cy="265.8" r="0.9"/>
<circle cx="629.4" cy="257.5" r="0.9"/>
<circle cx="598.2" cy="262.9" r="0.9"/>
<circle cx="611.8" cy="278.5" r="0.9"/>
<circle cx="614.7" cy="271.3" r="0.9"/>
<circle cx="606.5" cy="279.5" r="0.9"/>
<circle cx="630.9" cy="250.9" r="0.9"/>
<circle cx="615.5" cy="265.8" r="0.9"/>
<circle cx="576.1" cy="267.9" r="0.9"/>
<circle cx="616.3" cy="269.5" r="0.9"/>
<circle cx="589.0" cy="281.9" r="0.9"/>
<circle cx="609.1" cy="254.4" r="0.9"/>
<circle cx="619.4" cy="269.2" r="0.9"/>
<circle cx="611.8" cy="263.7" r="0.9"/>
<circle cx="636.7" cy="257.0" r="0.9"/>
<circle cx="612.5" cy="270.6" r="0.9"/>
<circle cx="602.7" cy="275.3" r="0.9"/>
<circle cx="650.6" cy="265.1" r="0.9"/>
<circle cx="630.4" cy="272.4" r="0.9"/>
<circle cx="611.2" cy="262.3" r="0.9"/>
<circle cx="614.4" cy="273.5" r="0.9"/>
<circle cx="605.3" cy="256.5" r="0.9"/>
<circle cx="616.0" cy="256.1" r="0.9"/>
<circle cx="593.0" cy="268.9" r="0.9"/>
<circle cx="653.0" cy="269.1" r="0.9"/>
<circle cx="641.4" cy="271.3" r="0.9"/>
<circle cx="564.7" cy="271.2" r="0.9"/>
<circle cx="593.0" cy="267.1" r="0.9"/>
<circle cx="613.1" cy="262.1" r="0.9"/>
<circle cx="599.9" cy="254.0" r="0.9"/>
<circle cx="567.2" cy="254.3" r="0.9"/>
<circle cx="629.4" cy="261.4" r="0.9"/>
<circle cx="587.9" cy="268.8" r="0.9"/>
<circle cx="629.2" cy="234.7" r="0.9"/>
<circle cx="624.1" cy="258.9" r="0.9"/>
<circle cx="647.6" cy="274.4" r="0.9"/>
<circle cx="594.4" cy="268.2" r="0.9"/>
<circle cx="654.3" cy="263.5" r="0.9"/>
<circle cx="587.0" cy="271.1" r="0.9"/>
<circle cx="647.2" cy="256.6" r="0.9"/>
<circle cx="637.6" cy="262.3" r="0.9"/>
<circle cx="623.8" cy="290.0" r="0.9"/>
<circle cx="590.2" cy="266.0" r="0.9"/>
<circle cx="649.7" cy="258.2" r="0.9"/>
<circle cx="631.9" cy="261.9" r="0.9"/>
<circle cx="577.5" cy="262.2" r="0.9"/>
<circle cx="556.8" cy="270.5" r="0.9"/>
<circle cx="599.5" cy="249.0" r="0.9"/>
<circle cx="595.1" cy="268.4" r="0.9"/>
<circle cx="629.8" cy="270.8" r="0.9"/>
<circle cx="617.2" cy="281.8" r="0.9"/>
<circle cx="621.2" cy="272.7" r="0.9"/>
<circle cx="602.9" cy="263.6" r="0.9"/>
<circle cx="635.1" cy="268.2" r="0.9"/>
<circle cx="601.5" cy="282.3" r="0.9"/>
<circle cx="580.8" cy="276.8" r="0.9"/>
<circle cx="561.1" cy="278.8" r="0.9"/>
<circle cx="625.7" cy="261.8" r="0.9"/>
<circle cx="600.7" cy="275.8" r="0.9"/>
<circle cx="576.3" cy="273.7" r="0.9"/>
<circle cx="594.7" cy="279.8" r="0.9"/>
<circle cx="605.5" cy="272.8" r="0.9"/>
<circle cx="629.5" cy="271.9" r="0.9"/>
<circle cx="567.1" cy="268.6" r="0.9"/>
<circle cx="605.2" cy="266.8" r="0.9"/>
<circle cx="630.6" cy="258.4" r="0.9"/>
<circle cx="624.7" cy="272.2" r="0.9"/>
<circle cx="632.4" cy="267.2" r="0.9"/>
<circle cx="658.1" cy="266.1" r="0.9"/>
<circle cx="595.5" cy="270.3" r="0.9"/>
<circle cx="601.2" cy="273.9" r="0.9"/>
<circle cx="638.3" cy="269.6" r="0.9"/>
<circle cx="650.4" cy="260.5" r="0.9"/>
<circle cx="622.2" cy="262.6" r="0.9"/>
<circle cx="607.7" cy="265.5" r="0.9"/>
<circle cx="589.2" cy="257.6" r="0.9"/>
<circle cx="628.6" cy="263.5" r="0.9"/>
<circle cx="622.7" cy="264.1" r="0.9"/>
<circle cx="591.3" cy="274.5" r="0.9"/>
<circle cx="603.4" cy="269.1" r="0.9"/>
<circle cx="593.3" cy="258.9" r="0.9"/>
<circle cx="627.9" cy="277.8" r="0.9"/>
<circle cx="611.8" cy="262.4" r="0.9"/>
<circle cx="642.5" cy="263.7" r="0.9"/>
<circle cx="644.9" cy="265.8" r="0.9"/>
<circle cx="622.4" cy="257.8" r="0.9"/>
<circle cx="641.5" cy="264.6" r="0.9"/>
<circle cx="638.4" cy="265.6" r="0.9"/>
<circle cx="648.4" cy="266.7" r="0.9"/>
<circle cx="604.9" cy="266.1" r="0.9"/>
<circle cx="629.4" cy="269.6" r="0.9"/>
<circle cx="656.4" cy="275.6" r="0.9"/>
<circle cx="630.2" cy="265.0" r="0.9"/>
<circle cx="606.5" cy="251.3" r="0.9"/>
<circle cx="621.2" cy="263.8" r="0.9"/>
<circle cx="666.4" cy="270.9" r="0.9"/>
<circle cx="607.3" cy="261.3" r="0.9"/>
<circle cx="602.0" cy="262.6" r="0.9"/>
<circle cx="636.0" cy="250.1" r="0.9"/>
<circle cx="607.7" cy="252.8" r="0.9"/>
<circle cx="581.3" cy="266.7" r="0.9"/>
<circle cx="581.0" cy="258.6" r="0.9"/>
<circle cx="616.3" cy="246.2" r="0.9"/>
<circle cx="602.1" cy="263.2" r="0.9"/>
<circle cx="648.5" cy="267.1" r="0.9"/>
<circle cx="602.8" cy="274.5" r="0.9"/>
<circle cx="585.3" cy="272.1" r="0.9"/>
<circle cx="598.9" cy="260.6" r="0.9"/>
<circle cx="588.7" cy="271.0" r="0.9"/>
<circle cx="642.0" cy="264.3" r="0.9"/>
<circle cx="598.7" cy="272.2" r="0.9"/>
<circle cx="649.4" cy="250.5" r="0.9"/>
<circle cx="628.6" cy="262.7" r="0.9"/>
<circle cx="661.2" cy="255.9" r="0.9"/>
<circle cx="613.8" cy="277.0" r="0.9"/>
<circle cx="634.9" cy="272.7" r="0.9"/>
<circle cx="569.8" cy="272.0" r="0.9"/>
<circle cx="605.8" cy="266.2" r="0.9"/>
<circle cx="599.6" cy="271.0" r="0.9"/>
<circle cx="641.8" cy="267.4" r="0.9"/>
<circle cx="613.3" cy="265.9" r="0.9"/>
<circle cx="631.1" cy="267.9" r="0.9"/>
<circle cx="600.3" cy="270.4" r="0.9"/>
<circle cx="587.6" cy="269.0" r="0.9"/>
<circle cx="614.4" cy="257.7" r="0.9"/>
<circle cx="645.3" cy="273.0" r="0.9"/>
<circle cx="615.2" cy="254.4" r="0.9"/>
<circle cx="651.2" cy="260.6" r="0.9"/>
<circle cx="609.0" cy="269.2" r="0.9"/>
<circle cx="608.5" cy="266.8" r="0.9"/>
<circle cx="608.5" cy="291.8" r="0.9"/>
<circle cx="610.6" cy="267.9" r="0.9"/>
<circle cx="601.0" cy="269.0" r="0.9"/>
<circle cx="611.0" cy="262.9" r="0.9"/>
<circle cx="598.3" cy="260.0" r="0.9"/>
<circle cx="593.4" cy="266.9" r="0.9"/>
<circle cx="650.1" cy="272.8" r="0.9"/>
<circle cx="635.8" cy="277.6" r="0.9"/>
<circle cx="609.6" cy="266.9" r="0.9"/>
<circle cx="602.9" cy="262.8" r="0.9"/>
<circle cx="581.5" cy="247.5" r="0.9"/>
<circle cx="629.4" cy="270.0" r="0.9"/>
<circle cx="601.4" cy="261.0" r="0.9"/>
<circle cx="659.2" cy="257.8" r="0.9"/>
<circle cx="577.7" cy="263.6" r="0.9"/>
<circle cx="623.9" cy="258.3" r="0.9"/>
<circle cx="643.4" cy="263.4" r="0.9"/>
<circle cx="604.5" cy="263.9" r="0.9"/>
<circle cx="661.6" cy="256.5" r="0.9"/>
<circle cx="638.8" cy="265.3" r="0.9"/>
<circle cx="638.5" cy="270.6" r="0.9"/>
<circle cx="597.4" cy="270.2" r="0.9"/>
<circle cx="639.4" cy="260.9" r="0.9"/>
<circle cx="639.0" cy="255.2" r="0.9"/>
<circle cx="619.6" cy="261.4" r="0.9"/>
<circle cx="656.6" cy="256.2" r="0.9"/>
<circle cx="624.2" cy="267.2" r="0.9"/>
<circle cx="566.3" cy="265.0" r="0.9"/>
<circle cx="624.3" cy="271.1" r="0.9"/>
<circle cx="655.7" cy="260.4" r="0.9"/>
<circle cx="603.3" cy="252.9" r="0.9"/>
<circle cx="633.3" cy="266.1" r="0.9"/>
<circle cx="602.6" cy="279.3" r="0.9"/>
<circle cx="616.7" cy="271.7" r="0.9"/>
<circle cx="556.4" cy="275.4" r="0.9"/>
<circle cx="576.4" cy="262.6" r="0.9"/>
<circle cx="610.0" cy="257.2" r="0.9"/>
<circle cx="603.7" cy="274.9" r="0.9"/>
<circle cx="575.0" cy="269.2" r="0.9"/>
<circle cx="632.2" cy="261.5" r="0.9"/>
<circle cx="624.3" cy="268.7" r="0.9"/>
<circle cx="596.8" cy="270.6" r="0.9"/>
<circle cx="570.3" cy="273.1" r="0.9"/>
<circle cx="629.2" cy="261.8" r="0.9"/>
<circle cx="605.3" cy="262.9" r="0.9"/>
<circle cx="632.5" cy="261.2" r="0.9"/>
<circle cx="641.4" cy="262.2" r="0.9"/>
<circle cx="608.3" cy="258.4" r="0.9"/>
<circle cx="610.8" cy="260.3" r="0.9"/>
<circle cx="632.8" cy="250.9" r="0.9"/>
<circle cx="610.0" cy="268.0" r="0.9"/>
<circle cx="571.6" cy="273.7" r="0.9"/>
<circle cx="629.0" cy="265.0" r="0.9"/>
<circle cx="622.4" cy="266.7" r="0.9"/>
<circle cx="602.5" cy="273.0" r="0.9"/>
<circle cx="626.8" cy="264.4" r="0.9"/>
<circle cx="606.5" cy="268.4" r="0.9"/>
<circle cx="605.8" cy="271.7" r="0.9"/>
<circle cx="632.6" cy="259.8" r="0.9"/>
<circle cx="584.0" cy="261.9" r="0.9"/>
<circle cx="578.5" cy="271.7" r="0.9"/>
<circle cx="611.1" cy="269.9" r="0.9"/>
<circle cx="585.1" cy="267.5" r="0.9"/>
<circle cx="633.7" cy="256.5" r="0.9"/>
<circle cx="597.8" cy="256.6" r="0.9"/>
<circle cx="575.8" cy="281.5" r="0.9"/>
<circle cx="605.4" cy="270.3" r="0.9"/>
<circle cx="564.6" cy="267.7" r="0.9"/>
<circle cx="644.8" cy="285.0" r="0.9"/>
<circle cx="613.7" cy="262.7" r="0.9"/>
<circle cx="629.5" cy="264.4" r="0.9"/>
<circle cx="625.9" cy="261.8" r="0.9"/>
<circle cx="618.8" cy="263.5" r="0.9"/>
<circle cx="591.1" cy="277.0" r="0.9"/>
<circle cx="631.9" cy="265.6" r="0.9"/>
<circle cx="606.9" cy="261.0" r="0.9"/>
<circle cx="597.3" cy="264.3" r="0.9"/>
<circle cx="568.9" cy="268.9" r="0.9"/>
<circle cx="642.9" cy="261.9" r="0.9"/>
<circle cx="609.1" cy="268.5" r="0.9"/>
<circle cx="605.1" cy="269.2" r="0.9"/>
<circle cx="571.8" cy="270.8" r="0.9"/>
<circle cx="635.2" cy="260.0" r="0.9"/>
<circle cx="611.8" cy="266.7" r="0.9"/>
<circle cx="636.8" cy="276.5" r="0.9"/>
<circle cx="613.5" cy="245.1" r="0.9"/>
<circle cx="595.4" cy="261.7" r="0.9"/>
<circle cx="627.0" cy="259.0" r="0.9"/>
<circle cx="579.4" cy="272.4" r="0.9"/>
<circle cx="579.7" cy="264.3" r="0.9"/>
<circle cx="612.8" cy="253.9" r="0.9"/>
<circle cx="630.9" cy="242.6" r="0.9"/>
<circle cx="639.1" cy="268.5" r="0.9"/>
<circle cx="612.3" cy="267.2" r="0.9"/>
<circle cx="611.7" cy="259.1" r="0.9"/>
<circle cx="618.9" cy="278.8" r="0.9"/>
<circle cx="609.7" cy="264.7" r="0.9"/>
<circle cx="603.1" cy="283.2" r="0.9"/>
<circle cx="625.4" cy="279.1" r="0.9"/>
<circle cx="603.1" cy="262.3" r="0.9"/>
<circle cx="609.5" cy="270.3" r="0.9"/>
<circle cx="640.9" cy="279.8" r="0.9"/>
<circle cx="619.2" cy="266.6" r="0.9"/>
<circle cx="602.8" cy="268.6" r="0.9"/>
<circle cx="629.8" cy="265.8" r="0.9"/>
<circle cx="611.2" cy="243.6" r="0.9"/>
<circle cx="629.4" cy="256.8" r="0.9"/>
<circle cx="595.2" cy="261.0" r="0.9"/>
<circle cx="597.1" cy="271.1" r="0.9"/>
<circle cx="582.6" cy="278.9" r="0.9"/>
<circle cx="639.2" cy="271.3" r="0.9"/>
<circle cx="645.4" cy="256.2" r="0.9"/>
<circle cx="640.7" cy="263.8" r="0.9"/>
<circle cx="622.1" cy="278.2" r="0.9"/>
<circle cx="618.7" cy="281.5" r="0.9"/>
<circle cx="609.0" cy="265.3" r="0.9"/>
<circle cx="627.2" cy="264.6" r="0.9"/>
<circle cx="610.1" cy="261.5" r="0.9"/>
<circle cx="591.7" cy="263.3" r="0.9"/>
<circle cx="636.3" cy="268.9" r="0.9"/>
<circle cx="634.0" cy="280.1" r="0.9"/>
<circle cx="625.8" cy="258.8" r="0.9"/>
<circle cx="612.7" cy="270.0" r="0.9"/>
<circle cx="605.7" cy="257.6" r="0.9"/>
<circle cx="616.2" cy="260.3" r="0.9"/>
<circle cx="618.8" cy="255.1" r="0.9"/>
<circle cx="588.3" cy="257.2" r="0.9"/>
<circle cx="604.1" cy="267.1" r="0.9"/>
<circle cx="590.7" cy="264.2" r="0.9"/>
<circle cx="638.6" cy="239.5" r="0.9"/>
<circle cx="584.2" cy="269.8" r="0.9"/>
<circle cx="587.4" cy="259.9" r="0.9"/>
<circle cx="594.5" cy="276.8" r="0.9"/>
<circle cx="617.5" cy="274.5" r="0.9"/>
<circle cx="593.5" cy="272.0" r="0.9"/>
<circle cx="652.6" cy="256.5" r="0.9"/>
<circle cx="630.1" cy="265.2" r="0.9"/>
<circle cx="561.1" cy="257.7" r="0.9"/>
<circle cx="618.8" cy="268.7" r="0.9"/>
<circle cx="621.5" cy="264.0" r="0.9"/>
<circle cx="586.0" cy="264.3" r="0.9"/>
<circle cx="611.9" cy="268.2" r="0.9"/>
<circle cx="615.7" cy="266.5" r="0.9"/>
<circle cx="599.7" cy="263.5" r="0.9"/>
<circle cx="611.6" cy="262.8" r="0.9"/>
<circle cx="621.2" cy="263.4" r="0.9"/>
<circle cx="602.4" cy="267.9" r="0.9"/>
<circle cx="587.3" cy="281.1" r="0.9"/>
<circle cx="627.5" cy="264.1" r="0.9"/>
<circle cx="599.7" cy="267.7" r="0.9"/>
<circle cx="640.5" cy="278.1" r="0.9"/>
<circle cx="659.1" cy="259.6" r="0.9"/>
<circle cx="650.6" cy="264.7" r="0.9"/>
<circle cx="603.5" cy="272.9" r="0.9"/>
<circle cx="623.2" cy="263.1" r="0.9"/>
<circle cx="608.0" cy="270.6" r="0.9"/>
<circle cx="623.8" cy="278.1" r="0.9"/>
<circle cx="595.4" cy="254.4" r="0.9"/>
<circle cx="591.3" cy="267.7" r="0.9"/>
<circle cx="612.5" cy="255.3" r="0.9"/>
<circle cx="596.0" cy="275.6" r="0.9"/>
<circle cx="629.6" cy="255.2" r="0.9"/>
<circle cx="621.0" cy="274.4" r="0.9"/>
<circle cx="610.4" cy="253.0" r="0.9"/>
<circle cx="609.9" cy="263.2" r="0.9"/>
<circle cx="635.0" cy="260.0" r="0.9"/>
<circle cx="615.3" cy="258.0" r="0.9"/>
<circle cx="614.0" cy="268.1" r="0.9"/>
<circle cx="654.9" cy="264.8" r="0.9"/>
<circle cx="616.8" cy="276.6" r="0.9"/>
<circle cx="608.0" cy="266.0" r="0.9"/>
<circle cx="608.7" cy="265.0" r="0.9"/>
<circle cx="641.8" cy="251.2" r="0.9"/>
<circle cx="602.8" cy="265.7" r="0.9"/>
<circle cx="603.2" cy="276.1" r="0.9"/>
<circle cx="637.9" cy="256.3" r="0.9"/>
<circle cx="639.4" cy="264.6" r="0.9"/>
<circle cx="644.8" cy="270.0" r="0.9"/>
<circle cx="594.9" cy="245.1" r="0.9"/>
<circle cx="623.5" cy="270.5" r="0.9"/>
<circle cx="601.3" cy="236.7" r="0.9"/>
<circle cx="623.0" cy="258.6" r="0.9"/>
<circle cx="579.1" cy="254.3" r="0.9"/>
<circle cx="609.5" cy="271.6" r="0.9"/>
<circle cx="637.6" cy="276.1" r="0.9"/>
<circle cx="618.3" cy="250.2" r="0.9"/>
<circle cx="560.8" cy="262.7" r="0.9"/>
<circle cx="635.8" cy="281.8" r="0.9"/>
<circle cx="621.9" cy="289.1" r="0.9"/>
<circle cx="607.9" cy="275.2" r="0.9"/>
<circle cx="613.8" cy="271.4" r="0.9"/>
<circle cx="606.8" cy="268.4" r="0.9"/>
<circle cx="639.3" cy="258.5" r="0.9"/>
<circle cx="613.2" cy="258.2" r="0.9"/>
<circle cx="578.7" cy="266.7" r="0.9"/>
<circle cx="595.1" cy="262.4" r="0.9"/>
<circle cx="649.9" cy="263.9" r="0.9"/>
<circle cx="638.8" cy="263.0" r="0.9"/>
<circle cx="631.6" cy="260.2" r="0.9"/>
<circle cx="596.6" cy="284.9" r="0.9"/>
<circle cx="625.9" cy="263.3" r="0.9"/>
<circle cx="636.7" cy="254.6" r="0.9"/>
<circle cx="616.2" cy="263.0" r="0.9"/>
<circle cx="630.2" cy="257.4" r="0.9"/>
<circle cx="639.1" cy="266.3" r="0.9"/>
<circle cx="637.0" cy="264.0" r="0.9"/>
<circle cx="624.2" cy="241.3" r="0.9"/>
<circle cx="624.5" cy="256.5" r="0.9"/>
<circle cx="587.0" cy="266.9" r="0.9"/>
<circle cx="607.8" cy="272.0" r="0.9"/>
<circle cx="632.6" cy="264.7" r="0.9"/>
<circle cx="651.8" cy="269.2" r="0.9"/>
<circle cx="618.3" cy="257.0" r="0.9"/>
<circle cx="638.2" cy="262.8" r="0.9"/>
<circle cx="614.6" cy="271.1" r="0.9"/>
<circle cx="593.0" cy="268.3" r="0.9"/>
<circle cx="623.9" cy="263.9" r="0.9"/>
<circle cx="624.4" cy="273.2" r="0.9"/>
<circle cx="594.7" cy="276.0" r="0.9"/>
<circle cx="595.3" cy="270.3" r="0.9"/>
<circle cx="615.4" cy="264.3" r="0.9"/>
<circle cx="603.1" cy="236.1" r="0.9"/>
<circle cx="625.4" cy="255.9" r="0.9"/>
<circle cx="584.5" cy="272.6" r="0.9"/>
<circle cx="632.3" cy="269.6" r="0.9"/>
<circle cx="600.8" cy="272.9" r="0.9"/>
<circle cx="622.2" cy="269.1" r="0.9"/>
<circle cx="580.1" cy="284.6" r="0.9"/>
<circle cx="635.0" cy="255.6" r="0.9"/>
<circle cx="618.8" cy="273.0" r="0.9"/>
<circle cx="660.8" cy="260.2" r="0.9"/>
<circle cx="577.9" cy="266.0" r="0.9"/>
<circle cx="574.1" cy="246.5" r="0.9"/>
<circle cx="630.2" cy="265.5" r="0.9"/>
<circle cx="634.1" cy="265.0" r="0.9"/>
<circle cx="575.1" cy="255.5" r="0.9"/>
<circle cx="626.1" cy="263.2" r="0.9"/>
<circle cx="635.0" cy="266.3" r="0.9"/>
<circle cx="645.4" cy="264.6" r="0.9"/>
<circle cx="617.3" cy="258.8" r="0.9"/>
<circle cx="580.4" cy="286.2" r="0.9"/>
<circle cx="571.8" cy="269.1" r="0.9"/>
<circle cx="660.6" cy="271.7" r="0.9"/>
<circle cx="623.4" cy="264.4" r="0.9"/>
<circle cx="636.1" cy="268.3" r="0.9"/>
<circle cx="607.4" cy="283.8" r="0.9"/>
<circle cx="609.4" cy="276.7" r="0.9"/>
<circle cx="609.9" cy="260.7" r="0.9"/>
<circle cx="593.8" cy="266.2" r="0.9"/>
<circle cx="608.0" cy="268.8" r="0.9"/>
<circle cx="589.9" cy="274.1" r="0.9"/>
<circle cx="605.3" cy="262.6" r="0.9"/>
<circle cx="639.0" cy="259.8" r="0.9"/>
<circle cx="615.0" cy="267.4" r="0.9"/>
<circle cx="599.6" cy="276.1" r="0.9"/>
<circle cx="652.5" cy="273.3" r="0.9"/>
<circle cx="643.2" cy="266.2" r="0.9"/>
<circle cx="615.4" cy="258.0" r="0.9"/>
<circle cx="576.1" cy="279.7" r="0.9"/>
<circle cx="643.0" cy="259.4" r="0.9"/>
<circle cx="643.4" cy="262.7" r="0.9"/>
<circle cx="601.5" cy="264.5" r="0.9"/>
<circle cx="646.0" cy="259.8" r="0.9"/>
<circle cx="596.2" cy="271.6" r="0.9"/>
<circle cx="608.6" cy="268.3" r="0.9"/>
<circle cx="604.4" cy="281.0" r="0.9"/>
<circle cx="618.5" cy="268.6" r="0.9"/>
<circle cx="611.5" cy="268.3" r="0.9"/>
<circle cx="646.1" cy="262.2" r="0.9"/>
<circle cx="606.8" cy="269.0" r="0.9"/>
<circle cx="624.3" cy="272.6" r="0.9"/>
<circle cx="615.5" cy="243.9" r="0.9"/>
<circle cx="619.9" cy="255.2" r="0.9"/>
<circle cx="596.3" cy="267.6" r="0.9"/>
<circle cx="613.7" cy="256.0" r="0.9"/>
<circle cx="645.1" cy="274.6" r="0.9"/>
<circle cx="632.7" cy="269.5" r="0.9"/>
<circle cx="588.7" cy="267.4" r="0.9"/>
<circle cx="605.6" cy="257.9" r="0.9"/>
<circle cx="592.3" cy="273.1" r="0.9"/>
<circle cx="598.6" cy="255.4" r="0.9"/>
<circle cx="600.3" cy="265.9" r="0.9"/>
<circle cx="587.5" cy="265.9" r="0.9"/>
<circle cx="624.7" cy="261.2" r="0.9"/>
<circle cx="634.5" cy="268.4" r="0.9"/>
<circle cx="617.9" cy="264.1" r="0.9"/>
<circle cx="604.0" cy="261.2" r="0.9"/>
<circle cx="618.0" cy="280.2" r="0.9"/>
<circle cx="597.7" cy="269.4" r="0.9"/>
<circle cx="637.5" cy="281.0" r="0.9"/>
<circle cx="666.0" cy="245.5" r="0.9"/>
<circle cx="555.5" cy="266.1" r="0.9"/>
<circle cx="623.0" cy="280.4" r="0.9"/>
<circle cx="615.6" cy="273.5" r="0.9"/>
<circle cx="618.8" cy="248.7" r="0.9"/>
<circle cx="608.4" cy="237.6" r="0.9"/>
<circle cx="581.4" cy="271.3" r="0.9"/>
<circle cx="612.7" cy="258.6" r="0.9"/>
<circle cx="605.6" cy="269.6" r="0.9"/>
<circle cx="611.2" cy="272.8" r="0.9"/>
<circle cx="613.5" cy="262.3" r="0.9"/>
<circle cx="603.5" cy="266.9" r="0.9"/>
<circle cx="664.9" cy="284.3" r="0.9"/>
<circle cx="587.0" cy="270.8" r="0.9"/>
<circle cx="605.9" cy="268.2" r="0.9"/>
<circle cx="586.3" cy="261.2" r="0.9"/>
<circle cx="610.9" cy="274.8" r="0.9"/>
<circle cx="648.5" cy="266.9" r="0.9"/>
<circle cx="613.4" cy="240.9" r="0.9"/>
<circle cx="596.1" cy="273.5" r="0.9"/>
<circle cx="585.2" cy="273.8" r="0.9"/>
<circle cx="626.3" cy="268.9" r="0.9"/>
<circle cx="598.7" cy="257.7" r="0.9"/>
<circle cx="628.2" cy="261.0" r="0.9"/>
<circle cx="599.1" cy="274.9" r="0.9"/>
<circle cx="602.6" cy="277.5" r="0.9"/>
<circle cx="613.0" cy="268.0" r="0.9"/>
<circle cx="578.3" cy="273.8" r="0.9"/>
<circle cx="640.7" cy="271.3" r="0.9"/>
<circle cx="589.2" cy="280.0" r="0.9"/>
<circle cx="617.6" cy="261.0" r="0.9"/>
<circle cx="624.2" cy="264.1" r="0.9"/>
<circle cx="666.1" cy="267.0" r="0.9"/>
<circle cx="624.7" cy="269.7" r="0.9"/>
<circle cx="632.8" cy="269.1" r="0.9"/>
<circle cx="611.2" cy="269.2" r="0.9"/>
<circle cx="614.1" cy="273.4" r="0.9"/>
<circle cx="637.8" cy="261.2" r="0.9"/>
<circle cx="592.5" cy="256.9" r="0.9"/>
<circle cx="623.2" cy="275.4" r="0.9"/>
<circle cx="677.2" cy="260.7" r="0.9"/>
<circle cx="593.2" cy="266.1" r="0.9"/>
<circle cx="573.9" cy="266.7" r="0.9"/>
<circle cx="602.9" cy="269.5" r="0.9"/>
<circle cx="611.4" cy="274.9" r="0.9"/>
<circle cx="651.0" cy="272.0" r="0.9"/>
<circle cx="625.1" cy="272.4" r="0.9"/>
<circle cx="639.6" cy="261.6" r="0.9"/>
<circle cx="598.8" cy="277.4" r="0.9"/>
<circle cx="613.6" cy="269.6" r="0.9"/>
<circle cx="620.9" cy="264.0" r="0.9"/>
<circle cx="595.9" cy="262.4" r="0.9"/>
<circle cx="620.7" cy="256.8" r="0.9"/>
<circle cx="608.3" cy="263.8" r="0.9"/>
<circle cx="619.5" cy="260.9" r="0.9"/>
<circle cx="583.8" cy="276.9" r="0.9"/>
<circle cx="569.7" cy="273.6" r="0.9"/>
<circle cx="644.6" cy="266.5" r="0.9"/>
<circle cx="615.6" cy="267.1" r="0.9"/>
<circle cx="612.6" cy="260.3" r="0.9"/>
<circle cx="671.4" cy="274.0" r="0.9"/>
<circle cx="637.1" cy="266.5" r="0.9"/>
<circle cx="624.7" cy="272.5" r="0.9"/>
<circle cx="600.4" cy="268.0" r="0.9"/>
<circle cx="623.2" cy="260.6" r="0.9"/>
<circle cx="609.5" cy="266.2" r="0.9"/>
<circle cx="646.5" cy="261.4" r="0.9"/>
<circle cx="631.8" cy="264.9" r="0.9"/>
<circle cx="627.7" cy="283.4" r="0.9"/>
<circle cx="597.3" cy="270.9" r="0.9"/>
<circle cx="600.2" cy="268.2" r="0.9"/>
<circle cx="639.7" cy="242.9" r="0.9"/>
<circle cx="620.5" cy="246.6" r="0.9"/>
<circle cx="603.3" cy="269.5" r="0.9"/>
<circle cx="622.5" cy="263.4" r="0.9"/>
<circle cx="616.1" cy="263.5" r="0.9"/>
<circle cx="606.1" cy="283.2" r="0.9"/>
<circle cx="611.7" cy="264.7" r="0.9"/>
<circle cx="632.2" cy="273.6" r="0.9"/>
<circle cx="623.0" cy="271.1" r="0.9"/>
<circle cx="596.8" cy="269.1" r="0.9"/>
<circle cx="599.4" cy="263.7" r="0.9"/>
<circle cx="622.1" cy="265.7" r="0.9"/>
<circle cx="592.7" cy="261.1" r="0.9"/>
<circle cx="618.4" cy="280.1" r="0.9"/>
<circle cx="612.9" cy="274.1" r="0.9"/>
<circle cx="587.0" cy="274.9" r="0.9"/>
<circle cx="562.9" cy="269.8" r="0.9"/>
<circle cx="597.0" cy="266.3" r="0.9"/>
<circle cx="615.0" cy="255.0" r="0.9"/>
<circle cx="615.2" cy="272.0" r="0.9"/>
<circle cx="642.7" cy="265.4" r="0.9"/>
<circle cx="615.3" cy="272.0" r="0.9"/>
<circle cx="613.6" cy="257.7" r="0.9"/>
<circle cx="623.2" cy="260.0" r="0.9"/>
<circle cx="605.5" cy="271.4" r="0.9"/>
<circle cx="652.8" cy="263.5" r="0.9"/>
<circle cx="602.4" cy="283.1" r="0.9"/>
<circle cx="596.1" cy="267.2" r="0.9"/>
<circle cx="603.9" cy="267.1" r="0.9"/>
<circle cx="641.4" cy="269.1" r="0.9"/>
<circle cx="602.5" cy="267.2" r="0.9"/>
<circle cx="598.2" cy="270.2" r="0.9"/>
<circle cx="627.7" cy="255.7" r="0.9"/>
<circle cx="640.6" cy="264.3" r="0.9"/>
<circle cx="605.6" cy="272.7" r="0.9"/>
<circle cx="630.0" cy="269.7" r="0.9"/>
<circle cx="600.3" cy="237.6" r="0.9"/>
<circle cx="645.3" cy="264.9" r="0.9"/>
<circle cx="591.2" cy="275.5" r="0.9"/>
<circle cx="608.6" cy="281.9" r="0.9"/>
<circle cx="605.2" cy="255.8" r="0.9"/>
<circle cx="594.3" cy="256.0" r="0.9"/>
<circle cx="612.8" cy="260.9" r="0.9"/>
<circle cx="629.2" cy="277.2" r="0.9"/>
<circle cx="596.3" cy="285.0" r="0.9"/>
<circle cx="656.2" cy="254.7" r="0.9"/>
<circle cx="619.8" cy="256.5" r="0.9"/>
<circle cx="621.8" cy="244.4" r="0.9"/>
<circle cx="597.5" cy="262.6" r="0.9"/>
<circle cx="612.9" cy="269.5" r="0.9"/>
<circle cx="633.8" cy="266.3" r="0.9"/>
<circle cx="592.4" cy="283.1" r="0.9"/>
<circle cx="599.2" cy="246.1" r="0.9"/>
<circle cx="596.1" cy="259.1" r="0.9"/>
<circle cx="585.6" cy="285.4" r="0.9"/>
<circle cx="628.0" cy="263.8" r="0.9"/>
<circle cx="596.6" cy="268.2" r="0.9"/>
<circle cx="650.3" cy="267.6" r="0.9"/>
<circle cx="586.8" cy="269.0" r="0.9"/>
<circle cx="606.7" cy="272.2" r="0.9"/>
<circle cx="615.1" cy="261.0" r="0.9"/>
<circle cx="592.4" cy="258.4" r="0.9"/>
<circle cx="567.3" cy="266.5" r="0.9"/>
<circle cx="599.9" cy="275.2" r="0.9"/>
<circle cx="613.6" cy="270.8" r="0.9"/>
<circle cx="593.3" cy="261.2" r="0.9"/>
<circle cx="619.9" cy="257.0" r="0.9"/>
<circle cx="573.4" cy="274.0" r="0.9"/>
<circle cx="620.6" cy="266.2" r="0.9"/>
<circle cx="659.9" cy="263.7" r="0.9"/>
<circle cx="635.2" cy="277.1" r="0.9"/>
<circle cx="635.9" cy="259.6" r="0.9"/>
<circle cx="606.3" cy="274.0" r="0.9"/>
<circle cx="604.8" cy="271.3" r="0.9"/>
<circle cx="638.8" cy="268.3" r="0.9"/>
<circle cx="606.8" cy="259.9" r="0.9"/>
<circle cx="628.2" cy="258.1" r="0.9"/>
<circle cx="592.7" cy="278.5" r="0.9"/>
<circle cx="622.5" cy="259.4" r="0.9"/>
<circle cx="617.9" cy="271.6" r="0.9"/>
<circle cx="565.4" cy="285.5" r="0.9"/>
<circle cx="611.5" cy="284.6" r="0.9"/>
<circle cx="626.5" cy="272.2" r="0.9"/>
<circle cx="625.9" cy="265.7" r="0.9"/>
<circle cx="622.2" cy="268.7" r="0.9"/>
<circle cx="642.2" cy="266.3" r="0.9"/>
<circle cx="612.6" cy="260.7" r="0.9"/>
<circle cx="597.3" cy="266.2" r="0.9"/>
<circle cx="634.0" cy="260.9" r="0.9"/>
<circle cx="660.6" cy="258.4" r="0.9"/>
<circle cx="606.6" cy="249.1" r="0.9"/>
<circle cx="647.3" cy="260.1" r="0.9"/>
<circle cx="581.5" cy="275.8" r="0.9"/>
<circle cx="594.4" cy="269.3" r="0.9"/>
<circle cx="595.2" cy="256.9" r="0.9"/>
<circle cx="639.6" cy="262.3" r="0.9"/>
<circle cx="616.4" cy="278.3" r="0.9"/>
<circle cx="602.0" cy="257.9" r="0.9"/>
<circle cx="616.9" cy="268.5" r="0.9"/>
<circle cx="644.8" cy="258.8" r="0.9"/>
<circle cx="612.3" cy="266.6" r="0.9"/>
<circle cx="598.2" cy="267.1" r="0.9"/>
<circle cx="621.9" cy="273.2" r="0.9"/>
<circle cx="595.7" cy="268.4" r="0.9"/>
<circle cx="625.1" cy="265.0" r="0.9"/>
<circle cx="635.8" cy="267.1" r="0.9"/>
<circle cx="604.6" cy="269.0" r="0.9"/>
<circle cx="616.7" cy="260.8" r="0.9"/>
<circle cx="582.9" cy="281.0" r="0.9"/>
<circle cx="648.5" cy="264.0" r="0.9"/>
<circle cx="665.9" cy="263.4" r="0.9"/>
<circle cx="614.5" cy="272.1" r="0.9"/>
<circle cx="568.7" cy="267.2" r="0.9"/>
<circle cx="599.2" cy="261.4" r="0.9"/>
<circle cx="582.3" cy="272.3" r="0.9"/>
<circle cx="572.9" cy="262.2" r="0.9"/>
<circle cx="610.9" cy="264.1" r="0.9"/>
<circle cx="610.4" cy="270.4" r="0.9"/>
<circle cx="600.2" cy="269.8" r="0.9"/>
<circle cx="638.3" cy="266.9" r="0.9"/>
<circle cx="614.8" cy="268.4" r="0.9"/>
<circle cx="592.5" cy="271.4" r="0.9"/>
<circle cx="623.1" cy="261.7" r="0.9"/>
<circle cx="586.3" cy="275.1" r="0.9"/>
<circle cx="606.3" cy="267.0" r="0.9"/>
<circle cx="595.7" cy="273.8" r="0.9"/>
<circle cx="620.5" cy="256.9" r="0.9"/>
<circle cx="608.1" cy="268.2" r="0.9"/>
<circle cx="601.2" cy="256.9" r="0.9"/>
<circle cx="619.8" cy="271.6" r="0.9"/>
<circle cx="624.3" cy="260.1" r="0.9"/>
<circle cx="619.4" cy="266.9" r="0.9"/>
<circle cx="638.5" cy="264.3" r="0.9"/>
<circle cx="591.0" cy="269.2" r="0.9"/>
<circle cx="622.7" cy="259.3" r="0.9"/>
<circle cx="650.8" cy="266.1" r="0.9"/>
<circle cx="614.3" cy="262.6" r="0.9"/>
<circle cx="565.5" cy="271.8" r="0.9"/>
<circle cx="635.4" cy="262.8" r="0.9"/>
<circle cx="609.6" cy="262.0" r="0.9"/>
<circle cx="628.2" cy="269.2" r="0.9"/>
<circle cx="620.1" cy="268.8" r="0.9"/>
<circle cx="627.6" cy="263.5" r="0.9"/>
<circle cx="640.9" cy="264.7" r="0.9"/>
<circle cx="616.9" cy="266.7" r="0.9"/>
<circle cx="631.3" cy="272.8" r="0.9"/>
<circle cx="585.5" cy="276.6" r="0.9"/>
<circle cx="594.4" cy="266.2" r="0.9"/>
<circle cx="611.3" cy="271.9" r="0.9"/>
<circle cx="648.8" cy="266.0" r="0.9"/>
<circle cx="595.8" cy="269.6" r="0.9"/>
<circle cx="606.4" cy="265.6" r="0.9"/>
<circle cx="628.6" cy="264.5" r="0.9"/>
<circle cx="602.4" cy="261.9" r="0.9"/>
<circle cx="585.5" cy="269.8" r="0.9"/>
<circle cx="570.8" cy="271.8" r="0.9"/>
<circle cx="631.3" cy="270.3" r="0.9"/>
<circle cx="589.2" cy="263.9" r="0.9"/>
<circle cx="621.6" cy="258.2" r="0.9"/>
<circle cx="625.3" cy="260.5" r="0.9"/>
<circle cx="592.0" cy="269.3" r="0.9"/>
<circle cx="623.8" cy="255.9" r="0.9"/>
<circle cx="566.9" cy="274.7" r="0.9"/>
<circle cx="611.5" cy="259.4" r="0.9"/>
<circle cx="591.0" cy="264.2" r="0.9"/>
<circle cx="619.0" cy="267.9" r="0.9"/>
<circle cx="618.3" cy="265.6" r="0.9"/>
<circle cx="617.9" cy="264.6" r="0.9"/>
<circle cx="627.5" cy="255.2" r="0.9"/>
<circle cx="599.8" cy="276.8" r="0.9"/>
<circle cx="582.1" cy="268.8" r="0.9"/>
<circle cx="586.7" cy="251.2" r="0.9"/>
<circle cx="635.8" cy="270.1" r="0.9"/>
<circle cx="591.0" cy="258.4" r="0.9"/>
<circle cx="606.2" cy="280.9" r="0.9"/>
<circle cx="621.7" cy="266.0" r="0.9"/>
<circle cx="610.4" cy="278.1" r="0.9"/>
<circle cx="592.1" cy="266.7" r="0.9"/>
<circle cx="567.5" cy="271.8" r="0.9"/>
<circle cx="634.5" cy="266.7" r="0.9"/>
<circle cx="601.2" cy="260.9" r="0.9"/>
<circle cx="578.1" cy="262.1" r="0.9"/>
<circle cx="599.7" cy="257.7" r="0.9"/>
<circle cx="614.9" cy="265.2" r="0.9"/>
<circle cx="570.7" cy="272.8" r="0.9"/>
<circle cx="616.9" cy="249.4" r="0.9"/>
<circle cx="614.0" cy="252.9" r="0.9"/>
<circle cx="614.1" cy="267.7" r="0.9"/>
<circle cx="591.9" cy="255.3" r="0.9"/>
<circle cx="578.0" cy="269.6" r="0.9"/>
<circle cx="609.4" cy="266.8" r="0.9"/>
<circle cx="602.3" cy="266.2" r="0.9"/>
<circle cx="647.4" cy="266.1" r="0.9"/>
<circle cx="607.4" cy="272.7" r="0.9"/>
<circle cx="622.7" cy="256.3" r="0.9"/>
<circle cx="615.0" cy="266.5" r="0.9"/>
<circle cx="575.2" cy="271.7" r="0.9"/>
<circle cx="630.3" cy="263.1" r="0.9"/>
<circle cx="603.5" cy="264.4" r="0.9"/>
<circle cx="581.9" cy="263.5" r="0.9"/>
<circle cx="622.7" cy="270.7" r="0.9"/>
<circle cx="640.7" cy="275.0" r="0.9"/>
<circle cx="611.0" cy="272.1" r="0.9"/>
<circle cx="607.4" cy="264.4" r="0.9"/>
<circle cx="599.5" cy="232.8" r="0.9"/>
<circle cx="604.1" cy="271.7" r="0.9"/>
<circle cx="637.9" cy="283.9" r="0.9"/>
<circle cx="615.3" cy="262.6" r="0.9"/>
<circle cx="622.8" cy="256.4" r="0.9"/>
<circle cx="626.2" cy="271.9" r="0.9"/>
<circle cx="549.3" cy="267.2" r="0.9"/>
<circle cx="617.1" cy="267.7" r="0.9"/>
<circle cx="626.0" cy="256.9" r="0.9"/>
<circle cx="618.4" cy="257.4" r="0.9"/>
<circle cx="580.9" cy="264.1" r="0.9"/>
<circle cx="596.3" cy="262.0" r="0.9"/>
<circle cx="628.3" cy="265.7" r="0.9"/>
<circle cx="622.6" cy="259.9" r="0.9"/>
<circle cx="623.2" cy="267.3" r="0.9"/>
<circle cx="588.4" cy="274.1" r="0.9"/>
<circle cx="619.4" cy="277.0" r="0.9"/>
<circle cx="645.1" cy="261.3" r="0.9"/>
<circle cx="614.4" cy="265.8" r="0.9"/>
<circle cx="642.9" cy="287.3" r="0.9"/>
<circle cx="632.4" cy="268.3" r="0.9"/>
<circle cx="631.5" cy="257.0" r="0.9"/>
<circle cx="598.7" cy="269.9" r="0.9"/>
<circle cx="599.2" cy="267.7" r="0.9"/>
<circle cx="598.7" cy="259.7" r="0.9"/>
<circle cx="638.5" cy="262.5" r="0.9"/>
<circle cx="640.7" cy="265.1" r="0.9"/>
<circle cx="590.7" cy="276.0" r="0.9"/>
<circle cx="585.3" cy="267.3" r="0.9"/>
<circle cx="616.2" cy="262.4" r="0.9"/>
<circle cx="642.0" cy="246.6" r="0.9"/>
<circle cx="619.3" cy="264.5" r="0.9"/>
<circle cx="627.3" cy="277.8" r="0.9"/>
<circle cx="624.0" cy="278.7" r="0.9"/>
<circle cx="626.0" cy="270.7" r="0.9"/>
<circle cx="610.5" cy="265.2" r="0.9"/>
<circle cx="623.9" cy="271.0" r="0.9"/>
<circle cx="628.4" cy="245.0" r="0.9"/>
<circle cx="611.0" cy="269.2" r="0.9"/>
<circle cx="650.1" cy="261.2" r="0.9"/>
<circle cx="590.3" cy="264.8" r="0.9"/>
<circle cx="605.0" cy="253.0" r="0.9"/>
<circle cx="595.0" cy="271.7" r="0.9"/>
<circle cx="636.7" cy="280.0" r="0.9"/>
<circle cx="637.1" cy="271.3" r="0.9"/>
<circle cx="597.1" cy="261.7" r="0.9"/>
<circle cx="615.0" cy="269.0" r="0.9"/>
<circle cx="603.6" cy="264.3" r="0.9"/>
<circle cx="583.6" cy="265.1" r="0.9"/>
<circle cx="595.8" cy="275.3" r="0.9"/>
<circle cx="620.6" cy="270.8" r="0.9"/>
<circle cx="625.7" cy="270.8" r="0.9"/>
<circle cx="597.5" cy="262.0" r="0.9"/>
<circle cx="613.3" cy="272.4" r="0.9"/>
<circle cx="631.3" cy="267.7" r="0.9"/>
<circle cx="643.4" cy="262.0" r="0.9"/>
<circle cx="621.0" cy="239.6" r="0.9"/>
<circle cx="595.7" cy="260.8" r="0.9"/>
<circle cx="579.1" cy="262.4" r="0.9"/>
<circle cx="614.9" cy="264.4" r="0.9"/>
<circle cx="606.7" cy="273.9" r="0.9"/>
<circle cx="600.8" cy="265.8" r="0.9"/>
<circle cx="598.5" cy="265.9" r="0.9"/>
<circle cx="601.3" cy="288.1" r="0.9"/>
<circle cx="616.8" cy="264.7" r="0.9"/>
<circle cx="628.2" cy="258.9" r="0.9"/>
<circle cx="595.7" cy="257.9" r="0.9"/>
<circle cx="653.9" cy="263.5" r="0.9"/>
<circle cx="644.4" cy="271.1" r="0.9"/>
<circle cx="608.2" cy="250.6" r="0.9"/>
<circle cx="620.2" cy="268.1" r="0.9"/>
<circle cx="646.5" cy="265.9" r="0.9"/>
<circle cx="593.7" cy="266.2" r="0.9"/>
<circle cx="600.2" cy="274.2" r="0.9"/>
<circle cx="600.3" cy="267.1" r="0.9"/>
<circle cx="591.7" cy="266.3" r="0.9"/>
<circle cx="629.1" cy="272.0" r="0.9"/>
<circle cx="608.9" cy="273.7" r="0.9"/>
<circle cx="615.8" cy="277.0" r="0.9"/>
<circle cx="615.4" cy="265.6" r="0.9"/>
<circle cx="609.3" cy="268.6" r="0.9"/>
<circle cx="646.5" cy="267.7" r="0.9"/>
<circle cx="610.1" cy="262.0" r="0.9"/>
<circle cx="595.1" cy="253.1" r="0.9"/>
<circle cx="583.8" cy="269.0" r="0.9"/>
<circle cx="598.9" cy="266.5" r="0.9"/>
<circle cx="617.7" cy="269.0" r="0.9"/>
<circle cx="617.4" cy="264.6" r="0.9"/>
<circle cx="619.9" cy="274.6" r="0.9"/>
<circle cx="604.7" cy="267.4" r="0.9"/>
<circle cx="623.2" cy="264.6" r="0.9"/>
<circle cx="623.6" cy="267.1" r="0.9"/>
<circle cx="587.7" cy="264.4" r="0.9"/>
<circle cx="622.4" cy="269.2" r="0.9"/>
<circle cx="622.8" cy="262.2" r="0.9"/>
<circle cx="607.9" cy="258.4" r="0.9"/>
<circle cx="637.6" cy="258.5" r="0.9"/>
<circle cx="615.0" cy="262.3" r="0.9"/>
<circle cx="597.5" cy="271.0" r="0.9"/>
<circle cx="634.3" cy="269.6" r="0.9"/>
<circle cx="652.2" cy="265.8" r="0.9"/>
<circle cx="588.8" cy="270.7" r="0.9"/>
<circle cx="612.3" cy="264.3" r="0.9"/>
<circle cx="633.0" cy="273.3" r="0.9"/>
<circle cx="627.1" cy="262.3" r="0.9"/>
<circle cx="635.9" cy="255.5" r="0.9"/>
<circle cx="642.3" cy="261.2" r="0.9"/>
<circle cx="575.1" cy="271.4" r="0.9"/>
<circle cx="628.9" cy="261.0" r="0.9"/>
<circle cx="578.7" cy="259.2" r="0.9"/>
<circle cx="593.4" cy="262.0" r="0.9"/>
<circle cx="590.3" cy="274.0" r="0.9"/>
<circle cx="624.3" cy="262.7" r="0.9"/>
<circle cx="577.8" cy="270.0" r="0.9"/>
<circle cx="616.0" cy="255.7" r="0.9"/>
<circle cx="581.0" cy="263.7" r="0.9"/>
<circle cx="657.1" cy="269.3" r="0.9"/>
<circle cx="602.3" cy="267.4" r="0.9"/>
<circle cx="613.4" cy="269.1" r="0.9"/>
<circle cx="588.2" cy="257.2" r="0.9"/>
<circle cx="601.3" cy="264.1" r="0.9"/>
<circle cx="642.3" cy="263.3" r="0.9"/>
<circle cx="619.1" cy="268.2" r="0.9"/>
<circle cx="588.6" cy="267.1" r="0.9"/>
<circle cx="602.9" cy="272.2" r="0.9"/>
<circle cx="610.3" cy="258.6" r="0.9"/>
<circle cx="651.9" cy="263.4" r="0.9"/>
<circle cx="611.2" cy="271.7" r="0.9"/>
<circle cx="623.3" cy="263.3" r="0.9"/>
<circle cx="636.7" cy="260.0" r="0.9"/>
<circle cx="665.6" cy="274.3" r="0.9"/>
<circle cx="627.9" cy="268.5" r="0.9"/>
<circle cx="590.5" cy="288.9" r="0.9"/>
<circle cx="592.2" cy="269.0" r="0.9"/>
<circle cx="650.9" cy="285.0" r="0.9"/>
<circle cx="622.7" cy="267.6" r="0.9"/>
<circle cx="572.0" cy="271.9" r="0.9"/>
<circle cx="602.6" cy="276.4" r="0.9"/>
<circle cx="603.8" cy="276.0" r="0.9"/>
<circle cx="606.3" cy="274.8" r="0.9"/>
<circle cx="627.8" cy="267.2" r="0.9"/>
<circle cx="628.4" cy="271.3" r="0.9"/>
<circle cx="643.0" cy="256.4" r="0.9"/>
<circle cx="572.6" cy="264.9" r="0.9"/>
<circle cx="620.2" cy="260.4" r="0.9"/>
<circle cx="609.3" cy="261.7" r="0.9"/>
<circle cx="590.6" cy="260.9" r="0.9"/>
<circle cx="632.2" cy="258.8" r="0.9"/>
<circle cx="584.8" cy="258.0" r="0.9"/>
<circle cx="583.5" cy="253.8" r="0.9"/>
<circle cx="649.1" cy="262.5" r="0.9"/>
<circle cx="622.8" cy="258.3" r="0.9"/>
<circle cx="631.8" cy="268.1" r="0.9"/>
<circle cx="642.5" cy="260.2" r="0.9"/>
<circle cx="585.9" cy="279.1" r="0.9"/>
<circle cx="643.8" cy="277.5" r="0.9"/>
<circle cx="616.2" cy="279.2" r="0.9"/>
<circle cx="625.6" cy="267.2" r="0.9"/>
<circle cx="631.6" cy="271.5" r="0.9"/>
<circle cx="627.9" cy="258.6" r="0.9"/>
<circle cx="605.6" cy="273.5" r="0.9"/>
<circle cx="613.6" cy="262.6" r="0.9"/>
<circle cx="617.6" cy="269.0" r="0.9"/>
<circle cx="637.1" cy="262.8" r="0.9"/>
<circle cx="565.7" cy="276.3" r="0.9"/>
<circle cx="645.0" cy="288.1" r="0.9"/>
<circle cx="593.7" cy="261.9" r="0.9"/>
<circle cx="661.7" cy="249.5" r="0.9"/>
<circle cx="624.6" cy="269.5" r="0.9"/>
<circle cx="652.5" cy="268.9" r="0.9"/>
<circle cx="609.1" cy="261.8" r="0.9"/>
<circle cx="652.1" cy="268.8" r="0.9"/>
<circle cx="623.3" cy="272.5" r="0.9"/>
<circle cx="623.3" cy="261.7" r="0.9"/>
<circle cx="624.2" cy="266.0" r="0.9"/>
<circle cx="559.6" cy="264.2" r="0.9"/>
<circle cx="581.7" cy="269.8" r="0.9"/>
<circle cx="578.6" cy="263.1" r="0.9"/>
<circle cx="616.0" cy="266.7" r="0.9"/>
<circle cx="609.3" cy="270.3" r="0.9"/>
<circle cx="632.2" cy="261.1" r="0.9"/>
<circle cx="621.9" cy="259.9" r="0.9"/>
<circle cx="641.4" cy="250.2" r="0.9"/>
<circle cx="598.7" cy="266.5" r="0.9"/>
<circle cx="621.9" cy="258.7" r="0.9"/>
<circle cx="603.1" cy="278.3" r="0.9"/>
<circle cx="588.5" cy="259.6" r="0.9"/>
<circle cx="575.2" cy="261.2" r="0.9"/>
<circle cx="611.9" cy="272.3" r="0.9"/>
<circle cx="593.6" cy="272.6" r="0.9"/>
<circle cx="602.2" cy="264.6" r="0.9"/>
<circle cx="592.8" cy="237.5" r="0.9"/>
<circle cx="589.7" cy="265.9" r="0.9"/>
<circle cx="675.8" cy="246.9" r="0.9"/>
<circle cx="614.7" cy="266.4" r="0.9"/>
<circle cx="585.0" cy="279.0" r="0.9"/>
<circle cx="609.4" cy="261.3" r="0.9"/>
<circle cx="614.1" cy="269.5" r="0.9"/>
<circle cx="581.3" cy="271.1" r="0.9"/>
<circle cx="636.9" cy="283.5" r="0.9"/>
<circle cx="593.2" cy="274.9" r="0.9"/>
<circle cx="625.1" cy="265.0" r="0.9"/>
<circle cx="603.3" cy="263.7" r="0.9"/>
<circle cx="595.6" cy="275.1" r="0.9"/>
<circle cx="599.8" cy="277.8" r="0.9"/>
<circle cx="579.6" cy="281.1" r="0.9"/>
<circle cx="601.7" cy="285.8" r="0.9"/>
<circle cx="591.1" cy="263.5" r="0.9"/>
<circle cx="637.1" cy="265.7" r="0.9"/>
<circle cx="622.7" cy="255.7" r="0.9"/>
<circle cx="586.9" cy="260.6" r="0.9"/>
<circle cx="652.0" cy="273.3" r="0.9"/>
<circle cx="607.9" cy="261.2" r="0.9"/>
<circle cx="584.1" cy="263.7" r="0.9"/>
<circle cx="637.1" cy="260.2" r="0.9"/>
<circle cx="627.5" cy="260.8" r="0.9"/>
<circle cx="590.5" cy="275.8" r="0.9"/>
<circle cx="588.0" cy="274.8" r="0.9"/>
<circle cx="609.5" cy="270.9" r="0.9"/>
<circle cx="598.1" cy="262.0" r="0.9"/>
<circle cx="625.0" cy="259.4" r="0.9"/>
<circle cx="619.2" cy="259.1" r="0.9"/>
<circle cx="586.6" cy="245.6" r="0.9"/>
<circle cx="588.9" cy="270.9" r="0.9"/>
<circle cx="607.4" cy="273.9" r="0.9"/>
<circle cx="641.6" cy="265.6" r="0.9"/>
<circle cx="598.7" cy="252.9" r="0.9"/>
<circle cx="626.1" cy="258.9" r="0.9"/>
<circle cx="598.6" cy="275.1" r="0.9"/>
<circle cx="622.5" cy="278.3" r="0.9"/>
<circle cx="600.2" cy="261.5" r="0.9"/>
<circle cx="622.1" cy="264.4" r="0.9"/>
<circle cx="593.0" cy="259.1" r="0.9"/>
<circle cx="596.2" cy="276.0" r="0.9"/>
<circle cx="655.6" cy="255.0" r="0.9"/>
<circle cx="633.2" cy="261.1" r="0.9"/>
<circle cx="585.0" cy="268.1" r="0.9"/>
<circle cx="638.7" cy="257.1" r="0.9"/>
<circle cx="608.9" cy="260.6" r="0.9"/>
<circle cx="642.6" cy="261.6" r="0.9"/>
<circle cx="582.9" cy="261.2" r="0.9"/>
<circle cx="610.4" cy="257.2" r="0.9"/>
<circle cx="603.0" cy="269.0" r="0.9"/>
<circle cx="597.0" cy="264.0" r="0.9"/>
<circle cx="586.7" cy="272.2" r="0.9"/>
<circle cx="655.6" cy="261.8" r="0.9"/>
<circle cx="612.4" cy="268.0" r="0.9"/>
<circle cx="605.6" cy="261.1" r="0.9"/>
<circle cx="575.9" cy="287.0" r="0.9"/>
<circle cx="637.5" cy="266.8" r="0.9"/>
<circle cx="637.7" cy="256.1" r="0.9"/>
<circle cx="609.0" cy="270.7" r="0.9"/>
<circle cx="582.3" cy="279.4" r="0.9"/>
<circle cx="625.5" cy="271.2" r="0.9"/>
<circle cx="612.8" cy="269.3" r="0.9"/>
<circle cx="580.5" cy="274.3" r="0.9"/>
<circle cx="659.2" cy="262.3" r="0.9"/>
<circle cx="629.0" cy="265.3" r="0.9"/>
<circle cx="590.9" cy="267.9" r="0.9"/>
<circle cx="594.9" cy="263.3" r="0.9"/>
<circle cx="630.4" cy="263.4" r="0.9"/>
<circle cx="639.5" cy="260.9" r="0.9"/>
<circle cx="626.2" cy="271.7" r="0.9"/>
<circle cx="624.8" cy="256.3" r="0.9"/>
<circle cx="604.9" cy="259.5" r="0.9"/>
<circle cx="659.4" cy="267.6" r="0.9"/>
<circle cx="607.4" cy="263.5" r="0.9"/>
<circle cx="618.6" cy="279.6" r="0.9"/>
<circle cx="622.2" cy="259.0" r="0.9"/>
<circle cx="607.5" cy="264.6" r="0.9"/>
<circle cx="631.1" cy="280.1" r="0.9"/>
<circle cx="648.3" cy="270.7" r="0.9"/>
<circle cx="564.5" cy="272.3" r="0.9"/>
<circle cx="609.2" cy="263.1" r="0.9"/>
<circle cx="641.8" cy="255.5" r="0.9"/>
<circle cx="645.2" cy="261.3" r="0.9"/>
<circle cx="603.6" cy="261.2" r="0.9"/>
<circle cx="629.0" cy="262.0" r="0.9"/>
<circle cx="618.3" cy="241.6" r="0.9"/>
<circle cx="617.3" cy="270.0" r="0.9"/>
<circle cx="600.1" cy="263.8" r="0.9"/>
<circle cx="636.4" cy="260.7" r="0.9"/>
<circle cx="640.8" cy="266.4" r="0.9"/>
<circle cx="649.6" cy="270.8" r="0.9"/>
<circle cx="620.1" cy="268.2" r="0.9"/>
<circle cx="617.3" cy="263.9" r="0.9"/>
<circle cx="639.4" cy="260.6" r="0.9"/>
<circle cx="609.3" cy="264.7" r="0.9"/>
<circle cx="612.5" cy="261.4" r="0.9"/>
<circle cx="653.6" cy="265.5" r="0.9"/>
<circle cx="589.3" cy="273.3" r="0.9"/>
<circle cx="558.3" cy="262.8" r="0.9"/>
<circle cx="636.4" cy="268.4" r="0.9"/>
<circle cx="645.6" cy="264.4" r="0.9"/>
<circle cx="644.1" cy="256.6" r="0.9"/>
<circle cx="637.0" cy="265.6" r="0.9"/>
<circle cx="639.1" cy="266.5" r="0.9"/>
<circle cx="599.4" cy="273.6" r="0.9"/>
<circle cx="638.0" cy="269.6" r="0.9"/>
<circle cx="592.7" cy="269.1" r="0.9"/>
<circle cx="580.0" cy="271.1" r="0.9"/>
<circle cx="609.8" cy="268.8" r="0.9"/>
<circle cx="586.1" cy="276.6" r="0.9"/>
<circle cx="600.2" cy="268.2" r="0.9"/>
<circle cx="605.3" cy="254.5" r="0.9"/>
<circle cx="617.8" cy="263.6" r="0.9"/>
<circle cx="591.8" cy="263.4" r="0.9"/>
<circle cx="601.2" cy="271.6" r="0.9"/>
<circle cx="611.0" cy="266.9" r="0.9"/>
<circle cx="617.9" cy="250.0" r="0.9"/>
<circle cx="624.9" cy="264.7" r="0.9"/>
<circle cx="631.5" cy="263.6" r="0.9"/>
<circle cx="619.5" cy="266.1" r="0.9"/>
<circle cx="624.4" cy="266.2" r="0.9"/>
<circle cx="629.3" cy="270.7" r="0.9"/>
<circle cx="614.0" cy="262.3" r="0.9"/>
<circle cx="618.5" cy="266.6" r="0.9"/>
<circle cx="594.2" cy="276.2" r="0.9"/>
<circle cx="619.5" cy="262.2" r="0.9"/>
<circle cx="636.2" cy="255.3" r="0.9"/>
<circle cx="599.8" cy="264.9" r="0.9"/>
<circle cx="643.6" cy="274.9" r="0.9"/>
<circle cx="603.0" cy="265.6" r="0.9"/>
<circle cx="638.3" cy="245.3" r="0.9"/>
<circle cx="651.6" cy="282.6" r="0.9"/>
<circle cx="619.5" cy="245.1" r="0.9"/>
<circle cx="605.7" cy="266.0" r="0.9"/>
<circle cx="624.4" cy="265.0" r="0.9"/>
<circle cx="605.6" cy="266.7" r="0.9"/>
<circle cx="594.3" cy="263.9" r="0.9"/>
<circle cx="637.5" cy="258.6" r="0.9"/>
<circle cx="571.9" cy="275.7" r="0.9"/>
<circle cx="634.5" cy="264.5" r="0.9"/>
<circle cx="597.1" cy="274.4" r="0.9"/>
<circle cx="635.0" cy="257.4" r="0.9"/>
<circle cx="603.1" cy="253.6" r="0.9"/>
<circle cx="654.9" cy="270.6" r="0.9"/>
<circle cx="603.2" cy="266.1" r="0.9"/>
<circle cx="564.5" cy="268.3" r="0.9"/>
<circle cx="679.2" cy="261.8" r="0.9"/>
<circle cx="615.0" cy="269.0" r="0.9"/>
<circle cx="611.5" cy="272.3" r="0.9"/>
<circle cx="614.0" cy="264.7" r="0.9"/>
<circle cx="607.1" cy="263.1" r="0.9"/>
<circle cx="620.8" cy="255.8" r="0.9"/>
<circle cx="597.4" cy="263.5" r="0.9"/>
<circle cx="662.6" cy="258.5" r="0.9"/>
<circle cx="598.7" cy="268.0" r="0.9"/>
<circle cx="628.6" cy="269.5" r="0.9"/>
<circle cx="644.0" cy="267.1" r="0.9"/>
<circle cx="609.3" cy="265.6" r="0.9"/>
<circle cx="633.6" cy="251.2" r="0.9"/>
<circle cx="602.2" cy="277.3" r="0.9"/>
<circle cx="592.1" cy="274.7" r="0.9"/>
<circle cx="596.4" cy="276.8" r="0.9"/>
<circle cx="638.3" cy="261.4" r="0.9"/>
<circle cx="637.5" cy="259.7" r="0.9"/>
<circle cx="594.0" cy="282.1" r="0.9"/>
<circle cx="636.8" cy="271.9" r="0.9"/>
<circle cx="594.0" cy="269.6" r="0.9"/>
<circle cx="618.2" cy="270.5" r="0.9"/>
<circle cx="629.6" cy="264.3" r="0.9"/>
<circle cx="568.3" cy="269.1" r="0.9"/>
<circle cx="627.9" cy="273.3" r="0.9"/>
<circle cx="607.3" cy="271.6" r="0.9"/>
<circle cx="581.1" cy="267.7" r="0.9"/>
<circle cx="629.1" cy="261.9" r="0.9"/>
<circle cx="620.4" cy="269.9" r="0.9"/>
<circle cx="621.9" cy="250.2" r="0.9"/>
<circle cx="607.8" cy="281.6" r="0.9"/>
<circle cx="598.9" cy="266.0" r="0.9"/>
<circle cx="584.5" cy="269.7" r="0.9"/>
<circle cx="608.6" cy="268.2" r="0.9"/>
<circle cx="590.4" cy="265.2" r="0.9"/>
<circle cx="603.8" cy="264.7" r="0.9"/>
<circle cx="622.7" cy="267.4" r="0.9"/>
<circle cx="631.4" cy="272.2" r="0.9"/>
<circle cx="623.1" cy="268.0" r="0.9"/>
<circle cx="620.0" cy="264.2" r="0.9"/>
<circle cx="607.6" cy="266.2" r="0.9"/>
<circle cx="634.6" cy="246.4" r="0.9"/>
<circle cx="639.7" cy="265.6" r="0.9"/>
<circle cx="602.7" cy="255.3" r="0.9"/>
<circle cx="603.9" cy="270.3" r="0.9"/>
<circle cx="591.9" cy="274.2" r="0.9"/>
<circle cx="607.0" cy="261.4" r="0.9"/>
<circle cx="603.9" cy="277.1" r="0.9"/>
<circle cx="657.0" cy="274.1" r="0.9"/>
<circle cx="643.7" cy="256.9" r="0.9"/>
<circle cx="583.5" cy="260.6" r="0.9"/>
<circle cx="630.8" cy="260.5" r="0.9"/>
<circle cx="608.3" cy="264.5" r="0.9"/>
<circle cx="574.9" cy="271.4" r="0.9"/>
<circle cx="619.2" cy="270.5" r="0.9"/>
<circle cx="598.5" cy="267.1" r="0.9"/>
<circle cx="620.4" cy="269.0" r="0.9"/>
<circle cx="625.1" cy="272.0" r="0.9"/>
<circle cx="599.1" cy="277.8" r="0.9"/>
<circle cx="646.7" cy="266.2" r="0.9"/>
<circle cx="616.6" cy="260.2" r="0.9"/>
<circle cx="596.1" cy="257.2" r="0.9"/>
<circle cx="577.3" cy="289.6" r="0.9"/>
<circle cx="662.9" cy="253.9" r="0.9"/>
<circle cx="595.7" cy="266.1" r="0.9"/>
<circle cx="614.9" cy="265.6" r="0.9"/>
<circle cx="619.8" cy="275.3" r="0.9"/>
<circle cx="633.2" cy="272.9" r="0.9"/>
<circle cx="559.3" cy="262.7" r="0.9"/>
<circle cx="615.8" cy="270.6" r="0.9"/>
<circle cx="580.2" cy="258.8" r="0.9"/>
<circle cx="607.1" cy="270.4" r="0.9"/>
<circle cx="659.1" cy="261.7" r="0.9"/>
<circle cx="600.1" cy="249.0" r="0.9"/>
<circle cx="628.3" cy="270.5" r="0.9"/>
<circle cx="588.5" cy="267.0" r="0.9"/>
<circle cx="679.6" cy="262.1" r="0.9"/>
<circle cx="622.0" cy="259.2" r="0.9"/>
<circle cx="610.1" cy="261.4" r="0.9"/>
<circle cx="599.6" cy="266.2" r="0.9"/>
<circle cx="636.9" cy="265.5" r="0.9"/>
<circle cx="608.0" cy="264.7" r="0.9"/>
<circle cx="592.6" cy="272.0" r="0.9"/>
<circle cx="601.1" cy="252.6" r="0.9"/>
<circle cx="606.1" cy="282.7" r="0.9"/>
<circle cx="615.0" cy="250.9" r="0.9"/>
<circle cx="615.8" cy="272.1" r="0.9"/>
<circle cx="594.6" cy="262.8" r="0.9"/>
<circle cx="601.3" cy="271.7" r="0.9"/>
<circle cx="658.6" cy="262.0" r="0.9"/>
<circle cx="606.7" cy="272.7" r="0.9"/>
<circle cx="642.6" cy="252.3" r="0.9"/>
<circle cx="602.5" cy="267.9" r="0.9"/>
<circle cx="620.2" cy="262.6" r="0.9"/>
<circle cx="598.2" cy="263.5" r="0.9"/>
<circle cx="568.1" cy="286.8" r="0.9"/>
<circle cx="599.7" cy="267.6" r="0.9"/>
<circle cx="631.5" cy="242.5" r="0.9"/>
<circle cx="640.1" cy="255.2" r="0.9"/>
<circle cx="635.7" cy="262.2" r="0.9"/>
<circle cx="599.5" cy="266.4" r="0.9"/>
<circle cx="604.4" cy="265.7" r="0.9"/>
<circle cx="586.1" cy="269.4" r="0.9"/>
<circle cx="617.7" cy="262.5" r="0.9"/>
<circle cx="629.7" cy="274.4" r="0.9"/>
<circle cx="616.5" cy="262.8" r="0.9"/>
<circle cx="594.9" cy="262.4" r="0.9"/>
<circle cx="620.4" cy="267.9" r="0.9"/>
<circle cx="613.6" cy="266.5" r="0.9"/>
<circle cx="622.2" cy="266.0" r="0.9"/>
<circle cx="607.4" cy="255.5" r="0.9"/>
<circle cx="616.1" cy="263.4" r="0.9"/>
<circle cx="595.5" cy="258.7" r="0.9"/>
<circle cx="593.0" cy="269.3" r="0.9"/>
<circle cx="555.2" cy="271.8" r="0.9"/>
<circle cx="616.4" cy="266.8" r="0.9"/>
<circle cx="615.3" cy="268.2" r="0.9"/>
<circle cx="590.3" cy="276.7" r="0.9"/>
<circle cx="646.1" cy="260.7" r="0.9"/>
<circle cx="639.0" cy="254.5" r="0.9"/>
<circle cx="650.2" cy="254.7" r="0.9"/>
<circle cx="609.5" cy="261.5" r="0.9"/>
<circle cx="606.5" cy="264.2" r="0.9"/>
<circle cx="619.5" cy="267.1" r="0.9"/>
<circle cx="632.9" cy="266.7" r="0.9"/>
<circle cx="645.9" cy="260.1" r="0.9"/>
<circle cx="591.0" cy="284.0" r="0.9"/>
<circle cx="608.7" cy="265.0" r="0.9"/>
<circle cx="567.3" cy="271.3" r="0.9"/>
<circle cx="606.6" cy="259.8" r="0.9"/>
<circle cx="632.8" cy="271.1" r="0.9"/>
<circle cx="627.9" cy="264.4" r="0.9"/>
<circle cx="665.2" cy="261.4" r="0.9"/>
<circle cx="627.9" cy="256.9" r="0.9"/>
<circle cx="603.2" cy="265.8" r="0.9"/>
<circle cx="595.8" cy="267.9" r="0.9"/>
<circle cx="618.6" cy="259.1" r="0.9"/>
<circle cx="649.6" cy="252.8" r="0.9"/>
<circle cx="584.7" cy="263.1" r="0.9"/>
<circle cx="591.4" cy="259.4" r="0.9"/>
<circle cx="614.5" cy="270.3" r="0.9"/>
<circle cx="605.2" cy="272.6" r="0.9"/>
<circle cx="632.7" cy="271.3" r="0.9"/>
<circle cx="602.4" cy="270.5" r="0.9"/>
<circle cx="613.8" cy="263.0" r="0.9"/>
<circle cx="612.5" cy="269.0" r="0.9"/>
<circle cx="617.6" cy="271.7" r="0.9"/>
<circle cx="643.3" cy="265.3" r="0.9"/>
<circle cx="583.9" cy="270.5" r="0.9"/>
<circle cx="574.1" cy="262.9" r="0.9"/>
<circle cx="579.5" cy="262.2" r="0.9"/>
<circle cx="606.3" cy="267.3" r="0.9"/>
<circle cx="615.4" cy="254.6" r="0.9"/>
<circle cx="624.7" cy="264.8" r="0.9"/>
<circle cx="619.8" cy="271.2" r="0.9"/>
<circle cx="615.7" cy="263.1" r="0.9"/>
<circle cx="573.0" cy="264.0" r="0.9"/>
<circle cx="598.0" cy="284.1" r="0.9"/>
<circle cx="622.4" cy="274.4" r="0.9"/>
<circle cx="585.1" cy="264.0" r="0.9"/>
<circle cx="601.9" cy="278.0" r="0.9"/>
<circle cx="603.0" cy="263.6" r="0.9"/>
<circle cx="623.7" cy="286.9" r="0.9"/>
<circle cx="593.1" cy="262.9" r="0.9"/>
<circle cx="575.3" cy="272.2" r="0.9"/>
<circle cx="604.5" cy="273.3" r="0.9"/>
<circle cx="606.3" cy="273.8" r="0.9"/>
<circle cx="631.3" cy="267.7" r="0.9"/>
<circle cx="599.2" cy="269.1" r="0.9"/>
<circle cx="607.5" cy="258.0" r="0.9"/>
<circle cx="601.1" cy="274.4" r="0.9"/>
<circle cx="601.9" cy="269.5" r="0.9"/>
<circle cx="659.0" cy="258.0" r="0.9"/>
<circle cx="556.0" cy="267.9" r="0.9"/>
<circle cx="625.8" cy="267.4" r="0.9"/>
<circle cx="594.9" cy="266.1" r="0.9"/>
<circle cx="614.4" cy="267.8" r="0.9"/>
<circle cx="578.3" cy="260.8" r="0.9"/>
<circle cx="617.1" cy="249.7" r="0.9"/>
<circle cx="594.6" cy="263.3" r="0.9"/>
<circle cx="625.1" cy="251.5" r="0.9"/>
<circle cx="643.0" cy="273.8" r="0.9"/>
<circle cx="584.7" cy="260.3" r="0.9"/>
<circle cx="576.8" cy="261.8" r="0.9"/>
<circle cx="638.2" cy="276.8" r="0.9"/>
<circle cx="656.2" cy="274.4" r="0.9"/>
<circle cx="612.8" cy="248.3" r="0.9"/>
<circle cx="566.4" cy="267.3" r="0.9"/>
<circle cx="577.8" cy="267.6" r="0.9"/>
<circle cx="634.0" cy="265.0" r="0.9"/>
<circle cx="651.9" cy="270.2" r="0.9"/>
<circle cx="609.8" cy="274.8" r="0.9"/>
<circle cx="582.5" cy="263.7" r="0.9"/>
<circle cx="638.4" cy="268.3" r="0.9"/>
<circle cx="582.3" cy="258.0" r="0.9"/>
<circle cx="597.4" cy="267.5" r="0.9"/>
<circle cx="598.6" cy="261.6" r="0.9"/>
<circle cx="598.4" cy="273.4" r="0.9"/>
<circle cx="624.8" cy="274.4" r="0.9"/>
<circle cx="591.0" cy="261.9" r="0.9"/>
<circle cx="616.0" cy="264.7" r="0.9"/>
<circle cx="637.0" cy="270.2" r="0.9"/>
<circle cx="637.0" cy="264.4" r="0.9"/>
<circle cx="642.8" cy="256.2" r="0.9"/>
<circle cx="604.3" cy="278.3" r="0.9"/>
<circle cx="574.5" cy="260.6" r="0.9"/>
<circle cx="616.9" cy="259.9" r="0.9"/>
<circle cx="617.8" cy="269.9" r="0.9"/>
<circle cx="619.2" cy="266.0" r="0.9"/>
<circle cx="604.1" cy="244.0" r="0.9"/>
<circle cx="622.9" cy="269.4" r="0.9"/>
<circle cx="589.8" cy="263.0" r="0.9"/>
<circle cx="631.0" cy="274.4" r="0.9"/>
<circle cx="652.3" cy="263.3" r="0.9"/>
<circle cx="615.9" cy="264.3" r="0.9"/>
<circle cx="614.1" cy="260.0" r="0.9"/>
<circle cx="627.1" cy="257.6" r="0.9"/>
<circle cx="625.2" cy="264.2" r="0.9"/>
<circle cx="625.7" cy="259.9" r="0.9"/>
<circle cx="617.5" cy="260.5" r="0.9"/>
<circle cx="606.7" cy="265.7" r="0.9"/>
<circle cx="648.1" cy="260.3" r="0.9"/>
<circle cx="586.3" cy="263.5" r="0.9"/>
<circle cx="638.1" cy="264.9" r="0.9"/>
<circle cx="593.9" cy="271.4" r="0.9"/>
<circle cx="623.6" cy="247.9" r="0.9"/>
<circle cx="591.8" cy="249.7" r="0.9"/>
<circle cx="578.5" cy="269.9" r="0.9"/>
<circle cx="589.9" cy="266.4" r="0.9"/>
<circle cx="591.3" cy="256.2" r="0.9"/>
<circle cx="642.6" cy="260.1" r="0.9"/>
<circle cx="599.4" cy="262.7" r="0.9"/>
<circle cx="597.2" cy="268.4" r="0.9"/>
<circle cx="591.0" cy="263.5" r="0.9"/>
<circle cx="612.1" cy="271.6" r="0.9"/>
<circle cx="612.2" cy="260.3" r="0.9"/>
<circle cx="625.2" cy="266.9" r="0.9"/>
<circle cx="597.2" cy="270.5" r="0.9"/>
<circle cx="585.9" cy="254.5" r="0.9"/>
<circle cx="611.2" cy="272.2" r="0.9"/>
<circle cx="632.0" cy="267.1" r="0.9"/>
<circle cx="629.2" cy="271.7" r="0.9"/>
<circle cx="590.6" cy="265.3" r="0.9"/>
<circle cx="601.6" cy="269.9" r="0.9"/>
<circle cx="620.0" cy="257.2" r="0.9"/>
<circle cx="599.7" cy="271.3" r="0.9"/>
<circle cx="581.4" cy="277.9" r="0.9"/>
<circle cx="616.9" cy="258.8" r="0.9"/>
<circle cx="604.7" cy="266.2" r="0.9"/>
<circle cx="619.2" cy="255.9" r="0.9"/>
<circle cx="631.5" cy="267.2" r="0.9"/>
<circle cx="601.7" cy="253.3" r="0.9"/>
<circle cx="587.4" cy="263.2" r="0.9"/>
<circle cx="595.8" cy="264.0" r="0.9"/>
<circle cx="629.9" cy="280.8" r="0.9"/>
<circle cx="614.9" cy="264.5" r="0.9"/>
<circle cx="629.9" cy="271.8" r="0.9"/>
<circle cx="605.0" cy="266.2" r="0.9"/>
<circle cx="629.1" cy="244.7" r="0.9"/>
<circle cx="602.0" cy="264.4" r="0.9"/>
<circle cx="598.5" cy="258.0" r="0.9"/>
<circle cx="612.6" cy="263.0" r="0.9"/>
<circle cx="610.0" cy="276.0" r="0.9"/>
<circle cx="607.5" cy="251.7" r="0.9"/>
<circle cx="613.9" cy="264.6" r="0.9"/>
<circle cx="634.0" cy="261.0" r="0.9"/>
<circle cx="597.9" cy="265.6" r="0.9"/>
<circle cx="574.0" cy="266.7" r="0.9"/>
<circle cx="622.0" cy="265.7" r="0.9"/>
<circle cx="654.6" cy="257.7" r="0.9"/>
<circle cx="636.2" cy="256.2" r="0.9"/>
<circle cx="586.4" cy="269.8" r="0.9"/>
<circle cx="622.9" cy="263.5" r="0.9"/>
<circle cx="637.6" cy="266.5" r="0.9"/>
<circle cx="632.8" cy="258.3" r="0.9"/>
<circle cx="653.3" cy="260.7" r="0.9"/>
<circle cx="631.7" cy="263.8" r="0.9"/>
<circle cx="551.1" cy="266.2" r="0.9"/>
<circle cx="625.7" cy="261.8" r="0.9"/>
<circle cx="595.8" cy="268.0" r="0.9"/>
<circle cx="592.4" cy="274.9" r="0.9"/>
<circle cx="574.9" cy="269.8" r="0.9"/>
<circle cx="584.5" cy="267.6" r="0.9"/>
<circle cx="604.7" cy="268.9" r="0.9"/>
<circle cx="637.2" cy="250.9" r="0.9"/>
<circle cx="638.2" cy="263.6" r="0.9"/>
<circle cx="627.6" cy="271.6" r="0.9"/>
<circle cx="640.4" cy="230.2" r="0.9"/>
<circle cx="604.1" cy="257.6" r="0.9"/>
<circle cx="594.2" cy="256.9" r="0.9"/>
<circle cx="655.3" cy="264.4" r="0.9"/>
<circle cx="623.2" cy="266.2" r="0.9"/>
<circle cx="605.1" cy="263.2" r="0.9"/>
<circle cx="629.6" cy="252.7" r="0.9"/>
<circle cx="596.4" cy="266.8" r="0.9"/>
<circle cx="648.0" cy="269.4" r="0.9"/>
<circle cx="583.9" cy="267.0" r="0.9"/>
<circle cx="601.0" cy="266.8" r="0.9"/>
<circle cx="608.8" cy="260.7" r="0.9"/>
<circle cx="608.6" cy="267.0" r="0.9"/>
<circle cx="585.1" cy="264.5" r="0.9"/>
<circle cx="632.1" cy="263.2" r="0.9"/>
<circle cx="626.8" cy="260.7" r="0.9"/>
<circle cx="614.3" cy="274.2" r="0.9"/>
<circle cx="625.9" cy="276.6" r="0.9"/>
<circle cx="602.8" cy="259.9" r="0.9"/>
<circle cx="634.6" cy="268.7" r="0.9"/>
<circle cx="600.4" cy="236.3" r="0.9"/>
<circle cx="589.3" cy="263.1" r="0.9"/>
<circle cx="609.2" cy="260.3" r="0.9"/>
<circle cx="608.8" cy="268.9" r="0.9"/>
<circle cx="621.0" cy="261.2" r="0.9"/>
<circle cx="628.2" cy="273.8" r="0.9"/>
<circle cx="650.9" cy="268.1" r="0.9"/>
<circle cx="583.6" cy="264.8" r="0.9"/>
<circle cx="577.8" cy="255.9" r="0.9"/>
<circle cx="619.6" cy="272.9" r="0.9"/>
<circle cx="642.5" cy="291.2" r="0.9"/>
<circle cx="636.4" cy="255.5" r="0.9"/>
<circle cx="611.2" cy="269.6" r="0.9"/>
<circle cx="608.4" cy="268.1" r="0.9"/>
<circle cx="607.3" cy="271.2" r="0.9"/>
<circle cx="653.1" cy="270.8" r="0.9"/>
<circle cx="609.2" cy="268.0" r="0.9"/>
<circle cx="621.1" cy="256.8" r="0.9"/>
<circle cx="586.8" cy="256.6" r="0.9"/>
<circle cx="634.4" cy="259.2" r="0.9"/>
<circle cx="611.1" cy="265.8" r="0.9"/>
<circle cx="608.2" cy="269.2" r="0.9"/>
<circle cx="607.5" cy="265.6" r="0.9"/>
<circle cx="611.2" cy="260.8" r="0.9"/>
<circle cx="674.2" cy="264.3" r="0.9"/>
<circle cx="627.8" cy="284.8" r="0.9"/>
<circle cx="628.9" cy="266.8" r="0.9"/>
<circle cx="597.4" cy="266.7" r="0.9"/>
<circle cx="583.0" cy="288.9" r="0.9"/>
<circle cx="566.7" cy="278.5" r="0.9"/>
<circle cx="601.3" cy="279.3" r="0.9"/>
<circle cx="618.0" cy="262.7" r="0.9"/>
<circle cx="619.4" cy="273.2" r="0.9"/>
<circle cx="582.1" cy="268.0" r="0.9"/>
<circle cx="628.7" cy="262.3" r="0.9"/>
<circle cx="601.9" cy="273.8" r="0.9"/>
<circle cx="639.4" cy="266.1" r="0.9"/>
<circle cx="608.7" cy="264.9" r="0.9"/>
<circle cx="615.4" cy="262.7" r="0.9"/>
<circle cx="598.2" cy="267.8" r="0.9"/>
<circle cx="599.3" cy="273.5" r="0.9"/>
<circle cx="615.3" cy="269.1" r="0.9"/>
<circle cx="627.2" cy="246.5" r="0.9"/>
<circle cx="630.4" cy="270.7" r="0.9"/>
<circle cx="598.9" cy="279.5" r="0.9"/>
<circle cx="587.1" cy="265.6" r="0.9"/>
<circle cx="623.9" cy="263.6" r="0.9"/>
<circle cx="642.8" cy="269.3" r="0.9"/>
<circle cx="603.7" cy="258.2" r="0.9"/>
<circle cx="605.1" cy="246.4" r="0.9"/>
<circle cx="604.8" cy="263.4" r="0.9"/>
<circle cx="622.0" cy="263.9" r="0.9"/>
<circle cx="635.7" cy="260.3" r="0.9"/>
<circle cx="593.9" cy="260.5" r="0.9"/>
<circle cx="624.2" cy="267.5" r="0.9"/>
<circle cx="646.2" cy="251.5" r="0.9"/>
<circle cx="627.8" cy="275.0" r="0.9"/>
<circle cx="597.8" cy="265.2" r="0.9"/>
<circle cx="615.6" cy="272.8" r="0.9"/>
<circle cx="644.5" cy="267.1" r="0.9"/>
<circle cx="632.4" cy="272.7" r="0.9"/>
<circle cx="646.6" cy="266.0" r="0.9"/>
<circle cx="606.9" cy="260.1" r="0.9"/>
<circle cx="616.3" cy="263.2" r="0.9"/>
<circle cx="597.2" cy="282.3" r="0.9"/>
<circle cx="627.1" cy="267.5" r="0.9"/>
<circle cx="610.7" cy="276.6" r="0.9"/>
<circle cx="597.8" cy="264.2" r="0.9"/>
<circle cx="606.6" cy="266.3" r="0.9"/>
<circle cx="627.5" cy="270.9" r="0.9"/>
<circle cx="634.4" cy="270.3" r="0.9"/>
<circle cx="632.4" cy="262.9" r="0.9"/>
<circle cx="666.4" cy="266.1" r="0.9"/>
<circle cx="631.9" cy="263.5" r="0.9"/>
<circle cx="595.2" cy="262.0" r="0.9"/>
<circle cx="639.1" cy="269.6" r="0.9"/>
<circle cx="596.8" cy="258.1" r="0.9"/>
<circle cx="591.4" cy="275.4" r="0.9"/>
<circle cx="631.3" cy="268.3" r="0.9"/>
<circle cx="602.7" cy="271.4" r="0.9"/>
<circle cx="615.7" cy="264.6" r="0.9"/>
<circle cx="604.5" cy="265.8" r="0.9"/>
<circle cx="611.5" cy="274.8" r="0.9"/>
<circle cx="577.7" cy="269.8" r="0.9"/>
<circle cx="635.4" cy="264.0" r="0.9"/>
<circle cx="642.5" cy="256.2" r="0.9"/>
<circle cx="610.5" cy="280.6" r="0.9"/>
<circle cx="643.1" cy="256.8" r="0.9"/>
<circle cx="634.7" cy="265.3" r="0.9"/>
<circle cx="642.1" cy="264.0" r="0.9"/>
<circle cx="648.3" cy="256.3" r="0.9"/>
<circle cx="589.1" cy="259.6" r="0.9"/>
<circle cx="633.8" cy="247.4" r="0.9"/>
<circle cx="612.8" cy="255.1" r="0.9"/>
<circle cx="632.6" cy="257.4" r="0.9"/>
<circle cx="610.2" cy="261.5" r="0.9"/>
<circle cx="661.3" cy="264.6" r="0.9"/>
<circle cx="652.5" cy="260.3" r="0.9"/>
<circle cx="615.9" cy="255.5" r="0.9"/>
<circle cx="625.9" cy="246.2" r="0.9"/>
<circle cx="621.3" cy="271.8" r="0.9"/>
<circle cx="621.8" cy="260.8" r="0.9"/>
<circle cx="636.6" cy="270.2" r="0.9"/>
<circle cx="595.0" cy="273.1" r="0.9"/>
<circle cx="585.1" cy="261.0" r="0.9"/>
<circle cx="640.8" cy="262.3" r="0.9"/>
<circle cx="623.8" cy="263.4" r="0.9"/>
<circle cx="606.4" cy="263.5" r="0.9"/>
<circle cx="601.5" cy="266.7" r="0.9"/>
<circle cx="583.8" cy="267.2" r="0.9"/>
<circle cx="610.1" cy="266.2" r="0.9"/>
<circle cx="578.4" cy="272.8" r="0.9"/>
<circle cx="619.3" cy="254.8" r="0.9"/>
<circle cx="622.3" cy="274.7" r="0.9"/>
<circle cx="601.4" cy="265.7" r="0.9"/>
<circle cx="638.2" cy="266.7" r="0.9"/>
<circle cx="632.5" cy="272.7" r="0.9"/>
<circle cx="620.2" cy="265.6" r="0.9"/>
<circle cx="599.4" cy="277.7" r="0.9"/>
<circle cx="601.3" cy="261.5" r="0.9"/>
<circle cx="594.9" cy="259.2" r="0.9"/>
<circle cx="572.6" cy="256.3" r="0.9"/>
<circle cx="615.5" cy="263.1" r="0.9"/>
<circle cx="631.3" cy="266.5" r="0.9"/>
<circle cx="581.9" cy="255.6" r="0.9"/>
<circle cx="622.9" cy="262.3" r="0.9"/>
<circle cx="609.6" cy="266.0" r="0.9"/>
<circle cx="617.4" cy="269.8" r="0.9"/>
<circle cx="630.7" cy="258.3" r="0.9"/>
<circle cx="635.1" cy="263.4" r="0.9"/>
<circle cx="599.8" cy="266.7" r="0.9"/>
<circle cx="631.1" cy="275.2" r="0.9"/>
<circle cx="605.5" cy="267.7" r="0.9"/>
<circle cx="558.4" cy="261.5" r="0.9"/>
<circle cx="659.3" cy="258.1" r="0.9"/>
<circle cx="615.3" cy="260.0" r="0.9"/>
<circle cx="607.5" cy="258.8" r="0.9"/>
<circle cx="644.0" cy="269.5" r="0.9"/>
<circle cx="624.5" cy="260.2" r="0.9"/>
<circle cx="602.1" cy="262.1" r="0.9"/>
<circle cx="619.0" cy="256.4" r="0.9"/>
<circle cx="621.5" cy="260.6" r="0.9"/>
<circle cx="610.0" cy="266.4" r="0.9"/>
<circle cx="562.0" cy="259.9" r="0.9"/>
<circle cx="617.6" cy="254.3" r="0.9"/>
<circle cx="593.6" cy="285.3" r="0.9"/>
<circle cx="591.2" cy="279.3" r="0.9"/>
<circle cx="615.3" cy="278.6" r="0.9"/>
<circle cx="661.6" cy="270.2" r="0.9"/>
<circle cx="587.9" cy="252.3" r="0.9"/>
<circle cx="621.0" cy="259.4" r="0.9"/>
<circle cx="581.6" cy="277.4" r="0.9"/>
<circle cx="578.7" cy="270.0" r="0.9"/>
<circle cx="606.1" cy="272.0" r="0.9"/>
<circle cx="634.4" cy="262.6" r="0.9"/>
<circle cx="620.3" cy="261.0" r="0.9"/>
<circle cx="620.4" cy="261.4" r="0.9"/>
<circle cx="641.1" cy="269.6" r="0.9"/>
<circle cx="624.9" cy="275.2" r="0.9"/>
<circle cx="601.2" cy="253.1" r="0.9"/>
<circle cx="593.1" cy="261.6" r="0.9"/>
<circle cx="607.4" cy="266.7" r="0.9"/>
<circle cx="621.9" cy="267.5" r="0.9"/>
<circle cx="606.9" cy="269.9" r="0.9"/>
<circle cx="608.8" cy="267.3" r="0.9"/>
<circle cx="601.7" cy="276.4" r="0.9"/>
<circle cx="596.4" cy="255.0" r="0.9"/>
<circle cx="587.7" cy="279.7" r="0.9"/>
<circle cx="596.6" cy="271.7" r="0.9"/>
<circle cx="653.3" cy="261.5" r="0.9"/>
<circle cx="637.8" cy="270.3" r="0.9"/>
<circle cx="644.6" cy="271.5" r="0.9"/>
<circle cx="616.7" cy="268.9" r="0.9"/>
<circle cx="611.4" cy="265.5" r="0.9"/>
<circle cx="632.1" cy="271.5" r="0.9"/>
<circle cx="605.8" cy="262.2" r="0.9"/>
<circle cx="639.3" cy="273.4" r="0.9"/>
<circle cx="617.1" cy="253.7" r="0.9"/>
<circle cx="631.7" cy="273.8" r="0.9"/>
<circle cx="597.1" cy="271.8" r="0.9"/>
<circle cx="585.2" cy="199.4" r="0.9"/>
<circle cx="616.6" cy="203.2" r="0.9"/>
<circle cx="615.3" cy="210.1" r="0.9"/>
<circle cx="650.5" cy="212.6" r="0.9"/>
<circle cx="645.8" cy="214.2" r="0.9"/>
<circle cx="667.7" cy="224.9" r="0.9"/>
<circle cx="565.7" cy="239.6" r="0.9"/>
<circle cx="570.1" cy="295.6" r="0.9"/>
<circle cx="585.5" cy="293.7" r="0.9"/>
<circle cx="603.4" cy="295.9" r="0.9"/>
<circle cx="614.7" cy="297.1" r="0.9"/>
<circle cx="580.5" cy="321.6" r="0.9"/>
<circle cx="589.0" cy="320.7" r="0.9"/>
<circle cx="602.5" cy="319.4" r="0.9"/>
<circle cx="610.0" cy="315.0" r="0.9"/>
<circle cx="614.1" cy="317.9" r="0.9"/>
<circle cx="614.7" cy="330.1" r="0.9"/>
<circle cx="618.1" cy="327.6" r="0.9"/>
<circle cx="621.6" cy="342.0" r="0.9"/>
<circle cx="616.3" cy="203.0" r="0.9"/>
<circle cx="651.3" cy="211.7" r="0.9"/>
<circle cx="645.3" cy="214.8" r="0.9"/>
<circle cx="668.0" cy="223.6" r="0.9"/>
<circle cx="612.4" cy="229.0" r="0.9"/>
</g>
<line x1="539" y1="270.8" x2="684" y2="262.4" stroke="#cfcfcf" stroke-opacity="0.5" stroke-width="2.6"/>
<line x1="539" y1="270.8" x2="684" y2="262.4" stroke="#4670e6" stroke-width="1.35"/>
<path d="M531.5,192.8 V348.6 H685" fill="none" stroke="#222" stroke-width="1.1"/>
<line x1="528.3" x2="531.5" y1="199.8" y2="199.8" stroke="#222" stroke-width="1.1"/>
<text x="526.9" y="203.6" text-anchor="end">4,250</text>
<line x1="528.3" x2="531.5" y1="238.8" y2="238.8" stroke="#222" stroke-width="1.1"/>
<text x="526.9" y="242.6" text-anchor="end">4,000</text>
<line x1="528.3" x2="531.5" y1="277.9" y2="277.9" stroke="#222" stroke-width="1.1"/>
<text x="526.9" y="281.7" text-anchor="end">3,750</text>
<line x1="528.3" x2="531.5" y1="317.2" y2="317.2" stroke="#222" stroke-width="1.1"/>
<text x="526.9" y="321.0" text-anchor="end">3,500</text>
<line x1="570.1" x2="570.1" y1="348.6" y2="351.7" stroke="#222" stroke-width="1.1"/>
<text x="570.1" y="361.8" text-anchor="middle">−2</text>
<line x1="614.0" x2="614.0" y1="348.6" y2="351.7" stroke="#222" stroke-width="1.1"/>
<text x="614.0" y="361.8" text-anchor="middle">0</text>
<line x1="657.7" x2="657.7" y1="348.6" y2="351.7" stroke="#222" stroke-width="1.1"/>
<text x="657.7" y="361.8" text-anchor="middle">2</text>
<text x="543.6" y="223.8" textLength="104.6" lengthAdjust="spacingAndGlyphs"><tspan font-style="italic">R</tspan> = 0.14, <tspan font-style="italic">P</tspan> = 6.7 × 10<tspan font-size="5.8" dy="-3.8">-7</tspan></text>
<text x="614.8" y="375.5" text-anchor="middle" textLength="68.5" lengthAdjust="spacingAndGlyphs">Trait value (INT)</text>
<text transform="translate(474.0,92.0) rotate(-90)" text-anchor="middle" textLength="71.8" lengthAdjust="spacingAndGlyphs">Polygenic score</text>
<text transform="translate(486.7,92.0) rotate(-90)" text-anchor="middle" textLength="112.8" lengthAdjust="spacingAndGlyphs">(weighted sum at <tspan font-style="italic">P</tspan> &lt; 0.1)</text>
<text transform="translate(474.0,270.0) rotate(-90)" text-anchor="middle" textLength="71.8" lengthAdjust="spacingAndGlyphs">Polygenic score</text>
<text transform="translate(486.7,270.0) rotate(-90)" text-anchor="middle" textLength="112.8" lengthAdjust="spacingAndGlyphs">(weighted sum at <tspan font-style="italic">P</tspan> &lt; 0.1)</text>
</svg>
</body></html>
